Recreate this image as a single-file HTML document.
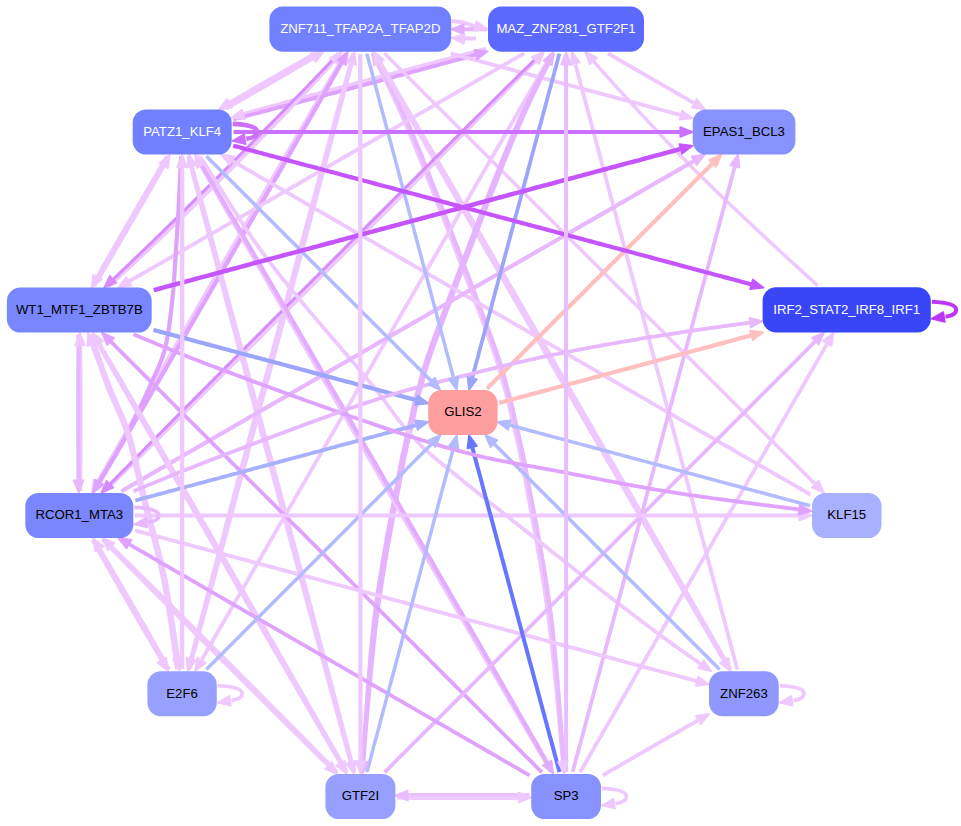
<!DOCTYPE html>
<html><head><meta charset="utf-8"><title>network</title>
<style>html,body{margin:0;padding:0;background:#fff}svg{display:block}text{font-family:"Liberation Sans",Arial,Helvetica,sans-serif;font-size:13.2px;text-anchor:middle}</style>
</head><body>
<svg width="961" height="826" viewBox="0 0 961 826">
<rect width="961" height="826" fill="#fff"/>
<g stroke-linecap="butt" stroke-linejoin="round">
<path d="M226.3,107.8 L229.3,106.1 232.0,104.6 234.6,103.1 237.3,101.6 240.0,100.1 242.7,98.5 245.5,96.9 248.3,95.4 251.1,93.8 253.9,92.1 256.7,90.5 259.5,88.9 262.4,87.3 265.2,85.6 268.1,84.0 271.0,82.3 273.8,80.7 276.7,79.0 279.5,77.4 282.4,75.7 285.2,74.1 288.1,72.4 290.9,70.8 293.7,69.2 296.4,67.5 299.2,65.9 301.9,64.3 304.6,62.8 307.3,61.2 310.0,59.6 312.6,58.1" stroke="#eec8ff" stroke-width="4.7" fill="none"/>
<path d="M316.2,53.4 L313.2,55.1 310.5,56.6 307.9,58.1 305.2,59.6 302.5,61.1 299.8,62.7 297.0,64.3 294.2,65.8 291.4,67.4 288.6,69.1 285.8,70.7 283.0,72.3 280.1,73.9 277.3,75.6 274.4,77.2 271.5,78.9 268.7,80.5 265.8,82.2 263.0,83.8 260.1,85.5 257.3,87.1 254.4,88.8 251.6,90.4 248.8,92.0 246.1,93.7 243.3,95.3 240.6,96.9 237.9,98.4 235.2,100.0 232.5,101.6 229.9,103.1" stroke="#eec8ff" stroke-width="4.7" fill="none"/>
<path d="M486.4,49.3 L483.2,50.1 480.0,50.9 476.8,51.8 473.5,52.6 470.2,53.5 466.9,54.3 463.6,55.2 460.2,56.1 457.3,56.9 454.3,57.6 451.4,58.4 448.4,59.2 445.4,60.0 442.4,60.8 439.4,61.6 436.3,62.4 433.3,63.2 430.2,64.0 427.2,64.8 424.1,65.6 421.0,66.5 417.9,67.3 414.8,68.1 411.6,68.9 408.5,69.8 405.4,70.6 402.2,71.4 399.1,72.3 395.9,73.1 392.7,74.0 389.6,74.8 386.4,75.7 383.2,76.5 380.0,77.4 376.9,78.2 373.7,79.1 370.5,79.9 367.3,80.8 364.2,81.6 361.0,82.5 357.8,83.3 354.6,84.2 351.5,85.0 348.3,85.9 345.2,86.7 342.0,87.6 338.9,88.4 335.8,89.3 332.6,90.1 329.5,90.9 326.4,91.8 323.3,92.6 320.3,93.4 317.2,94.3 314.1,95.1 311.1,95.9 308.1,96.8 305.0,97.6 302.0,98.4 299.1,99.2 296.1,100.0 293.2,100.8 290.2,101.6 287.3,102.4 283.9,103.3 280.6,104.2 277.3,105.2 274.0,106.1 270.7,106.9 267.5,107.8 264.3,108.7 261.2,109.6 258.0,110.4 255.0,111.3 251.9,112.1 248.9,113.0 245.9,113.8 244.0,114.3" stroke="#eec8ff" stroke-width="4.8" fill="none"/>
<path d="M233.4,119.3 L236.7,118.4 240.1,117.6 243.6,116.7 246.5,115.9 249.5,115.1 252.5,114.4 255.6,113.6 258.7,112.8 261.8,111.9 265.0,111.1 268.2,110.3 271.4,109.4 274.7,108.6 278.0,107.7 281.3,106.9 284.6,106.0 288.0,105.1 290.9,104.3 293.9,103.6 296.8,102.8 299.8,102.0 302.8,101.2 305.8,100.4 308.8,99.6 311.9,98.8 314.9,98.0 318.0,97.2 321.0,96.4 324.1,95.6 327.2,94.7 330.3,93.9 333.4,93.1 336.6,92.3 339.7,91.4 342.8,90.6 346.0,89.8 349.1,88.9 352.3,88.1 355.5,87.2 358.6,86.4 361.8,85.5 365.0,84.7 368.2,83.8 371.3,83.0 374.5,82.1 377.7,81.3 380.9,80.4 384.0,79.6 387.2,78.7 390.4,77.9 393.6,77.0 396.7,76.2 399.9,75.3 403.0,74.5 406.2,73.6 409.3,72.8 412.4,71.9 415.6,71.1 418.7,70.3 421.8,69.4 424.9,68.6 427.9,67.8 431.0,66.9 434.1,66.1 437.1,65.3 440.1,64.4 443.2,63.6 446.2,62.8 449.1,62.0 452.1,61.2 455.0,60.4 458.0,59.6 460.9,58.8 464.3,57.9 467.6,57.0 470.9,56.0 474.2,55.1 475.3,54.8" stroke="#dfa3ff" stroke-width="3.9" fill="none"/>
<path d="M108.3,286.1 L110.6,284.0 113.0,281.9 115.5,279.7 118.0,277.4 120.5,275.1 123.1,272.8 125.7,270.4 128.2,268.1 130.4,266.0 132.7,263.9 135.0,261.8 137.3,259.6 139.7,257.4 142.0,255.2 144.4,253.0 146.9,250.7 149.3,248.4 151.8,246.1 154.2,243.7 156.7,241.3 159.2,238.9 161.7,236.6 163.8,234.5 166.0,232.4 168.3,230.3 170.5,228.2 172.7,226.0 174.9,223.9 177.2,221.7 179.4,219.5 181.7,217.3 184.0,215.1 186.3,212.9 188.6,210.6 190.9,208.4 193.2,206.1 195.5,203.9 197.8,201.6 200.1,199.3 202.4,197.1 204.7,194.8 207.0,192.5 209.4,190.2 211.7,187.9 214.0,185.6 216.4,183.3 218.7,180.9 221.0,178.6 223.3,176.3 225.7,174.0 228.0,171.6 230.3,169.3 232.6,167.0 234.9,164.7 237.3,162.3 239.6,160.0 241.9,157.7 244.2,155.4 246.5,153.0 248.7,150.7 251.0,148.4 253.3,146.1 255.6,143.8 257.8,141.5 260.1,139.2 262.3,136.9 264.5,134.6 266.7,132.3 268.9,130.1 271.1,127.8 273.3,125.6 275.5,123.3 277.6,121.1 279.8,118.9 281.9,116.7 284.0,114.5 286.1,112.3 288.3,110.0 290.7,107.4 293.1,104.9 295.5,102.5 297.8,100.0 300.1,97.5 302.4,95.1 304.7,92.7 306.9,90.3 309.1,88.0 311.3,85.6 313.4,83.3 315.5,81.1 317.6,78.8 319.8,76.4 322.2,73.8 324.6,71.2 326.9,68.7 329.1,66.2 331.3,63.7 333.5,61.3" stroke="#eec8ff" stroke-width="4.2" fill="none"/>
<path d="M338.2,53.7 L335.8,56.3 333.7,58.6 331.5,60.9 329.3,63.2 327.0,65.7 324.7,68.1 322.3,70.6 319.9,73.2 317.4,75.8 315.3,78.0 313.2,80.2 311.0,82.4 308.8,84.7 306.6,87.0 304.4,89.3 302.1,91.7 299.8,94.1 297.5,96.5 295.1,98.9 292.7,101.3 290.3,103.8 287.9,106.3 285.5,108.8 283.4,110.9 281.2,113.1 279.1,115.3 277.0,117.5 274.8,119.7 272.6,121.9 270.4,124.1 268.2,126.4 266.0,128.6 263.8,130.9 261.6,133.2 259.3,135.4 257.1,137.7 254.8,140.0 252.5,142.3 250.3,144.6 248.0,146.9 245.7,149.2 243.4,151.5 241.1,153.8 238.8,156.1 236.5,158.5 234.2,160.8 231.8,163.1 229.5,165.4 227.2,167.8 224.9,170.1 222.6,172.4 220.2,174.7 217.9,177.1 215.6,179.4 213.2,181.7 210.9,184.0 208.6,186.3 206.3,188.6 204.0,190.9 201.6,193.2 199.3,195.5 197.0,197.8 194.7,200.1 192.4,202.4 190.1,204.6 187.8,206.9 185.6,209.2 183.3,211.4 181.0,213.6 178.8,215.8 176.5,218.1 174.3,220.3 172.1,222.4 169.8,224.6 167.6,226.8 165.4,228.9 163.2,231.1 161.1,233.2 158.9,235.3 156.4,237.7 153.9,240.2 151.5,242.6 149.0,244.9 146.6,247.3 144.2,249.6 141.8,251.9 139.5,254.2 137.1,256.4 134.8,258.6 132.5,260.8 130.3,263.0 128.1,265.1 125.9,267.2 123.3,269.7 120.7,272.1 118.2,274.5 115.8,276.8 113.4,279.1" stroke="#d68cff" stroke-width="3.0" fill="none"/>
<path d="M345.6,53.7 L343.9,56.5 342.2,59.4 340.5,62.3 338.7,65.4 336.8,68.5 335.0,71.6 333.4,74.2 331.9,76.9 330.3,79.6 328.7,82.3 327.0,85.1 325.3,88.0 323.6,90.9 321.9,93.8 320.2,96.8 318.4,99.8 316.6,102.9 315.0,105.7 313.4,108.3 311.9,110.9 310.3,113.6 308.8,116.3 307.2,119.0 305.6,121.7 304.0,124.4 302.4,127.2 300.7,130.0 299.1,132.8 297.4,135.7 295.7,138.6 294.1,141.4 292.4,144.3 290.7,147.3 288.9,150.2 287.2,153.2 285.5,156.2 283.7,159.2 282.1,162.0 280.6,164.6 279.1,167.2 277.5,169.8 276.0,172.4 274.5,175.1 272.9,177.7 271.4,180.4 269.8,183.1 268.3,185.8 266.7,188.5 265.1,191.2 263.5,193.9 262.0,196.6 260.4,199.3 258.8,202.1 257.2,204.8 255.6,207.6 254.0,210.3 252.4,213.1 250.8,215.9 249.2,218.7 247.5,221.5 245.9,224.3 244.3,227.1 242.7,229.9 241.0,232.7 239.4,235.5 237.8,238.3 236.2,241.1 234.5,243.9 232.9,246.8 231.2,249.6 229.6,252.4 228.0,255.3 226.3,258.1 224.7,260.9 223.0,263.8 221.4,266.6 219.8,269.5 218.1,272.3 216.5,275.2 214.8,278.0 213.2,280.8 211.6,283.7 209.9,286.5 208.3,289.4 206.6,292.2 205.0,295.0 203.4,297.9 201.7,300.7 200.1,303.5 198.5,306.3 196.9,309.1 195.2,312.0 193.6,314.8 192.0,317.6 190.4,320.4 188.8,323.2 187.2,326.0 185.6,328.7 184.0,331.5 182.4,334.3 180.8,337.1 179.2,339.8 177.6,342.6 176.0,345.3 174.5,348.0 172.9,350.8 171.3,353.5 169.8,356.2 168.2,358.9 166.7,361.6 165.1,364.3 163.6,366.9 162.1,369.6 160.6,372.2 159.1,374.9 157.5,377.5 156.0,380.1 154.6,382.7 152.8,385.8 151.1,388.8 149.4,391.7 147.7,394.7 146.0,397.7 144.3,400.6 142.7,403.5 141.0,406.4 139.4,409.3 137.7,412.1 136.1,414.9 134.5,417.7 132.9,420.5 131.4,423.3 129.8,426.0 128.3,428.7 126.7,431.4 125.2,434.1 123.7,436.7 122.2,439.3 120.5,442.4 118.7,445.5 117.0,448.5 115.3,451.5 113.6,454.4 112.0,457.3 110.4,460.1 108.8,462.9 107.2,465.7 105.7,468.4 104.2,471.1 102.6,473.9 100.8,477.1 99.0,480.2 98.2,481.8" stroke="#eec8ff" stroke-width="4.2" fill="none"/>
<path d="M94.0,491.0 L95.7,488.2 97.4,485.3 99.2,482.4 101.0,479.3 102.8,476.2 104.7,473.1 106.2,470.5 107.8,467.8 109.4,465.1 111.0,462.4 112.6,459.6 114.3,456.7 116.0,453.8 117.7,450.9 119.5,447.9 121.2,444.9 123.0,441.8 124.7,439.0 126.2,436.4 127.8,433.8 129.3,431.1 130.9,428.4 132.5,425.7 134.1,423.0 135.7,420.3 137.3,417.5 138.9,414.7 140.6,411.9 142.2,409.0 143.9,406.1 145.6,403.3 147.3,400.4 149.0,397.4 150.7,394.5 152.4,391.5 154.2,388.5 155.9,385.5 157.6,382.7 159.1,380.1 160.6,377.5 162.1,374.9 163.6,372.3 165.2,369.6 166.7,367.0 168.3,364.3 169.8,361.6 171.4,358.9 173.0,356.2 174.5,353.5 176.1,350.8 177.7,348.1 179.3,345.4 180.9,342.6 182.5,339.9 184.1,337.1 185.7,334.4 187.3,331.6 188.9,328.8 190.5,326.0 192.1,323.2 193.7,320.4 195.4,317.6 197.0,314.8 198.6,312.0 200.2,309.2 201.9,306.4 203.5,303.6 205.1,300.8 206.8,297.9 208.4,295.1 210.0,292.3 211.7,289.4 213.3,286.6 215.0,283.8 216.6,280.9 218.3,278.1 219.9,275.2 221.5,272.4 223.2,269.5 224.8,266.7 226.5,263.9 228.1,261.0 229.7,258.2 231.4,255.3 233.0,252.5 234.6,249.7 236.3,246.8 237.9,244.0 239.5,241.2 241.2,238.4 242.8,235.6 244.4,232.7 246.0,229.9 247.6,227.1 249.3,224.3 250.9,221.5 252.5,218.7 254.1,216.0 255.7,213.2 257.3,210.4 258.9,207.6 260.5,204.9 262.0,202.1 263.6,199.4 265.2,196.7 266.7,193.9 268.3,191.2 269.9,188.5 271.4,185.8 273.0,183.1 274.5,180.4 276.0,177.8 277.6,175.1 279.1,172.5 280.6,169.8 282.1,167.2 283.6,164.6 285.1,162.0 286.8,158.9 288.5,155.9 290.3,153.0 292.0,150.0 293.6,147.0 295.3,144.1 297.0,141.2 298.6,138.3 300.3,135.4 301.9,132.6 303.5,129.8 305.1,127.0 306.7,124.2 308.3,121.4 309.8,118.7 311.4,116.0 312.9,113.3 314.4,110.6 315.9,108.0 317.4,105.4 319.2,102.3 320.9,99.2 322.6,96.2 324.3,93.2 326.0,90.3 327.6,87.4 329.3,84.6 330.9,81.8 332.4,79.0 334.0,76.3 335.5,73.6 337.1,70.8 338.9,67.6 340.6,64.5 341.5,62.9" stroke="#dfa3ff" stroke-width="4.2" fill="none"/>
<path d="M188.8,669.7 L189.8,666.3 190.6,663.4 191.4,660.3 192.3,657.2 193.2,654.0 194.1,650.7 195.0,647.4 195.9,643.9 196.9,640.4 197.9,636.9 198.8,633.6 199.6,630.7 200.4,627.7 201.2,624.6 202.1,621.6 202.9,618.4 203.8,615.3 204.6,612.1 205.5,608.8 206.4,605.6 207.3,602.2 208.2,598.9 209.2,595.5 210.1,592.1 211.0,588.8 211.8,585.9 212.6,583.0 213.4,580.0 214.2,577.0 215.0,574.0 215.8,571.0 216.7,567.9 217.5,564.9 218.3,561.8 219.2,558.7 220.0,555.5 220.9,552.4 221.7,549.2 222.6,546.0 223.5,542.8 224.3,539.6 225.2,536.3 226.1,533.1 227.0,529.8 227.9,526.5 228.8,523.2 229.7,519.9 230.6,516.5 231.5,513.1 232.4,509.9 233.2,507.0 234.0,504.1 234.7,501.2 235.5,498.2 236.3,495.3 237.1,492.3 237.9,489.3 238.7,486.4 239.5,483.4 240.4,480.4 241.2,477.4 242.0,474.3 242.8,471.3 243.6,468.3 244.4,465.2 245.3,462.2 246.1,459.1 246.9,456.1 247.7,453.0 248.6,449.9 249.4,446.8 250.2,443.8 251.1,440.7 251.9,437.6 252.7,434.5 253.6,431.3 254.4,428.2 255.2,425.1 256.1,422.0 256.9,418.8 257.8,415.7 258.6,412.6 259.5,409.4 260.3,406.3 261.1,403.1 262.0,400.0 262.8,396.8 263.7,393.7 264.5,390.5 265.4,387.3 266.2,384.2 267.1,381.0 267.9,377.8 268.8,374.7 269.6,371.5 270.5,368.3 271.3,365.2 272.2,362.0 273.0,358.8 273.9,355.7 274.7,352.5 275.6,349.3 276.4,346.1 277.3,343.0 278.1,339.8 279.0,336.6 279.8,333.5 280.7,330.3 281.5,327.2 282.4,324.0 283.2,320.9 284.1,317.7 284.9,314.6 285.7,311.4 286.6,308.3 287.4,305.1 288.3,302.0 289.1,298.9 289.9,295.7 290.8,292.6 291.6,289.5 292.4,286.4 293.3,283.3 294.1,280.2 294.9,277.1 295.7,274.0 296.6,270.9 297.4,267.9 298.2,264.8 299.0,261.8 299.8,258.7 300.6,255.7 301.4,252.6 302.3,249.6 303.1,246.6 303.9,243.6 304.7,240.6 305.5,237.6 306.3,234.6 307.0,231.6 307.8,228.6 308.6,225.7 309.4,222.7 310.2,219.8 311.0,216.9 311.7,214.0 312.6,210.8 313.5,207.4 314.4,204.1 315.3,200.8 316.1,197.4 317.0,194.1 317.9,190.8 318.8,187.6 319.6,184.3 320.5,181.1 321.3,177.9 322.2,174.7 323.0,171.5 323.9,168.3 324.7,165.2 325.5,162.1 326.3,159.0 327.2,155.9 328.0,152.8 328.8,149.8 329.6,146.8 330.4,143.8 331.1,140.8 331.9,137.9 332.7,135.0 333.5,131.8 334.4,128.3 335.3,124.9 336.2,121.6 337.1,118.2 338.0,114.9 338.8,111.7 339.7,108.5 340.5,105.3 341.3,102.2 342.2,99.1 343.0,96.0 343.7,93.0 344.5,90.0 345.4,86.9 346.3,83.3 347.2,79.8 348.1,76.3 349.0,73.0 349.9,69.7 350.7,66.4 351.3,64.3" stroke="#eec8ff" stroke-width="4.2" fill="none"/>
<path d="M353.4,53.9 L352.5,57.1 351.7,60.0 350.8,63.1 350.0,66.2 349.1,69.4 348.2,72.7 347.3,76.1 346.3,79.5 345.4,83.0 344.4,86.6 343.5,89.8 342.7,92.7 341.9,95.7 341.0,98.8 340.2,101.9 339.3,105.0 338.5,108.2 337.6,111.4 336.7,114.6 335.8,117.9 334.9,121.2 334.0,124.6 333.1,128.0 332.1,131.4 331.3,134.6 330.5,137.5 329.7,140.4 328.9,143.4 328.1,146.4 327.3,149.4 326.4,152.4 325.6,155.5 324.8,158.5 323.9,161.6 323.1,164.7 322.2,167.9 321.4,171.0 320.5,174.2 319.7,177.4 318.8,180.6 317.9,183.8 317.0,187.1 316.1,190.4 315.3,193.6 314.4,197.0 313.5,200.3 312.6,203.6 311.7,207.0 310.7,210.3 309.9,213.5 309.1,216.4 308.3,219.3 307.5,222.2 306.7,225.2 305.9,228.1 305.1,231.1 304.3,234.1 303.5,237.0 302.7,240.0 301.9,243.0 301.1,246.0 300.3,249.1 299.5,252.1 298.6,255.1 297.8,258.2 297.0,261.2 296.2,264.3 295.4,267.3 294.5,270.4 293.7,273.5 292.9,276.6 292.0,279.7 291.2,282.8 290.4,285.9 289.5,289.0 288.7,292.1 287.9,295.2 287.0,298.3 286.2,301.4 285.3,304.6 284.5,307.7 283.6,310.8 282.8,314.0 282.0,317.1 281.1,320.3 280.3,323.4 279.4,326.6 278.6,329.8 277.7,332.9 276.9,336.1 276.0,339.2 275.2,342.4 274.3,345.6 273.5,348.7 272.6,351.9 271.8,355.1 270.9,358.3 270.1,361.4 269.2,364.6 268.4,367.8 267.5,370.9 266.7,374.1 265.8,377.3 265.0,380.4 264.1,383.6 263.3,386.8 262.4,389.9 261.6,393.1 260.7,396.3 259.9,399.4 259.0,402.6 258.2,405.7 257.4,408.9 256.5,412.0 255.7,415.2 254.8,418.3 254.0,421.4 253.2,424.5 252.3,427.7 251.5,430.8 250.7,433.9 249.8,437.0 249.0,440.1 248.2,443.2 247.4,446.3 246.5,449.4 245.7,452.5 244.9,455.5 244.1,458.6 243.3,461.7 242.4,464.7 241.6,467.7 240.8,470.8 240.0,473.8 239.2,476.8 238.4,479.8 237.6,482.8 236.8,485.8 236.0,488.8 235.2,491.8 234.4,494.8 233.6,497.7 232.9,500.7 232.1,503.6 231.3,506.5 230.5,509.4 229.7,512.6 228.8,516.0 227.9,519.4 227.0,522.7 226.1,526.0 225.2,529.3 224.4,532.6 223.5,535.9 222.6,539.1 221.8,542.4 220.9,545.6 220.1,548.8 219.2,552.0 218.4,555.1 217.6,558.2 216.7,561.4 215.9,564.5 215.1,567.5 214.3,570.6 213.5,573.6 212.7,576.6 211.9,579.6 211.1,582.6 210.3,585.5 209.6,588.4 208.7,591.7 207.8,595.1 206.9,598.5 206.0,601.9 205.1,605.2 204.3,608.5 203.4,611.7 202.6,615.0 201.7,618.1 200.9,621.2 200.1,624.3 199.3,627.4 198.5,630.4 197.7,633.3 196.9,636.6 195.9,640.2 195.0,643.7 194.1,647.1 193.3,650.5 192.4,653.8 191.6,657.0 191.1,658.6" stroke="#eec8ff" stroke-width="4.2" fill="none"/>
<path d="M372.5,53.5 L373.9,56.3 375.4,59.3 376.8,62.2 378.2,65.0 379.7,67.9 381.1,70.7 382.4,73.4 383.8,76.2 385.1,79.0 386.5,82.0 387.9,84.8 389.2,87.5 390.5,90.3 391.9,93.1 393.2,96.0 394.6,98.9 395.8,101.7 397.1,104.4 398.3,107.2 399.6,110.0 400.9,112.9 402.2,115.8 403.5,118.8 404.8,121.7 406.0,124.5 407.2,127.3 408.4,130.2 409.6,133.0 410.8,135.9 411.9,138.7 413.1,141.5 414.2,144.3 415.4,147.1 416.5,149.9 417.7,152.7 418.8,155.5 419.9,158.3 421.1,161.1 422.2,163.9 423.4,166.9 424.5,169.8 425.7,172.7 426.8,175.5 427.9,178.4 429.1,181.3 430.2,184.2 431.4,187.2 432.5,190.0 433.6,192.9 434.8,195.8 435.9,198.6 437.0,201.5 438.1,204.4 439.3,207.3 440.4,210.3 441.5,213.2 442.7,216.1 443.8,218.9 444.9,221.8 445.9,224.6 447.0,227.4 448.1,230.2 449.2,233.0 450.3,235.8 451.4,238.8 452.6,241.7 453.7,244.7 454.8,247.6 455.9,250.5 457.0,253.4 458.1,256.3 459.2,259.2 460.3,262.0 461.4,264.9 462.5,267.7 463.6,270.5 464.6,273.4 465.7,276.3 466.8,279.1 468.0,282.1 469.1,285.0 470.2,288.0 471.3,290.9 472.4,293.7 473.4,296.5 474.5,299.4 475.6,302.3 476.7,305.2 477.8,308.1 478.9,311.0 480.0,313.8 481.0,316.7 482.1,319.6 483.2,322.5 484.3,325.4 485.4,328.5 486.6,331.5 487.7,334.6 488.8,337.5 489.8,340.3 490.8,343.2 491.9,346.1 493.0,349.1 494.0,352.2 495.0,355.0 496.1,358.1 497.1,361.4 498.2,364.6 499.2,367.8 500.1,371.0 501.1,374.4 501.9,377.5 502.6,380.4 503.4,383.4 504.3,386.6 505.4,390.2 506.3,393.5 507.4,397.5 508.3,400.9 509.0,404.1 509.7,407.1 510.4,410.4 511.2,414.3 512.0,417.7 512.8,421.2 513.6,424.8 514.4,428.3 515.3,431.8 516.2,435.5 517.0,439.0 517.7,442.1 518.5,445.4 519.3,448.9 519.9,452.0 520.6,455.3 521.3,458.5 521.9,461.6 522.5,464.9 523.1,468.1 523.7,471.2 524.3,474.5 524.9,477.5 525.5,480.7 526.1,483.8 526.6,486.8 527.2,489.9 527.8,493.1 528.4,496.4 529.0,499.5 529.6,502.6 530.2,505.7 530.7,508.8 531.3,511.7 531.8,514.8 532.4,517.8 533.0,521.0 533.6,524.1 534.1,527.3 534.7,530.5 535.3,533.5 535.8,536.5 536.3,539.6 536.9,542.6 537.4,545.7 538.0,548.9 538.5,552.0 539.1,555.2 539.6,558.4 540.2,561.5 540.7,564.5 541.2,567.5 541.7,570.5 542.2,573.5 542.6,576.6 543.1,579.6 543.6,582.6 544.1,585.7 544.6,588.8 545.0,591.8 545.5,594.9 545.9,598.0 546.4,601.1 546.8,604.1 547.3,607.2 547.7,610.3 548.1,613.4 548.5,616.4 548.9,619.5 549.3,622.6 549.7,625.8 550.1,628.9 550.5,632.0 550.8,635.1 551.2,638.1 551.5,641.1 551.9,644.2 552.2,647.4 552.6,650.5 552.9,653.5 553.2,656.5 553.5,659.6 553.8,662.7 554.2,665.8 554.5,669.0 554.8,672.2 555.1,675.3 555.4,678.3 555.7,681.3 556.0,684.3 556.3,687.4 556.6,690.4 556.9,693.4 557.1,696.5 557.4,699.5 557.7,702.6 558.0,705.6 558.3,708.6 558.5,711.6 558.8,714.6 559.1,717.6 559.4,720.8 559.7,723.9 559.9,727.0 560.2,730.1 560.5,733.2 560.8,736.2 561.0,739.2 561.3,742.2 561.6,745.3 561.8,748.4 562.1,751.6 562.4,754.8 562.7,757.9 562.9,760.9 563.0,761.4" stroke="#eec8ff" stroke-width="4.3" fill="none"/>
<path d="M564.3,772.2 L564.0,769.1 563.8,766.0 563.6,763.0 563.4,759.9 563.2,756.9 562.9,753.7 562.7,750.5 562.5,747.4 562.3,744.3 562.0,741.2 561.8,738.2 561.6,735.2 561.4,732.2 561.1,729.1 560.9,726.0 560.7,722.9 560.4,719.7 560.2,716.6 560.0,713.6 559.8,710.6 559.5,707.6 559.3,704.6 559.0,701.5 558.8,698.5 558.6,695.5 558.3,692.4 558.1,689.4 557.8,686.4 557.6,683.3 557.3,680.3 557.1,677.3 556.8,674.3 556.5,671.1 556.3,667.9 556.0,664.8 555.7,661.7 555.4,658.6 555.1,655.5 554.8,652.5 554.6,649.5 554.2,646.3 553.9,643.2 553.6,640.1 553.3,637.1 553.0,634.1 552.7,631.0 552.3,627.9 552.0,624.7 551.6,621.6 551.2,618.5 550.8,615.4 550.4,612.3 550.0,609.3 549.6,606.2 549.2,603.1 548.8,600.0 548.3,597.0 547.9,593.9 547.4,590.8 547.0,587.7 546.5,584.7 546.0,581.6 545.5,578.6 545.1,575.6 544.6,572.5 544.1,569.5 543.6,566.5 543.1,563.5 542.6,560.5 542.0,557.3 541.5,554.1 540.9,551.0 540.4,547.8 539.8,544.7 539.3,541.6 538.7,538.5 538.2,535.5 537.6,532.5 537.1,529.5 536.5,526.3 535.9,523.1 535.3,519.9 534.7,516.8 534.1,513.8 533.6,510.7 533.0,507.8 532.4,504.7 531.8,501.5 531.2,498.4 530.6,495.3 530.0,492.0 529.4,488.9 528.8,485.8 528.3,482.8 527.7,479.6 527.1,476.5 526.6,473.4 525.9,470.1 525.4,467.1 524.7,463.7 524.1,460.5 523.5,457.5 522.8,454.1 522.1,450.9 521.4,447.7 520.6,444.2 519.9,441.0 519.2,438.0 518.3,434.2 517.4,430.6 516.6,427.1 515.7,423.6 514.9,420.0 514.1,416.6 513.4,412.9 512.6,409.3 511.9,406.1 511.2,403.0 510.4,399.8 509.4,396.1 508.4,392.5 507.4,389.0 506.4,385.5 505.6,382.4 504.8,379.4 504.0,376.5 503.2,373.3 502.2,369.8 501.3,366.8 500.2,363.4 499.2,360.3 498.1,357.1 497.1,354.1 496.1,351.2 495.0,348.1 493.9,345.1 492.9,342.2 491.8,339.3 490.8,336.5 489.7,333.6 488.6,330.5 487.4,327.4 486.3,324.4 485.2,321.5 484.2,318.7 483.1,315.8 482.0,312.9 480.9,310.0 479.8,307.1 478.8,304.2 477.7,301.3 476.6,298.5 475.5,295.6 474.5,292.8 473.4,289.9 472.3,287.0 471.2,284.1 470.1,281.1 469.0,278.2 467.9,275.3 466.8,272.4 465.7,269.6 464.6,266.7 463.6,263.9 462.5,261.1 461.4,258.2 460.3,255.3 459.2,252.5 458.1,249.5 457.0,246.6 455.9,243.7 454.7,240.8 453.6,237.8 452.5,234.9 451.4,232.1 450.3,229.2 449.2,226.4 448.1,223.6 447.1,220.8 446.0,218.0 444.9,215.2 443.7,212.2 442.6,209.3 441.5,206.4 440.3,203.5 439.2,200.6 438.1,197.7 437.0,194.8 435.8,191.9 434.7,189.1 433.6,186.2 432.4,183.2 431.2,180.3 430.1,177.4 429.0,174.6 427.8,171.7 426.7,168.8 425.5,165.9 424.3,163.0 423.2,160.2 422.1,157.4 421.0,154.6 419.8,151.8 418.7,149.0 417.5,146.2 416.3,143.4 415.2,140.5 414.0,137.7 412.8,134.9 411.6,132.1 410.3,129.2 409.1,126.4 407.9,123.6 406.6,120.8 405.3,117.8 403.9,114.9 402.6,112.0 401.3,109.1 400.0,106.3 398.7,103.5 397.3,100.8 396.0,98.0 394.6,95.1 393.2,92.2 391.8,89.4 390.4,86.6 389.1,83.9 387.6,81.0 386.1,78.1 384.7,75.3 383.2,72.5 381.8,69.8 380.3,66.9 378.8,64.1 378.3,63.1" stroke="#e8b8ff" stroke-width="4.3" fill="none"/>
<path d="M373.9,53.4 L375.7,56.6 377.2,59.2 378.8,62.0 380.3,64.8 382.0,67.6 383.6,70.6 385.3,73.5 387.0,76.6 388.8,79.7 390.6,82.8 392.4,86.0 394.0,88.9 395.6,91.5 397.1,94.2 398.6,96.9 400.2,99.7 401.8,102.5 403.4,105.3 405.0,108.1 406.7,111.0 408.3,113.9 410.0,116.9 411.7,119.9 413.4,122.9 415.2,125.9 416.9,129.0 418.7,132.1 420.2,134.7 421.7,137.4 423.2,140.0 424.8,142.7 426.3,145.3 427.8,148.0 429.4,150.8 431.0,153.5 432.5,156.2 434.1,159.0 435.7,161.8 437.3,164.6 438.9,167.4 440.6,170.2 442.2,173.1 443.8,175.9 445.5,178.8 447.1,181.7 448.8,184.6 450.5,187.6 452.2,190.5 453.9,193.4 455.6,196.4 457.3,199.4 459.0,202.4 460.7,205.4 462.5,208.4 464.2,211.4 465.7,214.1 467.2,216.7 468.8,219.4 470.3,222.0 471.8,224.6 473.3,227.3 474.8,230.0 476.4,232.6 477.9,235.3 479.5,238.0 481.0,240.7 482.6,243.4 484.1,246.1 485.7,248.8 487.2,251.5 488.8,254.2 490.4,257.0 491.9,259.7 493.5,262.4 495.1,265.2 496.7,267.9 498.3,270.7 499.9,273.5 501.5,276.2 503.1,279.0 504.7,281.8 506.3,284.6 507.9,287.4 509.5,290.2 511.1,293.0 512.7,295.8 514.3,298.6 515.9,301.4 517.6,304.2 519.2,307.0 520.8,309.8 522.4,312.6 524.1,315.5 525.7,318.3 527.3,321.1 529.0,324.0 530.6,326.8 532.2,329.6 533.9,332.5 535.5,335.3 537.2,338.1 538.8,341.0 540.4,343.8 542.1,346.7 543.7,349.5 545.4,352.4 547.0,355.2 548.6,358.1 550.3,360.9 551.9,363.8 553.6,366.6 555.2,369.5 556.9,372.3 558.5,375.1 560.2,378.0 561.8,380.8 563.4,383.7 565.1,386.5 566.7,389.4 568.4,392.2 570.0,395.0 571.6,397.9 573.3,400.7 574.9,403.5 576.5,406.4 578.2,409.2 579.8,412.0 581.4,414.8 583.1,417.7 584.7,420.5 586.3,423.3 587.9,426.1 589.6,428.9 591.2,431.7 592.8,434.5 594.4,437.3 596.0,440.0 597.6,442.8 599.2,445.6 600.8,448.4 602.4,451.1 604.0,453.9 605.6,456.7 607.2,459.4 608.8,462.1 610.4,464.9 612.0,467.6 613.6,470.3 615.1,473.1 616.7,475.8 618.3,478.5 619.8,481.2 621.4,483.9 622.9,486.5 624.5,489.2 626.0,491.9 627.6,494.6 629.1,497.2 630.7,499.8 632.2,502.5 633.7,505.1 635.2,507.7 636.7,510.3 638.3,513.1 640.1,516.1 641.8,519.1 643.6,522.1 645.3,525.1 647.0,528.1 648.7,531.0 650.5,534.0 652.2,536.9 653.8,539.8 655.5,542.7 657.2,545.6 658.9,548.5 660.5,551.3 662.2,554.1 663.8,557.0 665.4,559.8 667.1,562.6 668.7,565.3 670.3,568.1 671.9,570.8 673.5,573.5 675.0,576.2 676.6,578.9 678.1,581.6 679.7,584.2 681.2,586.8 682.7,589.4 684.3,592.2 686.1,595.3 687.9,598.3 689.7,601.3 691.4,604.3 693.1,607.3 694.8,610.2 696.5,613.1 698.2,616.0 699.8,618.8 701.5,621.6 703.1,624.4 704.7,627.1 706.3,629.8 707.8,632.4 709.3,635.1 711.1,638.0 712.9,641.2 714.7,644.3 716.5,647.4 718.3,650.4 720.0,653.3 721.7,656.2 723.4,659.0 724.2,660.4" stroke="#eec8ff" stroke-width="4.3" fill="none"/>
<path d="M730.3,669.5 L728.5,666.3 727.0,663.7 725.4,660.9 723.9,658.1 722.2,655.3 720.6,652.3 718.9,649.4 717.2,646.3 715.4,643.2 713.6,640.1 711.8,636.9 710.2,634.0 708.6,631.4 707.1,628.7 705.6,626.0 704.0,623.2 702.4,620.4 700.8,617.6 699.2,614.8 697.5,611.9 695.9,609.0 694.2,606.0 692.5,603.0 690.8,600.0 689.0,597.0 687.3,593.9 685.5,590.8 684.0,588.2 682.5,585.5 681.0,582.9 679.4,580.2 677.9,577.6 676.4,574.9 674.8,572.1 673.2,569.4 671.7,566.7 670.1,563.9 668.5,561.1 666.9,558.3 665.3,555.5 663.6,552.7 662.0,549.8 660.4,547.0 658.7,544.1 657.1,541.2 655.4,538.3 653.7,535.3 652.0,532.4 650.3,529.5 648.6,526.5 646.9,523.5 645.2,520.5 643.5,517.5 641.7,514.5 640.0,511.5 638.5,508.8 637.0,506.2 635.4,503.5 633.9,500.9 632.4,498.3 630.9,495.6 629.4,492.9 627.8,490.3 626.3,487.6 624.7,484.9 623.2,482.2 621.6,479.5 620.1,476.8 618.5,474.1 617.0,471.4 615.4,468.7 613.8,465.9 612.3,463.2 610.7,460.5 609.1,457.7 607.5,455.0 605.9,452.2 604.3,449.4 602.7,446.7 601.1,443.9 599.5,441.1 597.9,438.3 596.3,435.5 594.7,432.7 593.1,429.9 591.5,427.1 589.9,424.3 588.3,421.5 586.6,418.7 585.0,415.9 583.4,413.1 581.8,410.3 580.1,407.4 578.5,404.6 576.9,401.8 575.2,398.9 573.6,396.1 572.0,393.3 570.3,390.4 568.7,387.6 567.0,384.8 565.4,381.9 563.8,379.1 562.1,376.2 560.5,373.4 558.8,370.5 557.2,367.7 555.6,364.8 553.9,362.0 552.3,359.1 550.6,356.3 549.0,353.4 547.3,350.6 545.7,347.8 544.0,344.9 542.4,342.1 540.8,339.2 539.1,336.4 537.5,333.5 535.8,330.7 534.2,327.9 532.6,325.0 530.9,322.2 529.3,319.4 527.7,316.5 526.0,313.7 524.4,310.9 522.8,308.1 521.1,305.2 519.5,302.4 517.9,299.6 516.3,296.8 514.6,294.0 513.0,291.2 511.4,288.4 509.8,285.6 508.2,282.9 506.6,280.1 505.0,277.3 503.4,274.5 501.8,271.8 500.2,269.0 498.6,266.2 497.0,263.5 495.4,260.8 493.8,258.0 492.2,255.3 490.6,252.6 489.1,249.8 487.5,247.1 485.9,244.4 484.4,241.7 482.8,239.0 481.3,236.4 479.7,233.7 478.2,231.0 476.6,228.3 475.1,225.7 473.5,223.1 472.0,220.4 470.5,217.8 469.0,215.2 467.5,212.6 465.9,209.8 464.1,206.8 462.4,203.8 460.6,200.8 458.9,197.8 457.2,194.8 455.5,191.9 453.7,188.9 452.0,186.0 450.4,183.1 448.7,180.2 447.0,177.3 445.3,174.4 443.7,171.6 442.0,168.8 440.4,165.9 438.8,163.1 437.1,160.3 435.5,157.6 433.9,154.8 432.3,152.1 430.7,149.4 429.2,146.7 427.6,144.0 426.1,141.3 424.5,138.7 423.0,136.1 421.5,133.5 419.9,130.7 418.1,127.6 416.3,124.6 414.5,121.6 412.8,118.6 411.1,115.6 409.4,112.7 407.7,109.8 406.0,106.9 404.4,104.1 402.7,101.3 401.1,98.5 399.5,95.8 397.9,93.1 396.4,90.5 394.9,87.8 393.1,84.9 391.3,81.7 389.5,78.6 387.7,75.5 385.9,72.5 384.2,69.6 382.5,66.7 380.8,63.9 380.0,62.5" stroke="#eec8ff" stroke-width="4.3" fill="none"/>
<path d="M384.4,53.3 L386.7,55.6 389.0,57.9 391.4,60.3 393.9,62.8 396.4,65.3 398.9,67.8 401.5,70.4 404.0,72.9 406.2,75.1 408.4,77.3 410.6,79.5 412.8,81.7 415.1,84.0 417.4,86.3 419.8,88.7 422.1,91.0 424.5,93.4 427.0,95.9 429.4,98.3 431.9,100.8 434.4,103.3 436.9,105.8 439.0,107.9 441.1,110.0 443.3,112.2 445.5,114.4 447.7,116.6 449.9,118.8 452.1,121.0 454.4,123.3 456.6,125.5 458.9,127.8 461.2,130.1 463.5,132.4 465.8,134.7 468.2,137.0 470.5,139.4 472.9,141.8 475.2,144.1 477.6,146.5 480.0,148.9 482.5,151.3 484.9,153.8 487.3,156.2 489.8,158.6 492.2,161.1 494.7,163.5 496.8,165.7 498.9,167.8 501.1,169.9 503.2,172.1 505.4,174.2 507.5,176.4 509.7,178.6 511.9,180.8 514.1,183.0 516.3,185.2 518.5,187.4 520.7,189.6 522.9,191.8 525.1,194.0 527.3,196.2 529.6,198.4 531.8,200.7 534.1,202.9 536.3,205.2 538.6,207.4 540.8,209.7 543.1,211.9 545.3,214.2 547.6,216.5 549.9,218.7 552.2,221.0 554.4,223.3 556.7,225.6 559.0,227.9 561.3,230.2 563.6,232.5 565.9,234.8 568.2,237.1 570.5,239.4 572.8,241.7 575.1,244.0 577.4,246.3 579.7,248.6 582.1,250.9 584.4,253.2 586.7,255.5 589.0,257.9 591.3,260.2 593.6,262.5 596.0,264.8 598.3,267.1 600.6,269.4 602.9,271.8 605.2,274.1 607.6,276.4 609.9,278.7 612.2,281.1 614.5,283.4 616.8,285.7 619.2,288.0 621.5,290.3 623.8,292.6 626.1,295.0 628.4,297.3 630.7,299.6 633.0,301.9 635.3,304.2 637.6,306.5 640.0,308.8 642.2,311.1 644.5,313.4 646.8,315.7 649.1,318.0 651.4,320.3 653.7,322.5 656.0,324.8 658.3,327.1 660.5,329.4 662.8,331.6 665.1,333.9 667.3,336.2 669.6,338.4 671.8,340.7 674.1,342.9 676.3,345.1 678.5,347.4 680.8,349.6 683.0,351.8 685.2,354.0 687.4,356.2 689.6,358.4 691.8,360.6 694.0,362.8 696.2,365.0 698.4,367.2 700.5,369.4 702.7,371.5 704.9,373.7 707.0,375.8 709.2,378.0 711.3,380.1 713.5,382.4 716.0,384.8 718.5,387.3 720.9,389.7 723.3,392.2 725.8,394.6 728.2,397.0 730.6,399.4 732.9,401.8 735.3,404.1 737.7,406.5 740.0,408.8 742.3,411.2 744.6,413.5 746.9,415.8 749.2,418.1 751.5,420.3 753.8,422.6 756.0,424.8 758.2,427.0 760.4,429.2 762.6,431.4 764.8,433.6 766.9,435.7 769.1,437.9 771.3,440.1 773.9,442.7 776.3,445.2 778.8,447.6 781.2,450.1 783.7,452.5 786.0,454.9 788.4,457.2 790.7,459.5 793.0,461.8 795.3,464.1 797.5,466.3 799.7,468.5 801.9,470.7 804.1,472.9 806.8,475.6 809.3,478.1 811.9,480.7 814.3,483.1 815.2,484.0" stroke="#eec8ff" stroke-width="3.5" fill="none"/>
<path d="M450.8,53.4 L454.1,54.3 457.4,55.2 460.7,56.1 464.1,57.0 467.2,57.8 470.1,58.6 473.1,59.4 476.0,60.2 479.0,61.0 482.0,61.8 485.0,62.6 488.0,63.4 491.1,64.2 494.1,65.1 497.2,65.9 500.3,66.7 503.4,67.5 506.5,68.4 509.6,69.2 512.7,70.0 515.8,70.9 518.9,71.7 522.1,72.5 525.2,73.4 528.4,74.2 531.6,75.1 534.7,75.9 537.9,76.8 541.1,77.6 544.2,78.5 547.4,79.3 550.6,80.2 553.8,81.0 556.9,81.9 560.1,82.7 563.3,83.6 566.5,84.4 569.6,85.3 572.8,86.1 576.0,87.0 579.1,87.8 582.3,88.7 585.4,89.5 588.5,90.3 591.7,91.2 594.8,92.0 597.9,92.8 601.0,93.7 604.1,94.5 607.2,95.3 610.2,96.1 613.3,97.0 616.3,97.8 619.3,98.6 622.3,99.4 625.3,100.2 628.3,101.0 631.3,101.8 634.2,102.6 637.1,103.4 640.3,104.2 643.6,105.1 647.0,106.0 650.3,106.9 653.6,107.8 656.8,108.6 660.0,109.5 663.2,110.3 666.3,111.2 669.4,112.0 672.5,112.8 675.5,113.6 678.5,114.5 680.5,115.0" stroke="#eec8ff" stroke-width="3.8" fill="none"/>
<path d="M524.2,53.3 L521.5,54.9 518.8,56.4 516.1,58.0 513.3,59.6 510.5,61.2 507.7,62.9 504.8,64.5 501.9,66.2 498.9,67.9 495.9,69.7 492.8,71.4 489.8,73.2 487.2,74.7 484.6,76.2 481.9,77.7 479.2,79.3 476.5,80.8 473.8,82.4 471.0,84.0 468.3,85.6 465.5,87.2 462.6,88.9 459.8,90.5 456.9,92.2 454.0,93.8 451.1,95.5 448.2,97.2 445.2,98.9 442.3,100.6 439.3,102.3 436.3,104.1 433.3,105.8 430.7,107.3 428.1,108.8 425.5,110.3 422.9,111.8 420.2,113.3 417.6,114.9 414.9,116.4 412.2,118.0 409.5,119.5 406.8,121.1 404.1,122.6 401.4,124.2 398.7,125.8 395.9,127.4 393.2,128.9 390.4,130.5 387.7,132.1 384.9,133.7 382.1,135.3 379.4,136.9 376.6,138.5 373.8,140.1 371.0,141.8 368.2,143.4 365.4,145.0 362.6,146.6 359.7,148.2 356.9,149.9 354.1,151.5 351.3,153.1 348.4,154.8 345.6,156.4 342.8,158.0 339.9,159.7 337.1,161.3 334.3,162.9 331.4,164.6 328.6,166.2 325.7,167.9 322.9,169.5 320.0,171.2 317.2,172.8 314.4,174.4 311.5,176.1 308.7,177.7 305.8,179.4 303.0,181.0 300.2,182.6 297.3,184.3 294.5,185.9 291.7,187.5 288.8,189.2 286.0,190.8 283.2,192.4 280.4,194.0 277.6,195.7 274.8,197.3 272.0,198.9 269.2,200.5 266.4,202.1 263.6,203.7 260.9,205.3 258.1,206.9 255.3,208.5 252.6,210.1 249.8,211.7 247.1,213.3 244.4,214.8 241.6,216.4 238.9,218.0 236.2,219.5 233.5,221.1 230.9,222.6 228.2,224.2 225.5,225.7 222.9,227.2 220.2,228.8 217.6,230.3 215.0,231.8 212.4,233.3 209.5,234.9 206.5,236.7 203.5,238.4 200.6,240.1 197.6,241.8 194.7,243.5 191.8,245.2 188.9,246.9 186.0,248.5 183.1,250.2 180.3,251.8 177.5,253.4 174.7,255.0 172.0,256.6 169.2,258.2 166.5,259.8 163.8,261.3 161.2,262.9 158.5,264.4 155.9,265.9 153.0,267.6 149.9,269.3 146.9,271.1 143.9,272.8 141.0,274.5 138.1,276.2 135.2,277.8 132.4,279.4 129.7,281.0 129.2,281.3" stroke="#eec8ff" stroke-width="3.8" fill="none"/>
<path d="M104.2,491.3 L106.5,489.1 108.9,486.7 111.3,484.4 113.8,481.9 116.3,479.4 118.9,476.9 121.5,474.3 124.0,471.9 126.1,469.8 128.3,467.6 130.6,465.4 132.9,463.2 135.2,460.9 137.5,458.6 139.9,456.3 142.3,453.9 144.7,451.5 147.1,449.1 149.6,446.7 152.1,444.2 154.6,441.7 157.0,439.3 159.2,437.2 161.3,435.0 163.5,432.9 165.7,430.7 167.9,428.5 170.1,426.3 172.4,424.1 174.6,421.9 176.9,419.6 179.2,417.3 181.5,415.1 183.8,412.8 186.2,410.4 188.5,408.1 190.9,405.8 193.2,403.4 195.6,401.0 198.0,398.7 200.4,396.3 202.9,393.9 205.3,391.4 207.7,389.0 210.2,386.6 212.7,384.1 215.0,381.7 217.2,379.6 219.3,377.5 221.5,375.3 223.6,373.2 225.8,371.0 228.0,368.9 230.2,366.7 232.4,364.5 234.6,362.3 236.8,360.2 239.0,358.0 241.2,355.8 243.4,353.5 245.6,351.3 247.9,349.1 250.1,346.9 252.3,344.6 254.6,342.4 256.8,340.2 259.1,337.9 261.4,335.7 263.6,333.4 265.9,331.1 268.2,328.9 270.4,326.6 272.7,324.3 275.0,322.1 277.3,319.8 279.6,317.5 281.9,315.2 284.2,312.9 286.5,310.6 288.8,308.3 291.1,306.0 293.4,303.7 295.7,301.4 298.0,299.1 300.3,296.8 302.7,294.5 305.0,292.2 307.3,289.8 309.6,287.5 311.9,285.2 314.3,282.9 316.6,280.6 318.9,278.2 321.2,275.9 323.5,273.6 325.9,271.3 328.2,269.0 330.5,266.6 332.8,264.3 335.1,262.0 337.5,259.7 339.8,257.4 342.1,255.0 344.4,252.7 346.7,250.4 349.0,248.1 351.4,245.8 353.7,243.5 356.0,241.2 358.3,238.9 360.6,236.6 362.9,234.3 365.2,232.0 367.5,229.7 369.7,227.4 372.0,225.1 374.3,222.8 376.6,220.5 378.9,218.3 381.1,216.0 383.4,213.7 385.7,211.4 387.9,209.2 390.2,206.9 392.4,204.7 394.7,202.4 396.9,200.2 399.1,198.0 401.3,195.7 403.6,193.5 405.8,191.3 408.0,189.1 410.2,186.9 412.4,184.7 414.6,182.5 416.7,180.3 418.9,178.1 421.1,175.9 423.2,173.8 425.4,171.6 427.5,169.4 429.7,167.3 431.8,165.2 434.1,162.9 436.5,160.4 439.0,157.9 441.4,155.5 443.9,153.0 446.3,150.6 448.7,148.2 451.1,145.8 453.4,143.4 455.8,141.0 458.1,138.7 460.5,136.3 462.8,134.0 465.1,131.7 467.4,129.4 469.7,127.1 471.9,124.8 474.2,122.5 476.4,120.3 478.6,118.1 480.8,115.8 483.0,113.7 485.1,111.5 487.3,109.3 489.4,107.2 491.7,104.8 494.2,102.3 496.7,99.8 499.1,97.3 501.6,94.9 504.0,92.5 506.3,90.1 508.7,87.7 511.0,85.4 513.2,83.1 515.5,80.8 517.7,78.5 519.9,76.3 522.0,74.1 524.3,71.8 526.9,69.2 529.5,66.6 532.0,64.0 534.4,61.6 535.2,60.7" stroke="#eec8ff" stroke-width="4.2" fill="none"/>
<path d="M541.1,53.4 L538.8,55.6 536.5,58.0 534.0,60.3 531.6,62.8 529.0,65.3 526.4,67.8 523.8,70.4 521.4,72.8 519.2,74.9 517.0,77.1 514.8,79.3 512.5,81.5 510.2,83.8 507.8,86.1 505.5,88.4 503.1,90.8 500.7,93.2 498.2,95.6 495.8,98.0 493.3,100.5 490.7,103.0 488.3,105.4 486.2,107.5 484.0,109.7 481.9,111.8 479.7,114.0 477.4,116.2 475.2,118.4 473.0,120.6 470.7,122.8 468.4,125.1 466.2,127.4 463.9,129.6 461.5,131.9 459.2,134.3 456.9,136.6 454.5,138.9 452.1,141.3 449.7,143.7 447.3,146.0 444.9,148.4 442.5,150.8 440.1,153.3 437.6,155.7 435.1,158.1 432.7,160.6 430.3,163.0 428.2,165.1 426.0,167.2 423.9,169.4 421.7,171.5 419.5,173.7 417.4,175.8 415.2,178.0 413.0,180.2 410.8,182.4 408.6,184.5 406.4,186.7 404.2,188.9 402.0,191.2 399.7,193.4 397.5,195.6 395.3,197.8 393.0,200.1 390.8,202.3 388.5,204.5 386.3,206.8 384.0,209.0 381.7,211.3 379.5,213.6 377.2,215.8 374.9,218.1 372.6,220.4 370.3,222.6 368.1,224.9 365.8,227.2 363.5,229.5 361.2,231.8 358.9,234.1 356.6,236.4 354.3,238.7 351.9,241.0 349.6,243.3 347.3,245.6 345.0,247.9 342.7,250.2 340.4,252.5 338.1,254.9 335.7,257.2 333.4,259.5 331.1,261.8 328.8,264.1 326.5,266.5 324.1,268.8 321.8,271.1 319.5,273.4 317.2,275.7 314.8,278.1 312.5,280.4 310.2,282.7 307.9,285.0 305.6,287.3 303.2,289.7 300.9,292.0 298.6,294.3 296.3,296.6 294.0,298.9 291.7,301.2 289.4,303.5 287.1,305.8 284.8,308.1 282.5,310.4 280.2,312.7 277.9,315.0 275.6,317.3 273.3,319.6 271.0,321.9 268.8,324.2 266.5,326.4 264.2,328.7 262.0,331.0 259.7,333.3 257.4,335.5 255.2,337.8 252.9,340.0 250.7,342.3 248.5,344.5 246.2,346.7 244.0,349.0 241.8,351.2 239.6,353.4 237.4,355.6 235.2,357.8 233.0,360.0 230.8,362.2 228.6,364.4 226.4,366.6 224.3,368.8 222.1,370.9 220.0,373.1 217.8,375.3 215.7,377.4 213.6,379.5 211.3,381.8 208.8,384.3 206.4,386.8 203.9,389.2 201.5,391.7 199.1,394.1 196.7,396.5 194.3,398.9 191.9,401.3 189.6,403.7 187.2,406.0 184.9,408.4 182.6,410.7 180.3,413.0 178.0,415.3 175.7,417.6 173.4,419.9 171.2,422.2 169.0,424.4 166.8,426.6 164.6,428.9 162.4,431.0 160.2,433.2 158.1,435.4 156.0,437.5 153.6,439.9 151.1,442.4 148.7,444.9 146.2,447.4 143.8,449.8 141.4,452.2 139.0,454.6 136.7,457.0 134.4,459.3 132.1,461.6 129.9,463.9 127.6,466.2 125.5,468.4 123.3,470.6 121.0,472.9 118.4,475.5 115.9,478.1 113.4,480.7 110.9,483.1 110.1,484.0" stroke="#d68cff" stroke-width="3.0" fill="none"/>
<path d="M551.8,53.8 L550.0,56.8 548.5,59.5 546.9,62.2 545.3,65.0 543.7,67.9 542.0,70.8 540.2,73.8 538.5,76.8 536.7,79.9 534.9,83.1 533.0,86.3 531.4,89.0 529.9,91.7 528.4,94.3 526.8,97.1 525.2,99.8 523.6,102.6 522.0,105.4 520.3,108.3 518.7,111.1 517.0,114.0 515.3,117.0 513.6,120.0 511.8,123.0 510.1,126.0 508.3,129.1 506.5,132.2 505.0,134.7 503.5,137.4 502.0,140.0 500.5,142.7 498.9,145.3 497.3,148.0 495.8,150.7 494.2,153.5 492.6,156.2 491.0,159.0 489.4,161.8 487.8,164.6 486.2,167.4 484.5,170.2 482.9,173.0 481.2,175.9 479.6,178.8 477.9,181.7 476.2,184.6 474.5,187.5 472.8,190.4 471.1,193.4 469.4,196.4 467.7,199.3 466.0,202.3 464.2,205.3 462.5,208.4 460.7,211.4 459.2,214.0 457.7,216.6 456.2,219.2 454.7,221.9 453.2,224.5 451.6,227.2 450.1,229.8 448.6,232.5 447.0,235.2 445.5,237.8 443.9,240.5 442.4,243.2 440.8,245.9 439.2,248.6 437.7,251.4 436.1,254.1 434.5,256.8 432.9,259.5 431.3,262.3 429.8,265.0 428.2,267.8 426.6,270.5 425.0,273.3 423.4,276.1 421.8,278.8 420.2,281.6 418.6,284.4 416.9,287.2 415.3,290.0 413.7,292.8 412.1,295.6 410.5,298.4 408.9,301.2 407.2,304.0 405.6,306.8 404.0,309.6 402.3,312.5 400.7,315.3 399.1,318.1 397.4,320.9 395.8,323.8 394.2,326.6 392.5,329.5 390.9,332.3 389.3,335.1 387.6,338.0 386.0,340.8 384.3,343.7 382.7,346.5 381.0,349.3 379.4,352.2 377.8,355.0 376.1,357.9 374.5,360.7 372.8,363.6 371.2,366.4 369.5,369.3 367.9,372.1 366.2,375.0 364.6,377.8 362.9,380.7 361.3,383.5 359.7,386.4 358.0,389.2 356.4,392.0 354.7,394.9 353.1,397.7 351.5,400.5 349.8,403.4 348.2,406.2 346.6,409.0 344.9,411.8 343.3,414.7 341.7,417.5 340.1,420.3 338.4,423.1 336.8,425.9 335.2,428.7 333.6,431.5 332.0,434.3 330.3,437.1 328.7,439.9 327.1,442.7 325.5,445.4 323.9,448.2 322.3,451.0 320.7,453.7 319.1,456.5 317.5,459.2 316.0,462.0 314.4,464.7 312.8,467.5 311.2,470.2 309.7,472.9 308.1,475.6 306.5,478.3 305.0,481.0 303.4,483.7 301.9,486.4 300.3,489.1 298.8,491.7 297.2,494.4 295.7,497.1 294.2,499.7 292.6,502.4 291.1,505.0 289.6,507.6 288.1,510.2 286.5,513.0 284.7,516.1 283.0,519.1 281.3,522.1 279.5,525.0 277.8,528.0 276.1,531.0 274.4,533.9 272.7,536.9 271.0,539.8 269.4,542.7 267.7,545.6 266.0,548.4 264.4,551.3 262.7,554.1 261.1,556.9 259.5,559.7 257.9,562.5 256.3,565.3 254.7,568.1 253.1,570.8 251.5,573.5 250.0,576.2 248.4,578.9 246.9,581.6 245.4,584.2 243.8,586.8 242.3,589.4 240.7,592.3 238.9,595.4 237.1,598.4 235.4,601.4 233.7,604.4 232.0,607.4 230.3,610.3 228.6,613.2 226.9,616.1 225.3,618.9 223.7,621.7 222.1,624.5 220.5,627.2 219.0,629.9 217.4,632.6 215.9,635.2 214.1,638.2 212.3,641.4 210.5,644.5 208.7,647.6 207.0,650.6 205.3,653.6 203.6,656.5 202.0,659.3 201.4,660.2" stroke="#eec8ff" stroke-width="3.8" fill="none"/>
<path d="M553.6,53.5 L552.1,56.3 550.6,59.3 549.1,62.2 547.7,65.0 546.2,67.9 544.8,70.7 543.5,73.4 542.1,76.2 540.7,79.0 539.2,82.0 537.9,84.8 536.5,87.5 535.2,90.3 533.8,93.1 532.5,96.0 531.1,98.9 529.8,101.7 528.6,104.4 527.3,107.2 526.0,110.0 524.7,112.9 523.4,115.8 522.1,118.8 520.8,121.7 519.5,124.5 518.3,127.3 517.1,130.2 515.9,133.0 514.7,135.9 513.6,138.7 512.4,141.5 511.2,144.3 510.1,147.1 508.9,149.9 507.8,152.7 506.6,155.5 505.5,158.3 504.4,161.1 503.3,163.9 502.1,166.9 500.9,169.8 499.8,172.7 498.7,175.5 497.5,178.4 496.4,181.3 495.2,184.2 494.1,187.2 492.9,190.0 491.8,192.9 490.7,195.8 489.6,198.6 488.4,201.5 487.3,204.4 486.2,207.3 485.0,210.3 483.9,213.2 482.8,216.1 481.7,218.9 480.6,221.8 479.5,224.6 478.4,227.4 477.3,230.2 476.3,233.0 475.2,235.8 474.0,238.8 472.9,241.7 471.8,244.7 470.6,247.6 469.5,250.5 468.4,253.4 467.3,256.3 466.2,259.2 465.1,262.0 464.1,264.9 463.0,267.7 461.9,270.5 460.8,273.4 459.7,276.3 458.6,279.1 457.5,282.1 456.4,285.0 455.3,288.0 454.2,290.9 453.1,293.7 452.1,296.5 451.0,299.4 449.9,302.3 448.8,305.2 447.7,308.1 446.6,311.0 445.5,313.8 444.5,316.7 443.4,319.6 442.3,322.5 441.2,325.4 440.1,328.5 438.9,331.5 437.8,334.6 436.7,337.5 435.7,340.3 434.7,343.2 433.6,346.1 432.5,349.1 431.5,352.2 430.5,355.0 429.4,358.1 428.4,361.4 427.3,364.6 426.3,367.8 425.4,371.0 424.4,374.4 423.6,377.5 422.9,380.4 422.1,383.4 421.2,386.6 420.1,390.2 419.2,393.5 418.1,397.5 417.2,400.9 416.5,404.1 415.8,407.1 415.1,410.4 414.3,414.3 413.5,417.7 412.7,421.2 411.9,424.8 411.1,428.3 410.2,431.8 409.3,435.5 408.5,439.0 407.8,442.1 407.0,445.4 406.2,448.9 405.6,452.0 404.9,455.3 404.2,458.5 403.6,461.6 403.0,464.9 402.4,468.1 401.8,471.2 401.2,474.5 400.6,477.5 400.0,480.7 399.4,483.8 398.9,486.8 398.3,489.9 397.7,493.1 397.1,496.4 396.5,499.5 395.9,502.6 395.3,505.7 394.8,508.8 394.2,511.7 393.6,514.8 393.1,517.8 392.5,521.0 391.9,524.1 391.3,527.3 390.7,530.5 390.2,533.5 389.6,536.5 389.1,539.6 388.5,542.6 388.0,545.7 387.4,548.9 386.9,552.0 386.3,555.2 385.8,558.4 385.3,561.5 384.8,564.5 384.3,567.5 383.8,570.5 383.3,573.5 382.8,576.6 382.3,579.6 381.8,582.6 381.3,585.7 380.9,588.8 380.4,591.8 380.0,594.9 379.5,598.0 379.1,601.1 378.6,604.1 378.2,607.2 377.8,610.3 377.4,613.4 377.0,616.4 376.6,619.5 376.2,622.6 375.8,625.8 375.4,628.9 375.1,632.0 374.7,635.1 374.4,638.1 374.1,641.1 373.7,644.2 373.4,647.4 373.1,650.5 372.8,653.5 372.5,656.5 372.2,659.6 371.8,662.7 371.5,665.8 371.2,669.0 370.9,672.2 370.6,675.3 370.4,678.3 370.1,681.3 369.8,684.3 369.5,687.4 369.3,690.4 369.0,693.4 368.7,696.5 368.5,699.5 368.2,702.6 367.9,705.6 367.7,708.6 367.4,711.6 367.2,714.6 366.9,717.6 366.6,720.8 366.4,723.9 366.1,727.0 365.9,730.1 365.6,733.2 365.4,736.2 365.1,739.2 364.9,742.2 364.6,745.3 364.4,748.4 364.1,751.6 363.9,754.8 363.6,757.9 363.4,760.9 363.3,761.4" stroke="#e6b4ff" stroke-width="4.0" fill="none"/>
<path d="M362.1,772.2 L362.3,769.1 362.5,766.0 362.7,763.0 362.9,759.9 363.1,756.9 363.3,753.7 363.5,750.5 363.7,747.4 363.9,744.3 364.1,741.2 364.3,738.2 364.5,735.2 364.7,732.2 364.9,729.1 365.1,726.0 365.4,722.9 365.6,719.7 365.8,716.6 366.0,713.6 366.2,710.6 366.4,707.6 366.6,704.6 366.9,701.5 367.1,698.5 367.3,695.5 367.5,692.4 367.8,689.4 368.0,686.4 368.2,683.3 368.5,680.3 368.7,677.3 368.9,674.3 369.2,671.1 369.5,667.9 369.7,664.8 370.0,661.7 370.2,658.6 370.5,655.5 370.8,652.5 371.1,649.5 371.4,646.3 371.7,643.2 372.0,640.1 372.3,637.1 372.6,634.1 372.9,631.0 373.2,627.9 373.6,624.7 373.9,621.6 374.3,618.5 374.7,615.4 375.0,612.3 375.4,609.3 375.8,606.2 376.3,603.1 376.7,600.0 377.1,597.0 377.6,593.9 378.0,590.8 378.5,587.7 378.9,584.7 379.4,581.6 379.9,578.6 380.4,575.6 380.9,572.5 381.4,569.5 381.8,566.5 382.3,563.5 382.9,560.5 383.4,557.3 384.0,554.1 384.5,551.0 385.1,547.8 385.6,544.7 386.2,541.6 386.7,538.5 387.3,535.5 387.8,532.5 388.4,529.5 389.0,526.3 389.6,523.1 390.2,519.9 390.8,516.8 391.3,513.8 391.9,510.7 392.5,507.8 393.1,504.7 393.7,501.5 394.3,498.4 394.9,495.3 395.5,492.0 396.1,488.9 396.7,485.8 397.2,482.8 397.8,479.6 398.4,476.5 398.9,473.4 399.6,470.1 400.1,467.1 400.8,463.7 401.4,460.5 402.0,457.5 402.7,454.1 403.4,450.9 404.1,447.7 404.9,444.2 405.6,441.0 406.3,438.0 407.2,434.2 408.1,430.6 408.9,427.1 409.8,423.6 410.6,420.0 411.4,416.6 412.1,412.9 412.9,409.3 413.6,406.1 414.3,403.0 415.1,399.8 416.1,396.1 417.1,392.5 418.1,389.0 419.1,385.5 419.9,382.4 420.7,379.4 421.5,376.5 422.3,373.3 423.3,369.8 424.2,366.8 425.3,363.4 426.3,360.3 427.4,357.1 428.4,354.1 429.4,351.2 430.5,348.1 431.6,345.1 432.6,342.2 433.7,339.3 434.7,336.5 435.8,333.6 436.9,330.5 438.1,327.4 439.2,324.4 440.3,321.5 441.3,318.7 442.4,315.8 443.5,312.9 444.6,310.0 445.7,307.1 446.7,304.2 447.8,301.3 448.9,298.5 450.0,295.6 451.0,292.8 452.1,289.9 453.2,287.0 454.3,284.1 455.4,281.1 456.5,278.2 457.6,275.3 458.7,272.4 459.8,269.6 460.8,266.7 461.9,263.9 463.0,261.1 464.1,258.2 465.2,255.3 466.3,252.5 467.4,249.5 468.5,246.6 469.6,243.7 470.7,240.8 471.9,237.8 473.0,234.9 474.1,232.1 475.1,229.2 476.2,226.4 477.3,223.6 478.4,220.8 479.5,218.0 480.6,215.2 481.7,212.2 482.8,209.3 484.0,206.4 485.1,203.5 486.2,200.6 487.4,197.7 488.5,194.8 489.6,191.9 490.7,189.1 491.9,186.2 493.0,183.2 494.2,180.3 495.3,177.4 496.5,174.6 497.6,171.7 498.8,168.8 499.9,165.9 501.1,163.0 502.2,160.2 503.4,157.4 504.5,154.6 505.7,151.8 506.8,149.0 508.0,146.2 509.2,143.4 510.3,140.5 511.5,137.7 512.7,134.9 513.9,132.1 515.2,129.2 516.4,126.4 517.7,123.6 518.9,120.8 520.1,118.1 521.4,115.3 522.7,112.4 524.1,109.6 525.4,106.8 526.8,104.0 528.1,101.2 529.4,98.4 530.9,95.5 532.3,92.7 533.7,89.8 535.1,87.1 536.5,84.3 538.0,81.5 539.5,78.6 540.9,75.7 542.4,73.0 543.8,70.3 545.3,67.4 546.9,64.5 547.6,63.1" stroke="#e6b4ff" stroke-width="4.0" fill="none"/>
<path d="M737.5,669.6 L736.5,666.2 735.8,663.3 734.9,660.2 734.1,657.1 733.2,653.9 732.4,650.6 731.5,647.2 730.5,643.8 729.6,640.3 728.7,636.8 727.8,633.5 727.0,630.5 726.2,627.5 725.4,624.5 724.5,621.4 723.7,618.3 722.9,615.1 722.0,611.9 721.1,608.7 720.3,605.4 719.4,602.1 718.5,598.7 717.6,595.3 716.6,591.9 715.8,588.6 715.0,585.7 714.2,582.8 713.4,579.8 712.6,576.8 711.8,573.8 711.0,570.8 710.2,567.7 709.4,564.7 708.5,561.6 707.7,558.5 706.9,555.3 706.0,552.2 705.2,549.0 704.3,545.8 703.4,542.6 702.6,539.4 701.7,536.1 700.8,532.8 700.0,529.6 699.1,526.3 698.2,522.9 697.3,519.6 696.4,516.3 695.5,512.9 694.6,509.7 693.9,506.8 693.1,503.8 692.3,500.9 691.5,498.0 690.7,495.0 689.9,492.0 689.1,489.1 688.3,486.1 687.5,483.1 686.7,480.1 685.9,477.1 685.1,474.1 684.3,471.0 683.5,468.0 682.7,465.0 681.8,461.9 681.0,458.9 680.2,455.8 679.4,452.7 678.6,449.7 677.7,446.6 676.9,443.5 676.1,440.4 675.3,437.3 674.4,434.2 673.6,431.1 672.8,427.9 671.9,424.8 671.1,421.7 670.2,418.6 669.4,415.4 668.6,412.3 667.7,409.2 666.9,406.0 666.0,402.9 665.2,399.7 664.3,396.5 663.5,393.4 662.7,390.2 661.8,387.1 661.0,383.9 660.1,380.7 659.3,377.6 658.4,374.4 657.6,371.2 656.7,368.1 655.9,364.9 655.0,361.7 654.2,358.5 653.3,355.4 652.5,352.2 651.6,349.0 650.8,345.9 649.9,342.7 649.1,339.5 648.2,336.4 647.4,333.2 646.5,330.0 645.7,326.9 644.9,323.7 644.0,320.6 643.2,317.4 642.3,314.3 641.5,311.1 640.6,308.0 639.8,304.9 639.0,301.7 638.1,298.6 637.3,295.5 636.5,292.4 635.6,289.2 634.8,286.1 634.0,283.0 633.1,279.9 632.3,276.8 631.5,273.8 630.6,270.7 629.8,267.6 629.0,264.5 628.2,261.5 627.4,258.4 626.6,255.4 625.7,252.4 624.9,249.3 624.1,246.3 623.3,243.3 622.5,240.3 621.7,237.3 620.9,234.3 620.1,231.3 619.3,228.4 618.5,225.4 617.7,222.5 617.0,219.6 616.2,216.6 615.4,213.7 614.6,210.6 613.7,207.2 612.8,203.8 611.9,200.5 611.0,197.2 610.1,193.9 609.2,190.6 608.3,187.3 607.5,184.1 606.6,180.8 605.7,177.6 604.9,174.4 604.0,171.3 603.2,168.1 602.3,165.0 601.5,161.8 600.7,158.7 599.9,155.7 599.0,152.6 598.2,149.6 597.4,146.6 596.6,143.6 595.8,140.6 595.0,137.7 594.3,134.8 593.4,131.6 592.5,128.2 591.6,124.8 590.7,121.4 589.8,118.1 588.9,114.8 588.0,111.5 587.2,108.3 586.3,105.1 585.5,102.0 584.7,98.9 583.9,95.9 583.0,92.9 582.3,89.9 581.4,86.8 580.4,83.2 579.5,79.7 578.6,76.2 577.7,72.9 576.8,69.6 575.9,66.3 575.4,64.2" stroke="#eec8ff" stroke-width="3.8" fill="none"/>
<path d="M817.6,285.6 L815.3,283.5 813.0,281.4 810.7,279.3 808.4,277.2 806.1,275.1 803.7,272.9 801.4,270.8 799.1,268.6 796.8,266.6 794.6,264.5 792.2,262.4 789.9,260.2 787.7,258.2 785.4,256.1 783.1,254.0 780.8,251.9 778.5,249.7 776.1,247.5 773.9,245.4 771.6,243.4 769.4,241.3 767.1,239.2 764.9,237.1 762.6,235.0 760.3,232.8 758.0,230.7 755.7,228.6 753.4,226.4 751.1,224.3 748.8,222.1 746.5,220.0 744.2,217.8 742.0,215.7 739.7,213.6 737.5,211.5 735.2,209.3 733.0,207.2 730.8,205.2 728.6,203.1 726.4,200.9 724.1,198.7 721.8,196.6 719.6,194.4 717.3,192.3 715.0,190.0 712.7,187.8 710.4,185.6 708.2,183.4 705.9,181.1 703.6,178.9 701.3,176.7 699.1,174.5 696.9,172.3 694.7,170.1 692.5,167.9 690.4,165.7 688.2,163.5 686.1,161.3 684.0,159.1 681.8,157.0 679.6,154.7 677.4,152.3 675.1,150.0 672.8,147.6 670.6,145.3 668.4,143.0 666.2,140.7 664.0,138.4 661.9,136.1 659.7,133.8 657.6,131.6 655.5,129.3 653.4,127.1 651.3,124.9 649.3,122.7 647.1,120.4 644.9,117.9 642.7,115.6 640.5,113.2 638.3,110.9 636.2,108.5 634.1,106.2 632.0,104.0 630.0,101.7 627.8,99.4 625.5,96.9 623.3,94.5 621.1,92.1 618.9,89.7 616.8,87.4 614.6,85.0 612.5,82.6 610.4,80.3 608.3,77.9 606.2,75.6 604.1,73.3 602.1,71.0 600.0,68.7 598.1,66.4 595.9,63.9 593.7,61.4" stroke="#eec8ff" stroke-width="3.5" fill="none"/>
<path d="M608.0,53.5 L611.0,55.2 613.9,56.8 616.5,58.3 619.1,59.9 621.8,61.4 624.5,63.0 627.3,64.6 630.0,66.2 632.8,67.8 635.6,69.4 638.4,71.0 641.2,72.6 644.1,74.3 646.9,75.9 649.8,77.6 652.6,79.2 655.5,80.9 658.4,82.5 661.2,84.2 664.1,85.8 666.9,87.5 669.8,89.1 672.6,90.7 675.4,92.4 678.2,94.0 681.0,95.6 683.7,97.2 686.4,98.7 689.1,100.3 691.8,101.8 694.0,103.1" stroke="#eec8ff" stroke-width="3.8" fill="none"/>
<path d="M167.3,156.4 L165.6,159.3 164.0,161.9 162.4,164.6 160.8,167.4 159.1,170.2 157.4,173.1 155.7,176.0 154.0,179.0 152.4,181.6 150.9,184.2 149.3,186.9 147.8,189.6 146.2,192.3 144.6,195.1 142.9,197.8 141.3,200.6 139.7,203.4 138.1,206.2 136.4,209.1 134.8,211.9 133.1,214.8 131.5,217.6 129.8,220.5 128.1,223.4 126.5,226.2 124.8,229.1 123.2,231.9 121.6,234.8 119.9,237.6 118.3,240.4 116.7,243.2 115.1,246.0 113.5,248.8 112.0,251.5 110.4,254.2 108.9,256.9 107.4,259.6 105.9,262.2 104.2,265.1 102.5,268.1 100.9,271.0 99.3,273.9 97.7,276.7" stroke="#eec8ff" stroke-width="4.2" fill="none"/>
<path d="M94.2,285.7 L95.9,282.8 97.5,280.2 99.1,277.5 100.7,274.7 102.4,271.9 104.1,269.0 105.8,266.1 107.5,263.1 109.1,260.5 110.6,257.9 112.2,255.2 113.7,252.5 115.3,249.8 116.9,247.0 118.6,244.3 120.2,241.5 121.8,238.7 123.4,235.9 125.1,233.0 126.7,230.2 128.4,227.3 130.0,224.5 131.7,221.6 133.4,218.7 135.0,215.9 136.7,213.0 138.3,210.2 139.9,207.3 141.6,204.5 143.2,201.7 144.8,198.9 146.4,196.1 148.0,193.3 149.5,190.6 151.1,187.9 152.6,185.2 154.1,182.5 155.6,179.9 157.3,177.0 159.0,174.0 160.6,171.1 162.2,168.2 163.5,165.9" stroke="#eec8ff" stroke-width="4.2" fill="none"/>
<path d="M354.2,772.3 L353.3,769.0 352.6,766.0 351.8,762.9 350.9,759.8 350.1,756.6 349.2,753.3 348.4,749.9 347.5,746.5 346.6,743.0 345.6,739.4 344.8,736.1 344.0,733.2 343.2,730.2 342.4,727.1 341.6,724.0 340.8,720.9 339.9,717.8 339.1,714.5 338.2,711.3 337.4,708.0 336.5,704.7 335.6,701.3 334.7,697.9 333.8,694.5 332.9,691.2 332.2,688.3 331.4,685.4 330.6,682.4 329.8,679.4 329.0,676.4 328.2,673.4 327.4,670.3 326.6,667.3 325.8,664.2 324.9,661.0 324.1,657.9 323.3,654.8 322.4,651.6 321.6,648.4 320.7,645.2 319.9,641.9 319.0,638.7 318.1,635.4 317.3,632.1 316.4,628.8 315.5,625.5 314.6,622.2 313.7,618.8 312.8,615.4 312.0,612.2 311.2,609.3 310.4,606.4 309.6,603.5 308.9,600.5 308.1,597.6 307.3,594.6 306.5,591.6 305.7,588.6 304.9,585.6 304.1,582.6 303.3,579.6 302.5,576.6 301.7,573.6 300.9,570.5 300.1,567.5 299.2,564.5 298.4,561.4 297.6,558.3 296.8,555.3 296.0,552.2 295.1,549.1 294.3,546.0 293.5,542.9 292.7,539.8 291.8,536.7 291.0,533.6 290.2,530.5 289.3,527.3 288.5,524.2 287.7,521.1 286.8,518.0 286.0,514.8 285.1,511.7 284.3,508.5 283.5,505.4 282.6,502.2 281.8,499.1 280.9,495.9 280.1,492.7 279.2,489.6 278.4,486.4 277.5,483.2 276.7,480.1 275.8,476.9 275.0,473.7 274.1,470.6 273.3,467.4 272.4,464.2 271.6,461.1 270.7,457.9 269.9,454.7 269.0,451.5 268.2,448.4 267.3,445.2 266.5,442.0 265.6,438.9 264.8,435.7 263.9,432.6 263.1,429.4 262.2,426.2 261.4,423.1 260.5,419.9 259.7,416.8 258.9,413.6 258.0,410.5 257.2,407.4 256.3,404.2 255.5,401.1 254.6,398.0 253.8,394.9 253.0,391.8 252.1,388.7 251.3,385.6 250.5,382.5 249.6,379.4 248.8,376.3 248.0,373.2 247.1,370.1 246.3,367.1 245.5,364.0 244.7,361.0 243.9,357.9 243.0,354.9 242.2,351.9 241.4,348.8 240.6,345.8 239.8,342.8 239.0,339.8 238.2,336.9 237.4,333.9 236.6,330.9 235.8,328.0 235.0,325.0 234.2,322.1 233.4,319.2 232.6,316.3 231.8,313.1 230.8,309.8 229.9,306.4 229.0,303.1 228.1,299.8 227.2,296.4 226.4,293.2 225.5,289.9 224.6,286.6 223.7,283.4 222.8,280.2 222.0,277.0 221.1,273.8 220.3,270.7 219.4,267.5 218.6,264.4 217.7,261.3 216.9,258.3 216.1,255.2 215.2,252.2 214.4,249.2 213.6,246.2 212.8,243.2 212.0,240.3 211.2,237.4 210.4,234.2 209.4,230.8 208.5,227.4 207.6,224.0 206.7,220.7 205.8,217.4 204.9,214.2 204.0,211.0 203.2,207.8 202.3,204.7 201.5,201.6 200.6,198.5 199.8,195.5 199.0,192.6 198.1,189.4 197.1,185.8 196.2,182.3 195.2,178.9 194.3,175.5 193.4,172.2 192.5,169.0 191.9,166.9" stroke="#eec8ff" stroke-width="4.2" fill="none"/>
<path d="M188.4,156.2 L189.3,159.5 190.0,162.5 190.8,165.6 191.7,168.7 192.5,171.9 193.4,175.2 194.2,178.6 195.1,182.0 196.0,185.5 197.0,189.1 197.8,192.4 198.6,195.3 199.4,198.3 200.2,201.4 201.0,204.5 201.8,207.6 202.7,210.7 203.5,214.0 204.4,217.2 205.2,220.5 206.1,223.8 207.0,227.2 207.9,230.6 208.8,234.0 209.7,237.3 210.4,240.2 211.2,243.1 212.0,246.1 212.8,249.1 213.6,252.1 214.4,255.1 215.2,258.2 216.0,261.2 216.8,264.3 217.7,267.5 218.5,270.6 219.3,273.7 220.2,276.9 221.0,280.1 221.9,283.3 222.7,286.6 223.6,289.8 224.5,293.1 225.3,296.4 226.2,299.7 227.1,303.0 228.0,306.3 228.9,309.7 229.8,313.1 230.6,316.3 231.4,319.2 232.2,322.1 233.0,325.0 233.7,328.0 234.5,330.9 235.3,333.9 236.1,336.9 236.9,339.9 237.7,342.9 238.5,345.9 239.3,348.9 240.1,351.9 240.9,354.9 241.7,358.0 242.5,361.0 243.4,364.0 244.2,367.1 245.0,370.2 245.8,373.2 246.6,376.3 247.5,379.4 248.3,382.5 249.1,385.6 249.9,388.7 250.8,391.8 251.6,394.9 252.4,398.0 253.3,401.2 254.1,404.3 254.9,407.4 255.8,410.5 256.6,413.7 257.5,416.8 258.3,420.0 259.1,423.1 260.0,426.3 260.8,429.4 261.7,432.6 262.5,435.8 263.4,438.9 264.2,442.1 265.1,445.3 265.9,448.4 266.8,451.6 267.6,454.8 268.5,457.9 269.3,461.1 270.2,464.3 271.0,467.4 271.9,470.6 272.7,473.8 273.6,477.0 274.4,480.1 275.3,483.3 276.1,486.5 277.0,489.6 277.8,492.8 278.7,495.9 279.5,499.1 280.4,502.3 281.2,505.4 282.1,508.6 282.9,511.7 283.7,514.9 284.6,518.0 285.4,521.1 286.3,524.3 287.1,527.4 288.0,530.5 288.8,533.6 289.6,536.7 290.5,539.8 291.3,542.9 292.1,546.0 293.0,549.1 293.8,552.2 294.6,555.3 295.5,558.4 296.3,561.4 297.1,564.5 297.9,567.5 298.7,570.6 299.6,573.6 300.4,576.6 301.2,579.7 302.0,582.7 302.8,585.7 303.6,588.7 304.4,591.6 305.2,594.6 306.0,597.6 306.8,600.5 307.6,603.5 308.4,606.4 309.2,609.3 310.0,612.2 310.8,615.4 311.8,618.7 312.7,622.1 313.6,625.4 314.5,628.7 315.4,632.1 316.2,635.3 317.1,638.6 318.0,641.9 318.9,645.1 319.8,648.3 320.6,651.5 321.5,654.7 322.3,657.8 323.2,661.0 324.0,664.1 324.9,667.2 325.7,670.2 326.5,673.3 327.4,676.3 328.2,679.3 329.0,682.3 329.8,685.3 330.6,688.2 331.4,691.1 332.2,694.3 333.2,697.7 334.1,701.1 335.0,704.5 335.9,707.8 336.8,711.1 337.7,714.3 338.6,717.5 339.4,720.7 340.3,723.8 341.1,726.9 342.0,730.0 342.8,733.0 343.6,735.9 344.5,739.1 345.5,742.7 346.4,746.2 347.4,749.6 348.3,753.0 349.2,756.3 350.1,759.5 350.7,761.6" stroke="#eec8ff" stroke-width="4.2" fill="none"/>
<path d="M551.6,772.1 L549.8,769.1 548.3,766.4 546.7,763.7 545.0,760.9 543.4,758.0 541.6,755.1 539.9,752.2 538.1,749.1 536.3,746.1 534.5,742.9 532.6,739.7 531.0,737.0 529.5,734.4 527.9,731.7 526.3,729.0 524.7,726.2 523.1,723.5 521.5,720.7 519.8,717.8 518.1,714.9 516.4,712.0 514.7,709.1 513.0,706.1 511.2,703.1 509.5,700.1 507.7,697.1 505.9,694.0 504.4,691.4 502.8,688.8 501.3,686.1 499.8,683.5 498.2,680.8 496.6,678.1 495.1,675.4 493.5,672.7 491.9,670.0 490.3,667.2 488.7,664.4 487.0,661.6 485.4,658.8 483.8,656.0 482.1,653.2 480.5,650.3 478.8,647.4 477.1,644.5 475.4,641.6 473.7,638.7 472.0,635.8 470.3,632.8 468.6,629.9 466.9,626.9 465.1,623.9 463.4,620.9 461.6,617.9 459.9,614.9 458.4,612.3 456.8,609.7 455.3,607.0 453.8,604.4 452.3,601.8 450.7,599.1 449.2,596.5 447.6,593.8 446.1,591.1 444.5,588.5 443.0,585.8 441.4,583.1 439.9,580.4 438.3,577.7 436.7,575.0 435.1,572.2 433.6,569.5 432.0,566.8 430.4,564.0 428.8,561.3 427.2,558.5 425.6,555.8 424.0,553.0 422.4,550.3 420.8,547.5 419.2,544.7 417.6,541.9 416.0,539.1 414.3,536.3 412.7,533.5 411.1,530.7 409.5,527.9 407.9,525.1 406.2,522.3 404.6,519.5 403.0,516.7 401.3,513.9 399.7,511.1 398.1,508.2 396.4,505.4 394.8,502.6 393.2,499.7 391.5,496.9 389.9,494.1 388.2,491.2 386.6,488.4 384.9,485.5 383.3,482.7 381.7,479.8 380.0,477.0 378.4,474.2 376.7,471.3 375.1,468.5 373.4,465.6 371.8,462.8 370.1,459.9 368.5,457.1 366.9,454.2 365.2,451.4 363.6,448.5 361.9,445.7 360.3,442.8 358.6,440.0 357.0,437.2 355.4,434.3 353.7,431.5 352.1,428.6 350.5,425.8 348.8,423.0 347.2,420.1 345.6,417.3 343.9,414.5 342.3,411.7 340.7,408.9 339.1,406.0 337.4,403.2 335.8,400.4 334.2,397.6 332.6,394.8 331.0,392.0 329.4,389.2 327.7,386.4 326.1,383.7 324.5,380.9 322.9,378.1 321.4,375.3 319.8,372.6 318.2,369.8 316.6,367.1 315.0,364.3 313.4,361.6 311.9,358.8 310.3,356.1 308.7,353.4 307.1,350.7 305.6,348.0 304.0,345.3 302.5,342.6 300.9,339.9 299.4,337.2 297.9,334.5 296.3,331.9 294.8,329.2 293.3,326.6 291.8,323.9 290.2,321.3 288.7,318.7 287.2,316.1 285.6,313.2 283.9,310.2 282.1,307.2 280.4,304.2 278.7,301.2 277.0,298.2 275.3,295.3 273.6,292.3 271.9,289.4 270.2,286.5 268.6,283.6 266.9,280.7 265.2,277.8 263.6,274.9 262.0,272.1 260.4,269.3 258.7,266.4 257.1,263.7 255.5,260.9 254.0,258.1 252.4,255.4 250.8,252.6 249.3,249.9 247.7,247.3 246.2,244.6 244.7,241.9 243.2,239.3 241.7,236.7 240.0,233.8 238.3,230.7 236.5,227.7 234.8,224.7 233.1,221.7 231.4,218.7 229.7,215.8 228.1,212.9 226.4,210.0 224.8,207.1 223.2,204.3 221.6,201.6 220.0,198.8 218.5,196.1 217.0,193.4 215.5,190.8 213.7,187.8 211.9,184.6 210.1,181.4 208.4,178.4 206.7,175.3 205.0,172.4 203.3,169.5 201.7,166.6 201.2,165.7" stroke="#eec8ff" stroke-width="4.2" fill="none"/>
<path d="M196.7,156.4 L198.5,159.4 200.0,162.1 201.6,164.8 203.3,167.6 204.9,170.5 206.7,173.4 208.4,176.3 210.2,179.4 212.0,182.4 213.8,185.6 215.7,188.8 217.3,191.5 218.8,194.1 220.4,196.8 222.0,199.5 223.6,202.3 225.2,205.0 226.8,207.8 228.5,210.7 230.2,213.6 231.9,216.5 233.6,219.4 235.3,222.4 237.1,225.4 238.8,228.4 240.6,231.4 242.4,234.5 243.9,237.1 245.5,239.7 247.0,242.4 248.5,245.0 250.1,247.7 251.7,250.4 253.2,253.1 254.8,255.8 256.4,258.5 258.0,261.3 259.6,264.1 261.3,266.9 262.9,269.7 264.5,272.5 266.2,275.3 267.8,278.2 269.5,281.1 271.2,284.0 272.9,286.9 274.6,289.8 276.3,292.7 278.0,295.7 279.7,298.6 281.4,301.6 283.2,304.6 284.9,307.6 286.7,310.6 288.4,313.6 289.9,316.2 291.5,318.8 293.0,321.5 294.5,324.1 296.0,326.7 297.6,329.4 299.1,332.0 300.7,334.7 302.2,337.4 303.8,340.0 305.3,342.7 306.9,345.4 308.4,348.1 310.0,350.8 311.6,353.5 313.2,356.3 314.7,359.0 316.3,361.7 317.9,364.5 319.5,367.2 321.1,370.0 322.7,372.7 324.3,375.5 325.9,378.2 327.5,381.0 329.1,383.8 330.7,386.6 332.3,389.4 334.0,392.2 335.6,395.0 337.2,397.8 338.8,400.6 340.4,403.4 342.1,406.2 343.7,409.0 345.3,411.8 347.0,414.6 348.6,417.4 350.2,420.3 351.9,423.1 353.5,425.9 355.1,428.8 356.8,431.6 358.4,434.4 360.1,437.3 361.7,440.1 363.4,443.0 365.0,445.8 366.6,448.7 368.3,451.5 369.9,454.3 371.6,457.2 373.2,460.0 374.9,462.9 376.5,465.7 378.2,468.6 379.8,471.4 381.4,474.3 383.1,477.1 384.7,480.0 386.4,482.8 388.0,485.7 389.7,488.5 391.3,491.3 392.9,494.2 394.6,497.0 396.2,499.9 397.8,502.7 399.5,505.5 401.1,508.4 402.7,511.2 404.4,514.0 406.0,516.8 407.6,519.6 409.2,522.5 410.9,525.3 412.5,528.1 414.1,530.9 415.7,533.7 417.3,536.5 418.9,539.3 420.6,542.1 422.2,544.8 423.8,547.6 425.4,550.4 426.9,553.2 428.5,555.9 430.1,558.7 431.7,561.4 433.3,564.2 434.9,566.9 436.4,569.7 438.0,572.4 439.6,575.1 441.2,577.8 442.7,580.5 444.3,583.2 445.8,585.9 447.4,588.6 448.9,591.3 450.4,594.0 452.0,596.6 453.5,599.3 455.0,601.9 456.5,604.6 458.1,607.2 459.6,609.8 461.1,612.4 462.7,615.3 464.4,618.3 466.2,621.3 467.9,624.3 469.6,627.3 471.3,630.3 473.0,633.2 474.7,636.2 476.4,639.1 478.1,642.0 479.7,644.9 481.4,647.8 483.1,650.7 484.7,653.6 486.3,656.4 487.9,659.2 489.6,662.1 491.2,664.8 492.8,667.6 494.3,670.4 495.9,673.1 497.5,675.9 499.0,678.6 500.6,681.2 502.1,683.9 503.6,686.6 505.1,689.2 506.6,691.8 508.3,694.7 510.0,697.8 511.8,700.8 513.5,703.8 515.2,706.8 516.9,709.8 518.6,712.7 520.2,715.6 521.9,718.5 523.5,721.4 525.1,724.2 526.7,726.9 528.3,729.7 529.8,732.4 531.3,735.1 532.8,737.7 534.6,740.7 536.4,743.9 538.2,747.1 539.9,750.1 541.6,753.2 543.3,756.1 545.0,759.0 546.6,761.9 547.1,762.8" stroke="#e3acff" stroke-width="4.2" fill="none"/>
<path d="M810.4,494.6 L807.5,492.9 804.6,491.2 801.6,489.5 798.6,487.7 795.5,485.9 792.3,484.1 789.1,482.2 786.5,480.7 783.8,479.2 781.1,477.6 778.4,476.1 775.6,474.5 772.8,472.9 770.0,471.2 767.2,469.6 764.3,467.9 761.4,466.3 758.4,464.6 755.4,462.8 752.4,461.1 749.4,459.3 746.3,457.6 743.2,455.8 740.3,454.1 737.7,452.6 735.0,451.0 732.3,449.5 729.7,448.0 727.0,446.4 724.3,444.8 721.5,443.3 718.8,441.7 716.0,440.1 713.2,438.5 710.4,436.8 707.6,435.2 704.8,433.6 701.9,431.9 699.0,430.3 696.1,428.6 693.3,426.9 690.3,425.3 687.4,423.6 684.5,421.9 681.5,420.2 678.5,418.5 675.6,416.7 672.6,415.0 669.6,413.3 666.5,411.5 663.6,409.9 661.0,408.3 658.4,406.8 655.8,405.3 653.2,403.8 650.5,402.3 647.9,400.7 645.2,399.2 642.5,397.7 639.9,396.1 637.2,394.6 634.5,393.0 631.8,391.5 629.1,389.9 626.4,388.3 623.6,386.8 620.9,385.2 618.2,383.6 615.4,382.0 612.7,380.5 610.0,378.9 607.2,377.3 604.4,375.7 601.7,374.1 598.9,372.5 596.1,370.9 593.3,369.3 590.6,367.7 587.8,366.1 585.0,364.5 582.2,362.8 579.4,361.2 576.6,359.6 573.8,358.0 570.9,356.4 568.1,354.7 565.3,353.1 562.5,351.5 559.7,349.8 556.8,348.2 554.0,346.6 551.2,344.9 548.3,343.3 545.5,341.7 542.7,340.0 539.8,338.4 537.0,336.8 534.1,335.1 531.3,333.5 528.4,331.8 525.6,330.2 522.8,328.5 519.9,326.9 517.1,325.3 514.2,323.6 511.4,322.0 508.5,320.3 505.7,318.7 502.8,317.0 500.0,315.4 497.1,313.8 494.3,312.1 491.4,310.5 488.6,308.8 485.8,307.2 482.9,305.6 480.1,303.9 477.3,302.3 474.4,300.6 471.6,299.0 468.8,297.4 465.9,295.8 463.1,294.1 460.3,292.5 457.5,290.9 454.7,289.2 451.9,287.6 449.1,286.0 446.3,284.4 443.5,282.8 440.7,281.2 437.9,279.6 435.1,277.9 432.3,276.3 429.5,274.7 426.8,273.1 424.0,271.5 421.2,270.0 418.5,268.4 415.7,266.8 413.0,265.2 410.3,263.6 407.5,262.0 404.8,260.5 402.1,258.9 399.4,257.3 396.7,255.8 394.0,254.2 391.3,252.7 388.6,251.1 385.9,249.6 383.3,248.0 380.6,246.5 378.0,245.0 375.3,243.4 372.7,241.9 370.0,240.4 367.4,238.9 364.8,237.4 361.9,235.7 358.8,233.9 355.8,232.2 352.8,230.5 349.9,228.8 346.9,227.0 343.9,225.3 341.0,223.6 338.1,222.0 335.2,220.3 332.3,218.6 329.4,216.9 326.5,215.3 323.7,213.6 320.8,212.0 318.0,210.4 315.2,208.8 312.4,207.2 309.7,205.6 306.9,204.0 304.2,202.4 301.5,200.8 298.8,199.3 296.1,197.7 293.4,196.2 290.8,194.7 288.2,193.2 285.2,191.4 282.1,189.6 279.0,187.9 276.0,186.1 273.0,184.4 270.0,182.7 267.0,181.0 264.1,179.3 261.3,177.6 258.4,176.0 255.6,174.4 252.8,172.7 250.1,171.2 247.3,169.6 244.7,168.0 242.0,166.5 239.3,164.9 236.1,163.1 232.9,161.3 232.4,161.0" stroke="#eec8ff" stroke-width="3.8" fill="none"/>
<path d="M200.0,156.5 L201.8,159.3 203.6,161.9 205.4,164.6 207.0,167.2 208.8,169.9 210.5,172.7 212.2,175.3 213.9,178.0 215.6,180.7 217.3,183.6 218.9,186.2 220.6,188.8 222.2,191.5 223.9,194.3 225.7,197.0 227.4,199.9 229.1,202.5 230.7,205.1 232.4,207.7 234.1,210.4 235.8,213.1 237.5,215.8 239.3,218.5 241.1,221.3 242.8,223.9 244.4,226.5 246.1,229.0 247.8,231.5 249.6,234.1 251.3,236.6 253.0,239.2 254.8,241.8 256.6,244.3 258.4,246.9 260.2,249.4 262.1,252.0 263.9,254.5 265.8,257.1 267.7,259.6 269.6,262.1 271.6,264.7 273.5,267.2 275.4,269.6 277.4,272.1 279.4,274.7 281.3,277.1 283.3,279.5 285.2,281.9 287.2,284.4 289.2,286.8 291.1,289.1 293.0,291.4 295.0,293.8 296.9,296.2 298.9,298.6 300.9,301.0 302.9,303.4 304.9,305.8 307.0,308.2 309.0,310.6 311.0,313.0 313.1,315.4 315.1,317.9 317.2,320.3 319.2,322.7 321.3,325.1 323.3,327.5 325.3,329.9 327.4,332.2 329.4,334.6 331.4,336.9 333.4,339.3 335.4,341.6 337.3,343.8 339.3,346.1 341.3,348.5 343.4,350.9 345.4,353.3 347.4,355.6 349.4,358.0 351.5,360.5 353.5,362.8 355.5,365.2 357.6,367.6 359.6,370.1 361.6,372.4 363.6,374.7 365.6,377.1 367.6,379.6 369.7,382.1 371.8,384.7 373.8,387.2 375.8,389.7 377.9,392.3 379.8,394.8 381.8,397.4 383.8,399.9 385.9,402.7 387.8,405.4 389.8,408.0 391.9,410.9 393.8,413.6 395.6,416.1 397.5,418.6 399.3,421.0 401.2,423.4 403.2,425.9 405.4,428.4 407.8,431.1 409.8,433.4 412.0,435.7 414.1,438.0 416.5,440.7 418.7,443.0 420.8,445.2 423.0,447.5 425.7,449.9 428.1,452.1 430.4,454.1 433.0,456.3 435.4,458.3 437.7,460.3 440.3,462.4 442.8,464.5 445.4,466.5 447.9,468.6 450.3,470.6 452.8,472.6 455.3,474.6 457.8,476.6 460.1,478.5 462.5,480.5 464.9,482.4 467.4,484.4 469.8,486.3 472.3,488.3 474.7,490.3 477.1,492.2 479.4,494.0 481.8,495.9 484.1,497.8 486.5,499.7 488.8,501.6 491.2,503.4 493.5,505.3 495.9,507.2 498.3,509.1 500.8,511.1 503.2,513.0 505.7,515.0 508.1,516.9 510.5,518.8 512.9,520.7 515.2,522.6 517.6,524.4 520.0,526.3 522.4,528.2 524.8,530.2 527.2,532.1 529.7,534.0 532.2,536.0 534.6,537.9 537.1,539.8 539.4,541.7 541.8,543.6 544.2,545.5 546.6,547.3 549.0,549.2 551.3,551.1 553.7,553.0 556.1,554.9 558.5,556.7 560.9,558.6 563.3,560.5 565.7,562.4 568.0,564.2 570.4,566.1 572.9,568.0 575.3,569.9 577.8,571.9 580.2,573.8 582.7,575.7 585.1,577.6 587.5,579.5 589.9,581.3 592.3,583.2 594.7,585.0 597.0,586.9 599.5,588.8 601.9,590.7 604.3,592.5 606.8,594.4 609.2,596.4 611.7,598.3 614.2,600.2 616.7,602.1 619.2,604.0 621.7,606.0 624.2,607.9 626.7,609.8 629.2,611.7 631.7,613.7 634.2,615.6 636.7,617.5 639.2,619.4 641.7,621.3 644.2,623.2 646.8,625.1 649.3,627.0 651.8,628.8 654.2,630.7 656.7,632.5 659.2,634.3 661.8,636.3 664.4,638.1 666.9,640.0 669.4,641.8 671.9,643.6 674.4,645.4 677.0,647.3 679.6,649.2 682.2,651.0 684.8,652.8 687.2,654.6 689.8,656.3 692.4,658.2 695.0,660.0 697.6,661.8 700.1,663.6 700.9,664.1" stroke="#eec8ff" stroke-width="3.8" fill="none"/>
<path d="M181.1,156.4 L180.9,159.6 180.8,162.9 180.6,166.2 180.5,169.5 180.3,172.8 180.2,176.1 180.0,179.4 179.9,182.7 179.7,185.8 179.6,188.9 179.4,192.5 179.2,195.8 179.1,199.0 178.9,202.4 178.7,206.0 178.5,209.4 178.3,212.7 178.1,215.9 178.0,219.0 177.8,222.1 177.6,225.1 177.4,228.8 177.1,232.7 176.9,236.6 176.6,240.6 176.4,243.9 176.2,246.9 176.0,250.0 175.8,253.1 175.6,256.3 175.4,259.4 175.2,262.5 175.0,265.7 174.8,268.8 174.6,272.0 174.4,275.1 174.2,278.2 174.0,281.4 173.7,284.5 173.5,287.6 173.2,290.7 172.9,293.8 172.6,296.9 172.3,300.0 172.0,303.1 171.6,306.2 171.3,309.3 170.9,312.5 170.5,315.6 170.1,318.8 169.7,321.9 169.3,325.1 168.9,328.1 168.4,331.2 167.9,334.2 167.4,337.2 166.7,341.1 165.9,344.8 165.0,348.4 164.1,351.8 163.1,355.0 162.1,358.0 161.1,360.9 159.7,364.3 158.2,367.8 157.0,370.5 155.7,373.4 154.3,376.4 152.8,379.5 151.3,382.9 149.9,386.1 148.6,389.0 147.2,392.0 145.8,395.1 144.4,398.3 142.9,401.5 141.3,404.8 139.7,408.2 138.1,411.6 136.5,415.0 134.9,418.3 133.3,421.6 131.7,424.9 130.1,428.1 128.6,431.2 127.0,434.2 125.6,437.0 124.1,439.8 122.6,442.5 121.1,445.3 119.1,448.7 117.2,452.1 115.3,455.4 113.3,458.7 111.4,461.9 109.5,465.1 107.5,468.4 105.6,471.6 103.7,474.9 101.7,478.1 100.2,480.8 99.6,481.7" stroke="#dfa3ff" stroke-width="4.2" fill="none"/>
<path d="M121.5,491.2 L124.4,489.5 127.5,487.7 130.6,485.9 133.8,484.1 137.0,482.2 139.6,480.7 142.3,479.2 145.0,477.6 147.7,476.1 150.4,474.5 153.2,472.9 156.0,471.2 158.9,469.6 161.8,467.9 164.7,466.3 167.7,464.6 170.6,462.8 173.6,461.1 176.7,459.3 179.8,457.6 182.8,455.8 185.4,454.3 188.0,452.8 190.6,451.3 193.3,449.8 196.0,448.2 198.7,446.7 201.4,445.1 204.1,443.5 206.9,441.9 209.6,440.3 212.4,438.7 215.2,437.1 218.0,435.5 220.9,433.9 223.7,432.2 226.6,430.6 229.5,428.9 232.4,427.2 235.3,425.5 238.2,423.9 241.1,422.2 244.1,420.5 247.1,418.7 250.0,417.0 253.0,415.3 256.0,413.6 259.1,411.8 262.0,410.1 264.6,408.6 267.3,407.1 269.9,405.6 272.5,404.1 275.2,402.5 277.8,401.0 280.5,399.5 283.1,397.9 285.8,396.4 288.5,394.8 291.2,393.3 293.9,391.7 296.6,390.2 299.3,388.6 302.0,387.0 304.7,385.5 307.5,383.9 310.2,382.3 313.0,380.7 315.7,379.1 318.5,377.5 321.2,376.0 324.0,374.4 326.8,372.8 329.5,371.2 332.3,369.6 335.1,367.9 337.9,366.3 340.7,364.7 343.5,363.1 346.3,361.5 349.1,359.9 351.9,358.3 354.7,356.6 357.5,355.0 360.3,353.4 363.2,351.7 366.0,350.1 368.8,348.5 371.7,346.9 374.5,345.2 377.3,343.6 380.2,341.9 383.0,340.3 385.8,338.7 388.7,337.0 391.5,335.4 394.4,333.7 397.2,332.1 400.1,330.5 402.9,328.8 405.8,327.2 408.6,325.5 411.5,323.9 414.3,322.2 417.2,320.6 420.0,319.0 422.9,317.3 425.7,315.7 428.5,314.0 431.4,312.4 434.2,310.7 437.1,309.1 439.9,307.5 442.8,305.8 445.6,304.2 448.4,302.6 451.3,300.9 454.1,299.3 456.9,297.7 459.8,296.0 462.6,294.4 465.4,292.8 468.2,291.1 471.0,289.5 473.8,287.9 476.6,286.3 479.5,284.7 482.3,283.0 485.0,281.4 487.8,279.8 490.6,278.2 493.4,276.6 496.2,275.0 499.0,273.4 501.7,271.8 504.5,270.2 507.2,268.6 510.0,267.0 512.7,265.5 515.5,263.9 518.2,262.3 520.9,260.7 523.6,259.2 526.4,257.6 529.1,256.0 531.8,254.5 534.5,252.9 537.1,251.4 539.8,249.8 542.5,248.3 545.1,246.8 547.8,245.2 550.4,243.7 553.1,242.2 555.7,240.7 558.3,239.2 560.9,237.6 563.8,236.0 566.9,234.2 569.9,232.5 572.9,230.8 575.8,229.0 578.8,227.3 581.8,225.6 584.7,223.9 587.6,222.2 590.6,220.6 593.5,218.9 596.3,217.2 599.2,215.6 602.1,213.9 604.9,212.3 607.7,210.7 610.5,209.0 613.3,207.4 616.1,205.8 618.8,204.2 621.6,202.7 624.3,201.1 627.0,199.5 629.7,198.0 632.3,196.5 635.0,194.9 637.6,193.4 640.2,191.9 643.1,190.2 646.2,188.5 649.2,186.7 652.3,185.0 655.2,183.2 658.2,181.5 661.1,179.8 664.0,178.2 666.9,176.5 669.7,174.9 672.5,173.3 675.3,171.7 678.0,170.1 680.7,168.6 683.3,167.0 686.0,165.5 689.1,163.7 692.3,161.9 693.8,161.0" stroke="#e8b8ff" stroke-width="4.2" fill="none"/>
<path d="M572.7,771.8 L573.6,768.6 574.4,765.6 575.2,762.5 576.0,759.4 576.9,756.1 577.8,752.8 578.7,749.5 579.6,746.0 580.6,742.5 581.5,738.9 582.4,735.8 583.2,732.8 584.0,729.8 584.8,726.8 585.6,723.7 586.4,720.6 587.3,717.4 588.1,714.2 589.0,710.9 589.9,707.6 590.8,704.3 591.7,700.9 592.6,697.5 593.5,694.1 594.4,690.9 595.2,688.0 595.9,685.1 596.7,682.1 597.5,679.1 598.3,676.1 599.2,673.1 600.0,670.0 600.8,667.0 601.6,663.9 602.5,660.7 603.3,657.6 604.1,654.4 605.0,651.3 605.8,648.1 606.7,644.9 607.6,641.6 608.4,638.4 609.3,635.1 610.2,631.8 611.1,628.5 612.0,625.2 612.9,621.9 613.8,618.5 614.7,615.1 615.5,612.0 616.3,609.1 617.1,606.1 617.9,603.2 618.6,600.3 619.4,597.3 620.2,594.4 621.0,591.4 621.8,588.4 622.6,585.4 623.4,582.4 624.2,579.4 625.0,576.4 625.9,573.3 626.7,570.3 627.5,567.3 628.3,564.2 629.1,561.2 629.9,558.1 630.8,555.0 631.6,551.9 632.4,548.9 633.2,545.8 634.1,542.7 634.9,539.6 635.7,536.5 636.6,533.3 637.4,530.2 638.2,527.1 639.1,524.0 639.9,520.8 640.8,517.7 641.6,514.6 642.4,511.4 643.3,508.3 644.1,505.1 645.0,502.0 645.8,498.8 646.7,495.7 647.5,492.5 648.4,489.3 649.2,486.2 650.1,483.0 650.9,479.8 651.7,476.7 652.6,473.5 653.4,470.3 654.3,467.2 655.1,464.0 656.0,460.8 656.8,457.6 657.7,454.5 658.5,451.3 659.4,448.1 660.2,445.0 661.1,441.8 661.9,438.6 662.8,435.5 663.6,432.3 664.5,429.2 665.3,426.0 666.2,422.8 667.0,419.7 667.8,416.5 668.7,413.4 669.5,410.3 670.4,407.1 671.2,404.0 672.0,400.9 672.9,397.8 673.7,394.6 674.6,391.5 675.4,388.4 676.2,385.3 677.0,382.2 677.9,379.1 678.7,376.0 679.5,373.0 680.3,369.9 681.2,366.8 682.0,363.8 682.8,360.7 683.6,357.7 684.4,354.7 685.2,351.6 686.0,348.6 686.8,345.6 687.7,342.6 688.5,339.6 689.3,336.6 690.0,333.7 690.8,330.7 691.6,327.7 692.4,324.8 693.2,321.9 694.0,318.9 694.8,316.0 695.6,312.8 696.5,309.4 697.4,306.1 698.3,302.8 699.2,299.4 700.1,296.1 701.0,292.9 701.9,289.6 702.7,286.3 703.6,283.1 704.4,279.9 705.3,276.7 706.2,273.5 707.0,270.4 707.8,267.2 708.7,264.1 709.5,261.0 710.3,258.0 711.1,254.9 711.9,251.9 712.8,248.9 713.5,245.9 714.3,242.9 715.1,240.0 715.9,237.1 716.8,233.8 717.7,230.4 718.6,227.0 719.5,223.6 720.4,220.3 721.3,217.0 722.1,213.8 723.0,210.6 723.9,207.4 724.7,204.3 725.5,201.2 726.3,198.2 727.1,195.2 727.9,192.2 728.8,188.9 729.8,185.4 730.7,181.9 731.6,178.5 732.5,175.1 733.4,171.8 734.2,168.6 734.7,167.0" stroke="#e8b8ff" stroke-width="3.8" fill="none"/>
<path d="M541.9,772.4 L539.7,770.1 537.3,767.8 534.9,765.4 532.5,762.9 530.0,760.4 527.4,757.9 524.8,755.3 522.3,752.8 520.2,750.6 518.0,748.4 515.8,746.2 513.5,744.0 511.2,741.7 508.9,739.4 506.6,737.0 504.2,734.7 501.8,732.3 499.4,729.8 496.9,727.4 494.4,724.9 491.9,722.4 489.5,719.9 487.3,717.8 485.2,715.7 483.0,713.5 480.8,711.3 478.6,709.1 476.4,706.9 474.2,704.7 472.0,702.4 469.7,700.2 467.4,697.9 465.1,695.6 462.8,693.3 460.5,691.0 458.1,688.6 455.8,686.3 453.4,683.9 451.1,681.6 448.7,679.2 446.3,676.8 443.8,674.3 441.4,671.9 439.0,669.5 436.5,667.0 434.1,664.6 431.6,662.1 429.5,660.0 427.4,657.9 425.2,655.7 423.1,653.6 420.9,651.4 418.7,649.3 416.6,647.1 414.4,644.9 412.2,642.7 410.0,640.5 407.8,638.3 405.6,636.1 403.4,633.9 401.1,631.7 398.9,629.5 396.7,627.2 394.4,625.0 392.2,622.7 389.9,620.5 387.7,618.2 385.4,616.0 383.2,613.7 380.9,611.5 378.6,609.2 376.4,606.9 374.1,604.6 371.8,602.4 369.5,600.1 367.2,597.8 364.9,595.5 362.6,593.2 360.3,590.9 358.0,588.6 355.7,586.3 353.4,584.0 351.1,581.7 348.8,579.4 346.5,577.1 344.2,574.7 341.9,572.4 339.5,570.1 337.2,567.8 334.9,565.5 332.6,563.2 330.2,560.8 327.9,558.5 325.6,556.2 323.3,553.9 321.0,551.6 318.6,549.2 316.3,546.9 314.0,544.6 311.7,542.3 309.3,540.0 307.0,537.6 304.7,535.3 302.4,533.0 300.1,530.7 297.8,528.4 295.4,526.1 293.1,523.8 290.8,521.5 288.5,519.2 286.2,516.8 283.9,514.6 281.6,512.3 279.3,510.0 277.0,507.7 274.7,505.4 272.5,503.1 270.2,500.8 267.9,498.5 265.6,496.3 263.4,494.0 261.1,491.7 258.8,489.5 256.6,487.2 254.3,485.0 252.1,482.7 249.8,480.5 247.6,478.3 245.4,476.0 243.1,473.8 240.9,471.6 238.7,469.4 236.5,467.2 234.3,465.0 232.1,462.8 229.9,460.6 227.8,458.4 225.6,456.3 223.4,454.1 221.3,451.9 219.1,449.8 217.0,447.6 214.8,445.5 212.6,443.3 210.1,440.8 207.7,438.3 205.2,435.9 202.8,433.5 200.3,431.0 197.9,428.6 195.5,426.2 193.2,423.9 190.8,421.5 188.4,419.1 186.1,416.8 183.8,414.5 181.4,412.2 179.1,409.9 176.8,407.6 174.6,405.3 172.3,403.0 170.1,400.8 167.9,398.6 165.7,396.4 163.5,394.2 161.3,392.0 159.1,389.9 157.0,387.7 154.7,385.5 152.2,382.9 149.7,380.5 147.2,378.0 144.8,375.6 142.4,373.1 140.0,370.8 137.7,368.4 135.3,366.1 133.0,363.8 130.8,361.5 128.5,359.3 126.3,357.1 124.1,354.9 121.9,352.7 119.3,350.0 116.7,347.5 114.2,344.9 111.7,342.5 110.9,341.6" stroke="#dfa3ff" stroke-width="3.8" fill="none"/>
<path d="M346.7,772.1 L345.1,769.2 343.4,766.3 341.7,763.3 340.0,760.3 338.2,757.1 336.4,753.9 334.9,751.3 333.4,748.6 331.8,745.9 330.2,743.1 328.6,740.3 327.0,737.4 325.3,734.5 323.6,731.6 321.9,728.6 320.2,725.6 318.5,722.5 316.8,719.6 315.3,716.9 313.8,714.3 312.2,711.6 310.7,708.9 309.1,706.2 307.6,703.5 306.0,700.7 304.4,697.9 302.8,695.1 301.2,692.3 299.5,689.4 297.9,686.6 296.2,683.7 294.5,680.8 292.9,677.8 291.2,674.9 289.5,671.9 287.7,668.9 286.0,665.9 284.4,663.0 282.9,660.4 281.4,657.8 279.8,655.2 278.3,652.5 276.8,649.9 275.3,647.2 273.7,644.5 272.2,641.8 270.6,639.2 269.1,636.5 267.5,633.7 266.0,631.0 264.4,628.3 262.8,625.6 261.2,622.8 259.6,620.1 258.0,617.3 256.5,614.5 254.9,611.8 253.3,609.0 251.6,606.2 250.0,603.4 248.4,600.6 246.8,597.8 245.2,595.0 243.6,592.2 241.9,589.4 240.3,586.5 238.7,583.7 237.1,580.9 235.4,578.1 233.8,575.2 232.2,572.4 230.5,569.6 228.9,566.7 227.2,563.9 225.6,561.0 224.0,558.2 222.3,555.4 220.7,552.5 219.0,549.7 217.4,546.8 215.7,544.0 214.1,541.1 212.5,538.3 210.8,535.5 209.2,532.6 207.5,529.8 205.9,527.0 204.3,524.1 202.6,521.3 201.0,518.5 199.4,515.7 197.7,512.9 196.1,510.1 194.5,507.3 192.9,504.5 191.2,501.7 189.6,498.9 188.0,496.1 186.4,493.3 184.8,490.6 183.2,487.8 181.6,485.0 180.0,482.3 178.4,479.6 176.8,476.8 175.3,474.1 173.7,471.4 172.1,468.7 170.6,466.0 169.0,463.3 167.4,460.6 165.9,458.0 164.4,455.3 162.8,452.7 161.3,450.0 159.8,447.4 158.3,444.8 156.7,442.2 155.0,439.3 153.3,436.3 151.6,433.3 149.8,430.3 148.1,427.4 146.4,424.5 144.7,421.6 143.1,418.7 141.4,415.8 139.7,413.0 138.1,410.2 136.5,407.4 134.9,404.6 133.3,401.8 131.7,399.1 130.1,396.4 128.5,393.7 127.0,391.1 125.4,388.5 123.9,385.9 122.2,382.9 120.4,379.8 118.6,376.8 116.9,373.9 115.2,370.9 113.5,368.1 111.9,365.2 110.2,362.4 108.6,359.7 107.0,357.0 105.5,354.3 103.9,351.6 102.0,348.5 100.2,345.4 99.3,343.8" stroke="#eec8ff" stroke-width="4.2" fill="none"/>
<path d="M93.0,334.5 L94.6,337.4 96.3,340.3 98.0,343.3 99.7,346.3 101.5,349.5 103.3,352.7 104.8,355.3 106.3,358.0 107.9,360.7 109.5,363.5 111.1,366.3 112.7,369.2 114.4,372.1 116.1,375.0 117.8,378.0 119.5,381.0 121.2,384.1 122.9,387.0 124.4,389.7 125.9,392.3 127.5,395.0 129.0,397.7 130.6,400.4 132.1,403.1 133.7,405.9 135.3,408.7 136.9,411.5 138.5,414.3 140.2,417.2 141.8,420.0 143.5,422.9 145.2,425.8 146.8,428.8 148.5,431.7 150.2,434.7 152.0,437.7 153.7,440.7 155.3,443.6 156.8,446.2 158.3,448.8 159.9,451.4 161.4,454.1 162.9,456.7 164.4,459.4 166.0,462.1 167.5,464.8 169.1,467.4 170.6,470.1 172.2,472.9 173.7,475.6 175.3,478.3 176.9,481.0 178.5,483.8 180.1,486.5 181.7,489.3 183.2,492.1 184.8,494.8 186.4,497.6 188.1,500.4 189.7,503.2 191.3,506.0 192.9,508.8 194.5,511.6 196.1,514.4 197.8,517.2 199.4,520.1 201.0,522.9 202.6,525.7 204.3,528.5 205.9,531.4 207.5,534.2 209.2,537.0 210.8,539.9 212.5,542.7 214.1,545.6 215.7,548.4 217.4,551.2 219.0,554.1 220.7,556.9 222.3,559.8 224.0,562.6 225.6,565.5 227.2,568.3 228.9,571.1 230.5,574.0 232.2,576.8 233.8,579.6 235.4,582.5 237.1,585.3 238.7,588.1 240.3,590.9 242.0,593.7 243.6,596.5 245.2,599.3 246.8,602.1 248.5,604.9 250.1,607.7 251.7,610.5 253.3,613.3 254.9,616.0 256.5,618.8 258.1,621.6 259.7,624.3 261.3,627.0 262.9,629.8 264.4,632.5 266.0,635.2 267.6,637.9 269.1,640.6 270.7,643.3 272.3,646.0 273.8,648.6 275.3,651.3 276.9,653.9 278.4,656.6 279.9,659.2 281.4,661.8 283.0,664.4 284.7,667.3 286.4,670.3 288.1,673.3 289.9,676.3 291.6,679.2 293.3,682.1 295.0,685.0 296.6,687.9 298.3,690.8 300.0,693.6 301.6,696.4 303.2,699.2 304.8,702.0 306.4,704.8 308.0,707.5 309.6,710.2 311.2,712.9 312.7,715.5 314.3,718.1 315.8,720.7 317.5,723.7 319.3,726.8 321.1,729.8 322.8,732.7 324.5,735.7 326.2,738.5 327.8,741.4 329.5,744.2 331.1,746.9 332.7,749.6 334.2,752.3 335.8,755.0 337.7,758.1 339.5,761.2 340.4,762.8" stroke="#eec8ff" stroke-width="4.2" fill="none"/>
<path d="M90.7,334.6 L92.0,338.0 93.1,340.9 94.3,344.1 95.5,347.4 96.7,350.7 97.7,353.5 98.8,356.5 99.8,359.4 100.9,362.4 102.0,365.4 103.0,368.4 104.1,371.4 105.2,374.3 106.2,377.2 107.3,380.2 108.6,383.7 109.9,387.0 111.1,390.2 112.3,393.2 113.6,396.1 114.8,398.9 116.0,401.7 117.6,405.2 119.2,408.8 120.8,412.3 122.4,416.0 123.6,418.9 124.8,421.8 125.9,424.8 127.1,427.8 128.2,431.1 129.3,434.4 130.4,437.9 131.3,441.2 132.2,444.1 133.0,447.1 133.7,450.1 134.5,453.2 135.3,456.3 136.1,459.5 136.8,462.7 137.6,465.9 138.3,469.2 139.1,472.6 139.9,476.0 140.6,479.4 141.4,482.8 142.2,486.1 142.9,489.1 143.6,492.0 144.3,495.0 145.0,498.0 145.8,501.0 146.5,504.1 147.3,507.1 148.1,510.3 149.0,513.4 149.8,516.6 150.6,519.8 151.5,523.0 152.4,526.3 153.3,529.6 154.1,532.9 155.0,536.2 155.9,539.6 156.8,542.8 157.5,545.7 158.3,548.6 159.0,551.5 159.7,554.5 160.5,557.5 161.2,560.4 161.9,563.4 162.6,566.4 163.3,569.4 163.9,572.4 164.6,575.5 165.2,578.5 165.8,581.5 166.4,584.7 167.0,587.9 167.6,591.2 168.1,594.2 168.7,597.2 169.2,600.3 169.7,603.4 170.2,606.5 170.7,609.6 171.2,612.8 171.7,615.9 172.2,619.1 172.7,622.2 173.1,625.4 173.6,628.5 174.0,631.6 174.5,634.7 174.9,637.7 175.3,640.7 175.8,644.0 176.3,647.2 176.7,650.4 177.2,653.4 177.6,656.5 177.8,658.2" stroke="#eec8ff" stroke-width="4.2" fill="none"/>
<path d="M177.2,669.5 L176.7,666.4 176.2,663.0 175.7,659.8 175.2,656.5 174.8,653.4 174.4,650.4 173.9,647.2 173.5,644.0 173.0,640.7 172.6,637.7 172.1,634.7 171.7,631.6 171.3,628.5 170.8,625.4 170.3,622.2 169.9,619.1 169.4,615.9 168.9,612.8 168.4,609.6 167.9,606.5 167.4,603.4 166.9,600.3 166.4,597.2 165.9,594.2 165.4,591.2 164.8,587.9 164.2,584.7 163.6,581.5 163.0,578.5 162.4,575.5 161.7,572.4 161.1,569.4 160.4,566.4 159.7,563.4 159.0,560.4 158.3,557.5 157.5,554.5 156.8,551.5 156.1,548.6 155.3,545.7 154.6,542.8 153.7,539.6 152.8,536.2 151.9,532.9 151.1,529.6 150.2,526.3 149.3,523.0 148.4,519.8 147.6,516.6 146.8,513.4 145.9,510.3 145.1,507.1 144.3,504.1 143.6,501.0 142.8,498.0 142.1,495.0 141.4,492.0 140.7,489.1 140.0,486.1 139.2,482.8 138.4,479.4 137.7,476.0 136.9,472.6 136.1,469.2 135.4,465.9 134.6,462.7 133.9,459.5 133.1,456.3 132.3,453.2 131.5,450.1 130.8,447.1 130.0,444.1 129.1,441.2 128.2,437.9 127.1,434.4 126.0,431.1 124.9,427.8 123.7,424.8 122.6,421.8 121.4,418.9 120.2,416.0 118.6,412.3 117.0,408.8 115.4,405.2 113.8,401.7 112.6,398.9 111.4,396.1 110.1,393.2 108.9,390.2 107.7,387.0 106.4,383.7 105.1,380.2 104.0,377.2 102.9,374.3 101.8,371.4 100.8,368.4 99.7,365.4 98.6,362.4 97.5,359.4 96.4,356.5 95.4,353.5 94.4,350.7 93.2,347.4 92.2,344.6" stroke="#eec8ff" stroke-width="4.2" fill="none"/>
<path d="M80.0,491.0 L80.0,487.6 80.1,484.1 80.1,481.0 80.1,477.9 80.2,474.7 80.2,471.5 80.2,468.1 80.3,464.7 80.3,461.3 80.3,458.3 80.3,455.2 80.3,452.1 80.3,449.0 80.4,445.9 80.4,442.7 80.4,439.5 80.4,436.3 80.4,433.0 80.4,429.8 80.4,426.5 80.4,423.2 80.4,419.9 80.4,416.7 80.4,413.3 80.4,410.0 80.4,406.8 80.4,403.5 80.4,400.2 80.4,396.9 80.4,393.6 80.4,390.4 80.4,387.2 80.4,384.0 80.3,380.8 80.3,377.6 80.3,374.5 80.3,371.4 80.3,368.3 80.3,365.3 80.2,362.0 80.2,358.6 80.2,355.2 80.1,351.9 80.1,348.7 80.1,345.6" stroke="#eec8ff" stroke-width="4.2" fill="none"/>
<path d="M78.7,334.6 L78.6,338.0 78.6,341.5 78.6,344.6 78.5,347.7 78.5,350.9 78.5,354.1 78.4,357.5 78.4,360.9 78.4,364.3 78.4,367.3 78.3,370.4 78.3,373.5 78.3,376.6 78.3,379.7 78.3,382.9 78.3,386.1 78.3,389.3 78.2,392.6 78.2,395.8 78.2,399.1 78.2,402.4 78.2,405.7 78.2,408.9 78.2,412.3 78.2,415.6 78.2,418.8 78.2,422.1 78.2,425.4 78.2,428.7 78.3,432.0 78.3,435.2 78.3,438.4 78.3,441.6 78.3,444.8 78.3,448.0 78.3,451.1 78.4,454.2 78.4,457.3 78.4,460.3 78.4,463.6 78.4,467.0 78.5,470.4 78.5,473.7 78.5,476.9 78.6,480.0" stroke="#e8b8ff" stroke-width="4.2" fill="none"/>
<path d="M384.5,772.4 L386.8,770.1 389.1,767.7 391.5,765.3 394.0,762.9 396.5,760.4 399.0,757.8 401.6,755.2 404.1,752.8 406.3,750.6 408.5,748.4 410.7,746.2 412.9,743.9 415.2,741.7 417.5,739.3 419.9,737.0 422.2,734.6 424.6,732.2 427.1,729.8 429.5,727.4 432.0,724.9 434.5,722.4 437.0,719.9 439.1,717.8 441.2,715.6 443.4,713.5 445.6,711.3 447.8,709.1 450.0,706.9 452.2,704.6 454.5,702.4 456.7,700.1 459.0,697.9 461.3,695.6 463.6,693.3 465.9,690.9 468.2,688.6 470.6,686.2 473.0,683.9 475.3,681.5 477.7,679.1 480.1,676.7 482.5,674.3 485.0,671.9 487.4,669.4 489.8,667.0 492.3,664.5 494.7,662.1 496.9,660.0 499.0,657.8 501.1,655.7 503.3,653.5 505.4,651.4 507.6,649.2 509.8,647.0 512.0,644.8 514.2,642.6 516.4,640.5 518.6,638.3 520.8,636.0 523.0,633.8 525.2,631.6 527.4,629.4 529.6,627.1 531.9,624.9 534.1,622.7 536.4,620.4 538.6,618.2 540.9,615.9 543.1,613.7 545.4,611.4 547.7,609.1 549.9,606.8 552.2,604.6 554.5,602.3 556.8,600.0 559.1,597.7 561.4,595.4 563.7,593.1 566.0,590.8 568.3,588.5 570.6,586.2 572.9,583.9 575.2,581.6 577.5,579.3 579.8,577.0 582.1,574.7 584.4,572.3 586.7,570.0 589.1,567.7 591.4,565.4 593.7,563.1 596.0,560.7 598.3,558.4 600.6,556.1 603.0,553.8 605.3,551.5 607.6,549.1 609.9,546.8 612.3,544.5 614.6,542.2 616.9,539.9 619.2,537.5 621.5,535.2 623.8,532.9 626.2,530.6 628.5,528.3 630.8,526.0 633.1,523.7 635.4,521.3 637.7,519.0 640.0,516.7 642.3,514.4 644.6,512.1 646.9,509.8 649.2,507.6 651.5,505.3 653.7,503.0 656.0,500.7 658.3,498.4 660.6,496.2 662.8,493.9 665.1,491.6 667.4,489.4 669.6,487.1 671.9,484.9 674.1,482.6 676.3,480.4 678.6,478.1 680.8,475.9 683.0,473.7 685.2,471.5 687.4,469.3 689.6,467.0 691.8,464.8 694.0,462.7 696.2,460.5 698.4,458.3 700.6,456.1 702.7,454.0 704.9,451.8 707.0,449.6 709.2,447.5 711.3,445.4 713.6,443.1 716.0,440.7 718.5,438.2 720.9,435.8 723.4,433.3 725.8,430.9 728.2,428.5 730.6,426.1 733.0,423.7 735.3,421.3 737.7,419.0 740.0,416.6 742.4,414.3 744.7,412.0 747.0,409.7 749.3,407.4 751.5,405.1 753.8,402.9 756.0,400.6 758.2,398.4 760.4,396.2 762.6,394.0 764.8,391.9 766.9,389.7 769.1,387.6 771.3,385.3 773.9,382.8 776.4,380.3 778.8,377.8 781.3,375.4 783.7,373.0 786.1,370.6 788.4,368.2 790.7,365.9 793.0,363.6 795.3,361.3 797.5,359.1 799.7,356.9 801.9,354.7 804.1,352.5 806.8,349.9 809.3,347.3 811.9,344.7 814.3,342.3 815.2,341.5" stroke="#e8b8ff" stroke-width="3.8" fill="none"/>
<path d="M580.1,772.2 L581.7,769.4 583.4,766.5 585.1,763.5 586.9,760.5 588.7,757.4 590.5,754.2 592.0,751.5 593.6,748.9 595.1,746.1 596.7,743.4 598.3,740.6 600.0,737.7 601.7,734.8 603.4,731.9 605.1,728.9 606.8,725.9 608.6,722.8 610.3,719.9 611.8,717.3 613.3,714.7 614.8,712.0 616.4,709.3 617.9,706.6 619.5,703.9 621.1,701.1 622.7,698.3 624.3,695.5 626.0,692.7 627.6,689.8 629.3,687.0 630.9,684.1 632.6,681.2 634.3,678.2 636.0,675.3 637.7,672.3 639.4,669.3 641.2,666.3 642.8,663.4 644.3,660.8 645.8,658.2 647.4,655.6 648.9,652.9 650.4,650.3 651.9,647.6 653.5,645.0 655.0,642.3 656.6,639.6 658.1,636.9 659.7,634.2 661.3,631.5 662.8,628.7 664.4,626.0 666.0,623.3 667.6,620.5 669.2,617.7 670.8,615.0 672.4,612.2 674.0,609.4 675.6,606.6 677.2,603.9 678.8,601.1 680.4,598.3 682.0,595.4 683.7,592.6 685.3,589.8 686.9,587.0 688.5,584.2 690.2,581.4 691.8,578.5 693.4,575.7 695.1,572.9 696.7,570.0 698.3,567.2 700.0,564.3 701.6,561.5 703.3,558.7 704.9,555.8 706.5,553.0 708.2,550.1 709.8,547.3 711.5,544.4 713.1,541.6 714.7,538.8 716.4,535.9 718.0,533.1 719.6,530.2 721.3,527.4 722.9,524.6 724.5,521.8 726.2,518.9 727.8,516.1 729.4,513.3 731.0,510.5 732.7,507.7 734.3,504.9 735.9,502.1 737.5,499.3 739.1,496.5 740.7,493.7 742.3,491.0 743.9,488.2 745.5,485.4 747.1,482.7 748.6,479.9 750.2,477.2 751.8,474.5 753.4,471.8 754.9,469.1 756.5,466.4 758.0,463.7 759.6,461.0 761.1,458.3 762.6,455.7 764.2,453.0 765.7,450.4 767.2,447.7 768.7,445.1 770.2,442.5 771.9,439.6 773.6,436.6 775.4,433.6 777.1,430.6 778.8,427.7 780.5,424.8 782.1,421.8 783.8,419.0 785.5,416.1 787.1,413.2 788.7,410.4 790.3,407.6 792.0,404.8 793.5,402.1 795.1,399.4 796.7,396.6 798.2,394.0 799.8,391.3 801.3,388.7 802.8,386.1 804.5,383.1 806.3,380.0 808.0,377.0 809.7,374.0 811.4,371.1 813.1,368.2 814.7,365.4 816.3,362.6 817.9,359.8 819.5,357.1 821.0,354.4 822.6,351.7 824.4,348.5 826.2,345.4 827.1,343.9" stroke="#eec8ff" stroke-width="3.8" fill="none"/>
<path d="M134.9,515.5 L138.5,515.5 142.2,515.5 145.9,515.5 148.9,515.5 152.0,515.5 155.1,515.5 158.2,515.5 161.4,515.5 164.6,515.5 167.9,515.5 171.2,515.5 174.5,515.5 177.9,515.5 181.3,515.5 184.7,515.5 188.2,515.5 191.7,515.5 195.3,515.5 198.7,515.5 201.7,515.5 204.8,515.5 207.8,515.5 210.9,515.5 214.0,515.5 217.1,515.5 220.2,515.5 223.4,515.5 226.6,515.5 229.7,515.5 233.0,515.5 236.2,515.5 239.5,515.5 242.7,515.5 246.0,515.5 249.3,515.5 252.6,515.5 256.0,515.5 259.4,515.5 262.7,515.5 266.1,515.5 269.5,515.5 273.0,515.5 276.4,515.5 279.9,515.5 283.3,515.5 286.8,515.5 290.2,515.5 293.2,515.5 296.3,515.5 299.3,515.5 302.3,515.5 305.4,515.5 308.5,515.5 311.5,515.5 314.6,515.5 317.7,515.5 320.8,515.5 323.9,515.5 327.0,515.5 330.1,515.5 333.3,515.5 336.4,515.5 339.6,515.5 342.7,515.5 345.9,515.5 349.0,515.5 352.2,515.5 355.4,515.5 358.6,515.5 361.8,515.5 365.0,515.5 368.2,515.5 371.4,515.5 374.6,515.5 377.8,515.5 381.0,515.5 384.3,515.5 387.5,515.5 390.7,515.5 394.0,515.5 397.2,515.5 400.5,515.5 403.7,515.5 407.0,515.5 410.3,515.5 413.5,515.5 416.8,515.5 420.1,515.5 423.3,515.5 426.6,515.5 429.9,515.5 433.2,515.5 436.5,515.5 439.7,515.5 443.0,515.5 446.3,515.5 449.6,515.5 452.9,515.5 456.2,515.5 459.5,515.5 462.8,515.5 466.0,515.5 469.3,515.5 472.6,515.5 475.9,515.5 479.2,515.5 482.5,515.5 485.8,515.5 489.0,515.5 492.3,515.5 495.6,515.5 498.9,515.5 502.2,515.5 505.4,515.5 508.7,515.5 512.0,515.5 515.2,515.5 518.5,515.5 521.8,515.5 525.0,515.5 528.3,515.5 531.5,515.5 534.8,515.5 538.0,515.5 541.2,515.5 544.5,515.5 547.7,515.5 550.9,515.5 554.1,515.5 557.3,515.5 560.6,515.5 563.8,515.5 566.9,515.5 570.1,515.5 573.3,515.5 576.5,515.5 579.7,515.5 582.8,515.5 586.0,515.5 589.1,515.5 592.3,515.5 595.4,515.5 598.5,515.5 601.6,515.5 604.7,515.5 607.8,515.5 610.9,515.5 614.0,515.5 617.1,515.5 620.1,515.5 623.2,515.5 626.2,515.5 629.3,515.5 632.3,515.5 635.3,515.5 638.6,515.5 642.1,515.5 645.6,515.5 649.1,515.5 652.5,515.5 655.9,515.5 659.4,515.5 662.8,515.5 666.1,515.5 669.5,515.5 672.8,515.5 676.2,515.5 679.5,515.5 682.8,515.5 686.1,515.5 689.3,515.5 692.5,515.5 695.8,515.5 699.0,515.5 702.1,515.5 705.3,515.5 708.4,515.5 711.6,515.5 714.6,515.5 717.7,515.5 720.8,515.5 723.8,515.5 726.8,515.5 730.2,515.5 733.7,515.5 737.3,515.5 740.7,515.5 744.2,515.5 747.6,515.5 751.0,515.5 754.3,515.5 757.6,515.5 760.9,515.5 764.1,515.5 767.3,515.5 770.4,515.5 773.5,515.5 776.6,515.5 779.6,515.5 783.3,515.5 786.9,515.5 790.5,515.5 794.1,515.5 797.5,515.5 799.2,515.5" stroke="#eec8ff" stroke-width="3.8" fill="none"/>
<path d="M135.1,530.5 L138.6,531.4 141.5,532.2 144.5,533.0 147.6,533.8 150.6,534.6 153.7,535.4 156.9,536.3 160.1,537.1 163.3,538.0 166.6,538.9 169.9,539.8 173.2,540.7 176.6,541.6 180.0,542.5 183.5,543.4 186.4,544.2 189.3,545.0 192.3,545.8 195.2,546.6 198.2,547.4 201.3,548.2 204.3,549.0 207.4,549.8 210.4,550.7 213.6,551.5 216.7,552.3 219.8,553.2 223.0,554.0 226.2,554.9 229.4,555.7 232.6,556.6 235.9,557.5 239.1,558.3 242.4,559.2 245.7,560.1 249.0,561.0 252.3,561.9 255.7,562.8 259.0,563.7 262.4,564.6 265.3,565.4 268.3,566.2 271.2,566.9 274.1,567.7 277.1,568.5 280.0,569.3 283.0,570.1 286.0,570.9 289.0,571.7 292.0,572.5 295.0,573.3 298.0,574.1 301.0,574.9 304.0,575.8 307.1,576.6 310.1,577.4 313.2,578.2 316.2,579.0 319.3,579.8 322.4,580.7 325.5,581.5 328.6,582.3 331.6,583.2 334.7,584.0 337.9,584.8 341.0,585.7 344.1,586.5 347.2,587.3 350.3,588.2 353.5,589.0 356.6,589.8 359.7,590.7 362.9,591.5 366.0,592.4 369.2,593.2 372.3,594.1 375.5,594.9 378.6,595.8 381.8,596.6 385.0,597.4 388.1,598.3 391.3,599.1 394.5,600.0 397.6,600.8 400.8,601.7 404.0,602.5 407.1,603.4 410.3,604.2 413.5,605.1 416.6,605.9 419.8,606.8 423.0,607.6 426.2,608.5 429.3,609.3 432.5,610.2 435.7,611.0 438.8,611.9 442.0,612.7 445.1,613.6 448.3,614.4 451.5,615.3 454.6,616.1 457.8,617.0 460.9,617.8 464.0,618.7 467.2,619.5 470.3,620.3 473.4,621.2 476.6,622.0 479.7,622.9 482.8,623.7 485.9,624.5 489.0,625.4 492.1,626.2 495.2,627.0 498.3,627.8 501.4,628.7 504.5,629.5 507.5,630.3 510.6,631.1 513.6,632.0 516.7,632.8 519.7,633.6 522.7,634.4 525.8,635.2 528.8,636.0 531.8,636.8 534.8,637.6 537.8,638.4 540.7,639.2 543.7,640.0 546.7,640.8 549.6,641.6 552.6,642.4 555.5,643.2 558.4,644.0 561.4,644.8 564.8,645.7 568.1,646.6 571.5,647.5 574.8,648.4 578.1,649.2 581.4,650.1 584.7,651.0 587.9,651.9 591.2,652.7 594.4,653.6 597.6,654.5 600.8,655.3 603.9,656.2 607.1,657.0 610.2,657.9 613.3,658.7 616.4,659.5 619.5,660.3 622.5,661.1 625.5,662.0 628.5,662.8 631.5,663.6 634.4,664.3 637.4,665.1 640.4,665.9 643.8,666.9 647.2,667.8 650.6,668.7 653.9,669.6 657.2,670.5 660.5,671.3 663.7,672.2 666.9,673.1 670.0,673.9 673.1,674.7 676.2,675.5 679.2,676.4 682.2,677.2 685.1,677.9 688.7,678.9 692.3,679.9 695.7,680.8 696.9,681.1" stroke="#eec8ff" stroke-width="3.8" fill="none"/>
<path d="M529.6,775.4 L526.4,773.6 523.3,771.8 520.7,770.3 518.0,768.7 515.3,767.2 512.5,765.6 509.7,763.9 506.8,762.3 503.9,760.6 501.0,758.9 498.0,757.2 495.0,755.4 491.9,753.7 489.0,752.0 486.4,750.5 483.8,749.0 481.1,747.4 478.4,745.9 475.7,744.3 473.0,742.7 470.2,741.1 467.4,739.5 464.6,737.9 461.8,736.3 458.9,734.6 456.0,733.0 453.1,731.3 450.2,729.6 447.3,727.9 444.3,726.2 441.4,724.5 438.4,722.8 435.4,721.0 432.6,719.4 430.0,717.9 427.3,716.4 424.7,714.9 422.1,713.3 419.4,711.8 416.7,710.3 414.1,708.7 411.4,707.2 408.7,705.6 406.0,704.1 403.3,702.5 400.6,700.9 397.8,699.4 395.1,697.8 392.3,696.2 389.6,694.6 386.8,693.0 384.1,691.4 381.3,689.8 378.5,688.2 375.7,686.6 372.9,685.0 370.1,683.4 367.3,681.7 364.5,680.1 361.7,678.5 358.9,676.9 356.1,675.2 353.2,673.6 350.4,672.0 347.6,670.3 344.7,668.7 341.9,667.1 339.1,665.4 336.2,663.8 333.4,662.2 330.5,660.5 327.7,658.9 324.9,657.2 322.0,655.6 319.2,653.9 316.3,652.3 313.5,650.7 310.6,649.0 307.8,647.4 305.0,645.7 302.1,644.1 299.3,642.5 296.5,640.8 293.6,639.2 290.8,637.6 288.0,635.9 285.2,634.3 282.3,632.7 279.5,631.1 276.7,629.4 273.9,627.8 271.1,626.2 268.3,624.6 265.5,623.0 262.8,621.4 260.0,619.8 257.2,618.2 254.5,616.6 251.7,615.0 249.0,613.4 246.3,611.9 243.5,610.3 240.8,608.7 238.1,607.1 235.4,605.6 232.7,604.0 230.0,602.5 227.4,601.0 224.7,599.4 222.1,597.9 219.4,596.4 216.8,594.9 214.2,593.3 211.6,591.8 208.6,590.1 205.6,588.4 202.6,586.6 199.6,584.9 196.7,583.2 193.8,581.5 190.8,579.9 188.0,578.2 185.1,576.5 182.3,574.9 179.4,573.3 176.6,571.7 173.9,570.1 171.1,568.5 168.4,566.9 165.7,565.3 163.0,563.8 160.3,562.3 157.7,560.7 155.1,559.2 152.0,557.5 149.0,555.7 146.0,554.0 143.0,552.2 140.1,550.6 137.2,548.9 134.4,547.3 131.6,545.6 129.3,544.3" stroke="#dfa3ff" stroke-width="3.8" fill="none"/>
<path d="M337.0,772.4 L334.6,770.0 332.4,767.7 330.2,765.5 327.9,763.2 325.6,760.8 323.2,758.4 320.8,755.9 318.3,753.4 315.8,750.9 313.7,748.7 311.5,746.5 309.3,744.3 307.1,742.1 304.8,739.8 302.6,737.5 300.2,735.1 297.9,732.8 295.6,730.4 293.2,728.0 290.8,725.6 288.3,723.1 285.9,720.7 283.5,718.3 281.4,716.1 279.2,713.9 277.1,711.8 274.9,709.6 272.7,707.4 270.5,705.2 268.3,703.0 266.1,700.8 263.9,698.5 261.6,696.3 259.4,694.0 257.1,691.8 254.9,689.5 252.6,687.2 250.3,684.9 248.0,682.6 245.7,680.3 243.4,678.0 241.1,675.7 238.8,673.4 236.5,671.1 234.2,668.8 231.9,666.5 229.6,664.1 227.2,661.8 224.9,659.5 222.6,657.2 220.3,654.8 217.9,652.5 215.6,650.2 213.3,647.9 211.0,645.5 208.6,643.2 206.3,640.9 204.0,638.6 201.7,636.3 199.4,634.0 197.1,631.7 194.8,629.4 192.5,627.1 190.2,624.8 187.9,622.5 185.6,620.3 183.4,618.0 181.1,615.8 178.8,613.5 176.6,611.3 174.4,609.1 172.1,606.8 169.9,604.6 167.7,602.4 165.5,600.3 163.4,598.1 161.2,596.0 159.0,593.8 156.8,591.6 154.4,589.2 151.9,586.7 149.5,584.3 147.1,581.9 144.7,579.5 142.3,577.2 139.9,574.9 137.6,572.6 135.3,570.3 133.1,568.1 130.8,565.8 128.6,563.7 126.4,561.5 124.2,559.3 121.6,556.8 119.1,554.3 116.7,551.9 114.3,549.5 111.9,547.2 111.5,546.8" stroke="#eec8ff" stroke-width="4.2" fill="none"/>
<path d="M102.8,539.6 L105.1,542.0 107.3,544.3 109.5,546.5 111.8,548.8 114.2,551.2 116.6,553.6 119.0,556.1 121.5,558.6 123.9,561.1 126.1,563.3 128.2,565.5 130.4,567.7 132.7,569.9 134.9,572.2 137.2,574.5 139.5,576.9 141.8,579.2 144.2,581.6 146.6,584.0 149.0,586.4 151.4,588.9 153.9,591.3 156.3,593.7 158.4,595.9 160.5,598.1 162.7,600.2 164.9,602.4 167.0,604.6 169.2,606.8 171.4,609.0 173.7,611.2 175.9,613.5 178.1,615.7 180.4,618.0 182.6,620.2 184.9,622.5 187.2,624.8 189.4,627.1 191.7,629.4 194.0,631.7 196.3,634.0 198.6,636.3 200.9,638.6 203.2,640.9 205.5,643.2 207.9,645.5 210.2,647.9 212.5,650.2 214.8,652.5 217.2,654.8 219.5,657.2 221.8,659.5 224.1,661.8 226.5,664.1 228.8,666.5 231.1,668.8 233.4,671.1 235.7,673.4 238.1,675.7 240.4,678.0 242.7,680.3 245.0,682.6 247.3,684.9 249.6,687.2 251.8,689.5 254.1,691.7 256.4,694.0 258.7,696.2 260.9,698.5 263.1,700.7 265.4,702.9 267.6,705.2 269.8,707.4 272.0,709.6 274.2,711.7 276.4,713.9 278.6,716.0 280.7,718.2 282.9,720.4 285.4,722.8 287.8,725.3 290.3,727.7 292.7,730.1 295.1,732.5 297.5,734.8 299.8,737.1 302.1,739.4 304.4,741.7 306.7,743.9 308.9,746.2 311.2,748.3 313.3,750.5 315.6,752.7 318.1,755.2 320.6,757.7 323.1,760.1 325.5,762.5 327.8,764.8 328.2,765.2" stroke="#eec8ff" stroke-width="4.2" fill="none"/>
<path d="M169.0,669.7 L167.3,666.6 165.8,663.9 164.2,661.2 162.7,658.4 161.1,655.6 159.5,652.7 157.8,649.7 156.1,646.7 154.6,644.0 153.0,641.4 151.5,638.7 150.0,636.0 148.4,633.2 146.9,630.5 145.3,627.7 143.7,624.9 142.1,622.1 140.4,619.3 138.8,616.4 137.2,613.6 135.5,610.7 133.9,607.9 132.2,605.0 130.6,602.1 128.9,599.3 127.3,596.4 125.6,593.6 124.0,590.7 122.3,587.9 120.7,585.1 119.1,582.3 117.5,579.5 115.9,576.8 114.3,574.0 112.7,571.3 111.1,568.6 109.6,566.0 108.0,563.4 106.4,560.6 104.7,557.6 103.0,554.7 101.3,551.9 99.6,549.1" stroke="#eec8ff" stroke-width="4.2" fill="none"/>
<path d="M92.7,540.0 L94.4,543.1 95.9,545.8 97.5,548.5 99.0,551.3 100.6,554.1 102.3,557.0 103.9,560.0 105.7,563.0 107.1,565.6 108.7,568.3 110.2,571.0 111.7,573.7 113.3,576.4 114.9,579.2 116.4,582.0 118.1,584.8 119.7,587.6 121.3,590.4 122.9,593.2 124.6,596.1 126.2,598.9 127.8,601.8 129.5,604.7 131.1,607.5 132.8,610.4 134.5,613.3 136.1,616.1 137.7,618.9 139.4,621.8 141.0,624.6 142.6,627.4 144.2,630.1 145.9,632.9 147.4,635.6 149.0,638.3 150.6,641.0 152.1,643.7 153.7,646.3 155.3,649.1 157.1,652.1 158.8,655.0 160.4,657.8 161.8,660.1" stroke="#eec8ff" stroke-width="4.2" fill="none"/>
<path d="M602.8,775.3 L605.7,773.6 608.6,771.9 611.5,770.2 614.3,768.6 617.0,767.1 619.6,765.6 622.3,764.0 625.0,762.4 627.7,760.9 630.5,759.3 633.3,757.7 636.1,756.0 638.9,754.4 641.7,752.8 644.5,751.1 647.4,749.5 650.2,747.9 653.1,746.2 656.0,744.5 658.8,742.9 661.7,741.2 664.5,739.6 667.3,738.0 670.2,736.3 673.0,734.7 675.8,733.1 678.6,731.5 681.4,729.9 684.1,728.3 686.8,726.7 689.5,725.2 692.2,723.6 694.8,722.1 697.5,720.5 698.0,720.3" stroke="#eec8ff" stroke-width="3.8" fill="none"/>
<path d="M529.5,795.6 L526.3,795.6 523.1,795.5 519.8,795.5 516.4,795.5 513.0,795.4 509.8,795.4 506.8,795.4 503.7,795.4 500.6,795.4 497.4,795.3 494.3,795.3 491.1,795.3 487.8,795.3 484.6,795.3 481.4,795.3 478.1,795.3 474.8,795.3 471.5,795.3 468.2,795.3 464.9,795.3 461.6,795.3 458.3,795.3 455.0,795.3 451.7,795.3 448.4,795.3 445.1,795.3 441.9,795.3 438.7,795.3 435.4,795.3 432.2,795.3 429.1,795.3 425.9,795.4 422.8,795.4 419.7,795.4 416.7,795.4 413.5,795.4 410.1,795.5 407.8,795.5" stroke="#e8bcff" stroke-width="4.7" fill="none"/>
<path d="M397.0,797.4 L400.2,797.4 403.4,797.5 406.7,797.5 410.1,797.5 413.5,797.6 416.7,797.6 419.7,797.6 422.8,797.6 425.9,797.6 429.1,797.7 432.2,797.7 435.4,797.7 438.7,797.7 441.9,797.7 445.1,797.7 448.4,797.7 451.7,797.7 455.0,797.7 458.3,797.7 461.6,797.7 464.9,797.7 468.2,797.7 471.5,797.7 474.8,797.7 478.1,797.7 481.4,797.7 484.6,797.7 487.8,797.7 491.1,797.7 494.3,797.7 497.4,797.7 500.6,797.6 503.7,797.6 506.8,797.6 509.8,797.6 513.0,797.6 516.4,797.5 518.7,797.5" stroke="#eec8ff" stroke-width="4.7" fill="none"/>
<path d="M366.8,53.6 L367.7,56.9 368.7,60.4 369.6,63.9 370.4,66.9 371.2,69.9 372.0,73.1 372.9,76.2 373.8,79.5 374.6,82.8 375.6,86.2 376.5,89.7 377.3,92.7 378.1,95.6 378.9,98.6 379.7,101.7 380.5,104.8 381.4,107.9 382.2,111.0 383.1,114.2 383.9,117.4 384.8,120.7 385.7,124.0 386.5,127.3 387.4,130.6 388.3,134.0 389.1,137.0 389.9,139.9 390.7,142.9 391.5,145.8 392.3,148.8 393.1,151.8 393.9,154.8 394.7,157.8 395.5,160.9 396.4,163.9 397.2,167.0 398.0,170.1 398.8,173.2 399.7,176.3 400.5,179.4 401.3,182.5 402.2,185.6 403.0,188.8 403.8,191.9 404.7,195.0 405.5,198.2 406.4,201.4 407.2,204.5 408.1,207.7 408.9,210.9 409.8,214.0 410.6,217.2 411.5,220.4 412.3,223.5 413.2,226.7 414.0,229.9 414.9,233.1 415.7,236.2 416.5,239.4 417.4,242.6 418.2,245.7 419.1,248.9 419.9,252.0 420.8,255.1 421.6,258.3 422.4,261.4 423.3,264.5 424.1,267.6 424.9,270.7 425.8,273.8 426.6,276.9 427.4,279.9 428.2,283.0 429.0,286.0 429.8,289.0 430.6,292.0 431.4,295.0 432.2,298.0 433.0,300.9 433.8,303.8 434.6,306.8 435.5,310.1 436.4,313.4 437.2,316.7 438.1,320.0 439.0,323.3 439.9,326.5 440.7,329.7 441.6,332.9 442.4,336.0 443.2,339.1 444.0,342.1 444.9,345.2 445.6,348.1 446.4,351.1 447.3,354.5 448.3,357.9 449.1,361.2 450.0,364.5 450.9,367.7 451.7,370.8 452.5,373.9 453.3,376.9 453.6,377.9" stroke="#b3bbff" stroke-width="3.5" fill="none"/>
<path d="M559.4,53.6 L558.5,56.9 557.6,60.4 556.7,63.9 555.9,66.9 555.0,69.9 554.2,73.1 553.4,76.2 552.5,79.5 551.6,82.8 550.7,86.2 549.7,89.7 548.9,92.7 548.1,95.6 547.3,98.6 546.5,101.7 545.7,104.8 544.8,107.9 544.0,111.0 543.1,114.2 542.3,117.4 541.4,120.7 540.5,124.0 539.6,127.3 538.7,130.6 537.8,134.0 537.0,137.0 536.2,139.9 535.4,142.9 534.6,145.8 533.8,148.8 533.0,151.8 532.2,154.8 531.4,157.8 530.6,160.9 529.8,163.9 528.9,167.0 528.1,170.1 527.3,173.2 526.5,176.3 525.6,179.4 524.8,182.5 523.9,185.6 523.1,188.8 522.3,191.9 521.4,195.0 520.6,198.2 519.7,201.4 518.9,204.5 518.0,207.7 517.2,210.9 516.3,214.0 515.4,217.2 514.6,220.4 513.7,223.5 512.9,226.7 512.0,229.9 511.2,233.1 510.3,236.2 509.5,239.4 508.6,242.6 507.8,245.7 506.9,248.9 506.1,252.0 505.2,255.1 504.4,258.3 503.6,261.4 502.7,264.5 501.9,267.6 501.1,270.7 500.2,273.8 499.4,276.9 498.6,279.9 497.8,283.0 496.9,286.0 496.1,289.0 495.3,292.0 494.5,295.0 493.7,298.0 492.9,300.9 492.1,303.8 491.4,306.8 490.5,310.1 489.6,313.4 488.7,316.7 487.8,320.0 486.9,323.3 486.1,326.5 485.2,329.7 484.3,332.9 483.5,336.0 482.7,339.1 481.8,342.1 481.0,345.2 480.2,348.1 479.4,351.1 478.5,354.5 477.6,357.9 476.7,361.2 475.8,364.5 475.0,367.7 474.1,370.8 473.3,373.9 472.5,376.9 472.2,377.9" stroke="#9ba6fa" stroke-width="3.8" fill="none"/>
<path d="M206.4,156.2 L208.7,158.5 210.9,160.7 213.2,162.9 215.5,165.3 217.8,167.6 220.2,170.0 222.7,172.5 225.2,175.0 227.6,177.4 229.8,179.5 231.9,181.7 234.2,183.9 236.4,186.2 238.7,188.4 241.0,190.7 243.3,193.1 245.6,195.4 248.0,197.8 250.4,200.2 252.8,202.6 255.2,205.0 257.7,207.5 260.0,209.8 262.2,212.0 264.3,214.1 266.5,216.3 268.7,218.4 270.9,220.6 273.1,222.8 275.3,225.0 277.5,227.3 279.7,229.5 282.0,231.7 284.2,234.0 286.5,236.2 288.7,238.5 291.0,240.8 293.3,243.0 295.6,245.3 297.9,247.6 300.2,249.9 302.5,252.2 304.8,254.5 307.1,256.8 309.4,259.2 311.7,261.5 314.0,263.8 316.4,266.1 318.7,268.4 321.0,270.8 323.3,273.1 325.6,275.4 328.0,277.7 330.3,280.0 332.6,282.4 334.9,284.7 337.2,287.0 339.6,289.3 341.9,291.6 344.2,293.9 346.5,296.2 348.8,298.5 351.1,300.8 353.3,303.1 355.6,305.3 357.9,307.6 360.1,309.9 362.4,312.1 364.6,314.4 366.9,316.6 369.1,318.8 371.3,321.0 373.5,323.2 375.7,325.4 377.9,327.6 380.0,329.8 382.2,331.9 384.3,334.1 386.6,336.3 389.1,338.8 391.5,341.2 393.9,343.6 396.3,346.0 398.7,348.4 401.0,350.8 403.4,353.1 405.7,355.4 408.0,357.7 410.2,359.9 412.4,362.1 414.6,364.3 416.8,366.5 419.1,368.8 421.6,371.3 424.1,373.8 426.5,376.2 428.9,378.6 431.2,380.9" stroke="#b3bbff" stroke-width="3.5" fill="none"/>
<path d="M153.4,329.9 L156.5,330.7 159.6,331.6 162.8,332.4 166.0,333.3 169.2,334.1 172.5,335.0 175.8,335.9 179.1,336.8 182.5,337.7 185.7,338.5 188.6,339.3 191.5,340.1 194.5,340.9 197.5,341.7 200.5,342.5 203.5,343.3 206.5,344.1 209.5,344.9 212.6,345.7 215.6,346.5 218.7,347.3 221.8,348.2 224.9,349.0 228.0,349.8 231.1,350.7 234.2,351.5 237.4,352.3 240.5,353.2 243.7,354.0 246.8,354.9 250.0,355.7 253.1,356.5 256.3,357.4 259.5,358.2 262.6,359.1 265.8,359.9 269.0,360.8 272.2,361.6 275.3,362.5 278.5,363.3 281.7,364.2 284.9,365.0 288.0,365.9 291.2,366.7 294.3,367.6 297.5,368.4 300.6,369.2 303.8,370.1 306.9,370.9 310.1,371.8 313.2,372.6 316.3,373.4 319.4,374.3 322.5,375.1 325.5,375.9 328.6,376.7 331.7,377.5 334.7,378.3 337.7,379.2 340.7,380.0 343.7,380.8 346.7,381.6 349.7,382.3 352.6,383.1 355.5,383.9 358.6,384.7 362.0,385.6 365.3,386.5 368.6,387.4 371.9,388.3 375.2,389.2 378.4,390.0 381.5,390.9 384.7,391.7 387.8,392.5 390.9,393.4 393.9,394.2 396.9,395.0 399.9,395.8 403.0,396.6 406.4,397.5 409.8,398.4 413.1,399.3 415.8,400.0" stroke="#9ba6fa" stroke-width="4.2" fill="none"/>
<path d="M135.2,500.5 L138.7,499.6 141.9,498.7 144.8,497.9 147.8,497.1 150.8,496.3 153.9,495.5 157.0,494.7 160.2,493.8 163.3,493.0 166.5,492.1 169.8,491.2 173.1,490.4 176.4,489.5 179.7,488.6 183.1,487.7 186.2,486.8 189.1,486.0 192.1,485.3 195.0,484.5 198.0,483.7 201.0,482.9 204.0,482.1 207.0,481.2 210.1,480.4 213.1,479.6 216.2,478.8 219.2,478.0 222.3,477.1 225.4,476.3 228.5,475.5 231.7,474.6 234.8,473.8 237.9,473.0 241.1,472.1 244.2,471.3 247.4,470.4 250.5,469.6 253.7,468.7 256.8,467.9 260.0,467.0 263.2,466.2 266.4,465.3 269.5,464.5 272.7,463.6 275.9,462.8 279.1,461.9 282.2,461.1 285.4,460.2 288.6,459.4 291.7,458.5 294.9,457.7 298.0,456.8 301.2,456.0 304.3,455.1 307.5,454.3 310.6,453.5 313.7,452.6 316.8,451.8 319.9,451.0 323.0,450.1 326.1,449.3 329.1,448.5 332.2,447.7 335.2,446.9 338.2,446.0 341.3,445.2 344.2,444.4 347.2,443.6 350.2,442.8 353.1,442.1 356.0,441.3 359.2,440.4 362.6,439.5 365.9,438.6 369.2,437.7 372.5,436.9 375.7,436.0 378.9,435.1 382.1,434.3 385.2,433.4 388.3,432.6 391.4,431.8 394.4,431.0 397.4,430.2 400.4,429.4 403.6,428.5 407.0,427.6 410.4,426.7 413.7,425.8 415.8,425.2" stroke="#a6b0fb" stroke-width="3.8" fill="none"/>
<path d="M206.3,669.5 L208.6,667.2 210.8,665.0 213.1,662.7 215.4,660.4 217.7,658.0 220.1,655.6 222.6,653.2 225.1,650.6 227.5,648.2 229.7,646.1 231.9,643.9 234.1,641.7 236.3,639.4 238.6,637.2 240.9,634.9 243.2,632.5 245.5,630.2 247.9,627.8 250.3,625.4 252.7,623.0 255.2,620.6 257.6,618.1 260.0,615.7 262.1,613.6 264.3,611.5 266.4,609.3 268.6,607.1 270.8,604.9 273.0,602.7 275.2,600.5 277.4,598.3 279.7,596.0 281.9,593.8 284.1,591.5 286.4,589.3 288.7,587.0 290.9,584.7 293.2,582.5 295.5,580.2 297.8,577.9 300.1,575.6 302.4,573.3 304.7,571.0 307.0,568.6 309.3,566.3 311.7,564.0 314.0,561.7 316.3,559.4 318.6,557.0 321.0,554.7 323.3,552.4 325.6,550.0 327.9,547.7 330.2,545.4 332.6,543.1 334.9,540.8 337.2,538.4 339.5,536.1 341.8,533.8 344.1,531.5 346.4,529.2 348.7,526.9 351.0,524.6 353.3,522.3 355.6,520.0 357.8,517.8 360.1,515.5 362.4,513.3 364.6,511.0 366.8,508.8 369.1,506.5 371.3,504.3 373.5,502.1 375.7,499.9 377.9,497.7 380.0,495.6 382.2,493.4 384.3,491.3 386.6,489.0 389.0,486.6 391.5,484.1 393.9,481.7 396.3,479.3 398.7,476.9 401.0,474.5 403.4,472.2 405.7,469.9 407.9,467.6 410.2,465.4 412.4,463.1 414.6,461.0 416.8,458.8 419.0,456.5 421.6,454.0 424.0,451.5 426.5,449.1 428.8,446.7 431.2,444.4 431.5,444.0" stroke="#b3bbff" stroke-width="3.5" fill="none"/>
<path d="M366.9,772.1 L367.8,768.7 368.7,765.2 369.7,761.7 370.5,758.8 371.3,755.7 372.1,752.6 373.0,749.4 373.8,746.1 374.7,742.8 375.6,739.4 376.6,736.0 377.4,732.9 378.2,730.0 379.0,727.0 379.8,723.9 380.6,720.8 381.4,717.7 382.3,714.6 383.1,711.4 384.0,708.1 384.9,704.9 385.7,701.6 386.6,698.3 387.5,694.9 388.4,691.6 389.2,688.6 390.0,685.6 390.8,682.7 391.6,679.7 392.4,676.7 393.2,673.7 394.0,670.7 394.8,667.7 395.6,664.7 396.4,661.6 397.2,658.5 398.1,655.4 398.9,652.4 399.7,649.2 400.5,646.1 401.4,643.0 402.2,639.9 403.1,636.7 403.9,633.6 404.7,630.4 405.6,627.3 406.4,624.1 407.3,621.0 408.1,617.8 409.0,614.6 409.8,611.4 410.7,608.3 411.5,605.1 412.4,601.9 413.2,598.7 414.1,595.5 414.9,592.4 415.7,589.2 416.6,586.0 417.4,582.9 418.3,579.7 419.1,576.6 420.0,573.4 420.8,570.3 421.6,567.1 422.5,564.0 423.3,560.9 424.1,557.8 425.0,554.7 425.8,551.6 426.6,548.5 427.4,545.5 428.2,542.4 429.1,539.4 429.9,536.4 430.7,533.4 431.5,530.4 432.3,527.4 433.0,524.4 433.8,521.5 434.6,518.6 435.5,515.3 436.4,511.9 437.3,508.6 438.1,505.3 439.0,502.0 439.9,498.8 440.7,495.6 441.6,492.4 442.4,489.3 443.2,486.2 444.1,483.1 444.9,480.1 445.7,477.1 446.5,474.2 447.4,470.8 448.3,467.4 449.2,464.1 450.0,460.8 450.9,457.6 451.7,454.4 452.6,451.3 453.4,448.3 453.6,447.4" stroke="#b3bbff" stroke-width="3.5" fill="none"/>
<path d="M559.5,772.1 L558.6,768.7 557.7,765.2 556.8,761.7 556.0,758.8 555.1,755.7 554.3,752.6 553.4,749.4 552.6,746.1 551.7,742.8 550.8,739.4 549.8,736.0 549.0,732.9 548.2,730.0 547.4,727.0 546.6,723.9 545.8,720.8 544.9,717.7 544.1,714.6 543.2,711.4 542.3,708.1 541.5,704.9 540.6,701.6 539.7,698.3 538.8,694.9 537.9,691.6 537.1,688.6 536.3,685.6 535.5,682.7 534.7,679.7 533.9,676.7 533.1,673.7 532.3,670.7 531.5,667.7 530.7,664.7 529.8,661.6 529.0,658.5 528.2,655.4 527.4,652.4 526.5,649.2 525.7,646.1 524.8,643.0 524.0,639.9 523.2,636.7 522.3,633.6 521.5,630.4 520.6,627.3 519.8,624.1 518.9,621.0 518.1,617.8 517.2,614.6 516.4,611.4 515.5,608.3 514.6,605.1 513.8,601.9 512.9,598.7 512.1,595.5 511.2,592.4 510.4,589.2 509.5,586.0 508.7,582.9 507.8,579.7 507.0,576.6 506.1,573.4 505.3,570.3 504.4,567.1 503.6,564.0 502.8,560.9 501.9,557.8 501.1,554.7 500.3,551.6 499.4,548.5 498.6,545.5 497.8,542.4 497.0,539.4 496.2,536.4 495.4,533.4 494.6,530.4 493.8,527.4 493.0,524.4 492.2,521.5 491.4,518.6 490.5,515.3 489.6,511.9 488.7,508.6 487.8,505.3 486.9,502.0 486.1,498.8 485.2,495.6 484.4,492.4 483.5,489.3 482.7,486.2 481.9,483.1 481.1,480.1 480.3,477.1 479.5,474.2 478.6,470.8 477.6,467.4 476.7,464.1 475.9,460.8 475.0,457.6 474.1,454.4 473.3,451.3 472.5,448.3 472.2,447.4" stroke="#6676ff" stroke-width="4.0" fill="none"/>
<path d="M719.7,669.5 L717.4,667.2 715.2,665.0 712.9,662.7 710.6,660.4 708.2,658.0 705.8,655.6 703.4,653.2 700.9,650.6 698.4,648.2 696.3,646.1 694.1,643.9 691.9,641.7 689.6,639.4 687.4,637.2 685.1,634.9 682.8,632.5 680.4,630.2 678.0,627.8 675.6,625.4 673.2,623.0 670.8,620.6 668.3,618.1 666.0,615.7 663.8,613.6 661.7,611.5 659.5,609.3 657.3,607.1 655.1,604.9 652.9,602.7 650.7,600.5 648.5,598.3 646.3,596.0 644.0,593.8 641.8,591.5 639.5,589.3 637.3,587.0 635.0,584.7 632.7,582.5 630.4,580.2 628.1,577.9 625.8,575.6 623.5,573.3 621.2,571.0 618.9,568.6 616.6,566.3 614.2,564.0 611.9,561.7 609.6,559.4 607.3,557.0 605.0,554.7 602.6,552.4 600.3,550.0 598.0,547.7 595.6,545.4 593.3,543.1 591.0,540.8 588.7,538.4 586.4,536.1 584.1,533.8 581.8,531.5 579.5,529.2 577.2,526.9 574.9,524.6 572.6,522.3 570.3,520.0 568.0,517.8 565.8,515.5 563.5,513.3 561.3,511.0 559.0,508.8 556.8,506.5 554.6,504.3 552.4,502.1 550.2,499.9 548.0,497.7 545.8,495.6 543.7,493.4 541.5,491.3 539.3,489.0 536.8,486.6 534.4,484.1 532.0,481.7 529.6,479.3 527.2,476.9 524.8,474.5 522.5,472.2 520.2,469.9 517.9,467.6 515.7,465.4 513.4,463.1 511.2,461.0 509.1,458.8 506.8,456.5 504.3,454.0 501.8,451.5 499.4,449.1 497.0,446.7 494.7,444.4 494.3,444.0" stroke="#b3bbff" stroke-width="3.5" fill="none"/>
<path d="M810.0,505.7 L806.9,504.8 803.8,504.0 800.7,503.2 797.4,502.3 794.1,501.4 790.8,500.5 787.3,499.6 784.1,498.7 781.2,497.9 778.2,497.1 775.2,496.3 772.1,495.5 769.0,494.7 765.8,493.8 762.7,493.0 759.4,492.1 756.2,491.2 752.9,490.4 749.6,489.5 746.3,488.6 742.9,487.7 739.8,486.8 736.9,486.0 733.9,485.3 731.0,484.5 728.0,483.7 725.0,482.9 722.0,482.1 718.9,481.2 715.9,480.4 712.9,479.6 709.8,478.8 706.7,478.0 703.6,477.1 700.5,476.3 697.4,475.5 694.3,474.6 691.2,473.8 688.0,473.0 684.9,472.1 681.7,471.3 678.6,470.4 675.4,469.6 672.3,468.7 669.1,467.9 665.9,467.0 662.7,466.2 659.6,465.3 656.4,464.5 653.2,463.6 650.0,462.8 646.9,461.9 643.7,461.1 640.5,460.2 637.3,459.4 634.2,458.5 631.0,457.7 627.9,456.8 624.7,456.0 621.6,455.1 618.4,454.3 615.3,453.5 612.2,452.6 609.1,451.8 606.0,451.0 602.9,450.1 599.8,449.3 596.7,448.5 593.7,447.7 590.7,446.9 587.6,446.0 584.6,445.2 581.6,444.4 578.6,443.6 575.7,442.8 572.7,442.1 569.8,441.3 566.7,440.4 563.3,439.5 560.0,438.6 556.7,437.7 553.4,436.9 550.2,436.0 546.9,435.1 543.8,434.3 540.6,433.4 537.5,432.6 534.4,431.8 531.4,431.0 528.4,430.2 525.5,429.4 522.3,428.5 518.8,427.6 515.5,426.7 512.2,425.8 510.0,425.2" stroke="#b3bbff" stroke-width="3.5" fill="none"/>
<path d="M487.1,388.4 L489.4,386.1 491.6,383.9 493.9,381.7 496.2,379.3 498.6,377.0 501.0,374.6 503.5,372.1 506.0,369.6 508.4,367.2 510.5,365.1 512.7,362.9 514.9,360.7 517.2,358.4 519.5,356.2 521.8,353.9 524.1,351.5 526.4,349.2 528.8,346.8 531.2,344.4 533.6,342.0 536.0,339.6 538.5,337.1 540.9,334.8 543.0,332.6 545.2,330.5 547.3,328.3 549.5,326.2 551.7,324.0 553.9,321.8 556.1,319.6 558.3,317.3 560.6,315.1 562.8,312.9 565.1,310.6 567.3,308.4 569.6,306.1 571.9,303.8 574.2,301.6 576.5,299.3 578.7,297.0 581.1,294.7 583.4,292.4 585.7,290.1 588.0,287.8 590.3,285.4 592.6,283.1 594.9,280.8 597.3,278.5 599.6,276.2 601.9,273.8 604.3,271.5 606.6,269.2 608.9,266.9 611.2,264.6 613.6,262.2 615.9,259.9 618.2,257.6 620.5,255.3 622.8,253.0 625.1,250.7 627.4,248.4 629.7,246.1 632.0,243.8 634.3,241.5 636.6,239.3 638.9,237.0 641.1,234.7 643.4,232.5 645.6,230.2 647.9,228.0 650.1,225.8 652.3,223.6 654.5,221.4 656.7,219.2 658.9,217.0 661.1,214.8 663.2,212.7 665.4,210.5 667.6,208.3 670.1,205.8 672.5,203.4 675.0,201.0 677.4,198.6 679.7,196.2 682.1,193.8 684.4,191.5 686.7,189.2 689.0,186.9 691.3,184.7 693.5,182.5 695.7,180.3 697.9,178.1 700.1,175.8 702.7,173.3 705.1,170.8 707.6,168.4 709.9,166.0 712.3,163.7" stroke="#ffbfbf" stroke-width="4.2" fill="none"/>
<path d="M499.1,402.9 L502.1,402.1 505.2,401.3 508.4,400.4 511.6,399.6 514.9,398.7 518.3,397.8 521.7,396.9 525.0,396.0 527.9,395.2 530.9,394.4 533.9,393.6 537.0,392.8 540.1,391.9 543.2,391.1 546.4,390.3 549.6,389.4 552.9,388.5 556.1,387.7 559.4,386.8 562.8,385.9 566.1,385.0 569.3,384.1 572.3,383.3 575.2,382.6 578.2,381.8 581.1,381.0 584.1,380.2 587.1,379.4 590.2,378.5 593.2,377.7 596.2,376.9 599.3,376.1 602.4,375.3 605.5,374.5 608.6,373.6 611.7,372.8 614.8,372.0 617.9,371.1 621.0,370.3 624.2,369.4 627.3,368.6 630.5,367.8 633.7,366.9 636.8,366.1 640.0,365.2 643.2,364.4 646.3,363.5 649.5,362.7 652.7,361.8 655.9,361.0 659.0,360.1 662.2,359.3 665.4,358.4 668.6,357.6 671.7,356.7 674.9,355.9 678.1,355.0 681.2,354.2 684.4,353.3 687.5,352.5 690.6,351.7 693.8,350.8 696.9,350.0 700.0,349.2 703.1,348.3 706.2,347.5 709.3,346.7 712.3,345.9 715.4,345.0 718.4,344.2 721.5,343.4 724.5,342.6 727.5,341.8 730.5,341.0 733.4,340.2 736.4,339.4 739.3,338.6 742.4,337.8 745.7,336.9 749.1,336.0 751.3,335.4" stroke="#ffbfbf" stroke-width="4.2" fill="none"/>
<path d="M133.5,334.2 L136.4,335.4 139.4,336.7 142.3,337.9 145.3,339.2 148.4,340.5 151.5,341.7 154.6,343.0 157.7,344.4 160.9,345.7 163.7,346.8 166.6,348.0 169.5,349.2 172.5,350.4 175.5,351.7 178.7,352.9 181.8,354.2 184.6,355.3 187.5,356.5 190.5,357.7 193.6,358.9 196.7,360.1 199.6,361.2 202.4,362.3 205.4,363.5 208.4,364.6 211.4,365.7 214.2,366.8 217.1,367.9 220.0,369.0 223.1,370.1 226.1,371.3 229.0,372.4 231.9,373.4 234.7,374.5 237.6,375.5 240.5,376.6 243.5,377.7 246.5,378.9 249.5,379.9 252.3,381.0 255.3,382.1 258.2,383.2 261.2,384.3 264.2,385.4 267.2,386.5 270.1,387.5 272.9,388.5 275.8,389.6 278.7,390.6 281.6,391.7 284.5,392.8 287.4,393.8 290.4,394.9 293.3,395.9 296.2,397.0 299.2,398.0 302.1,399.1 305.0,400.2 307.9,401.2 310.9,402.2 313.8,403.3 316.7,404.3 319.5,405.4 322.4,406.4 325.3,407.4 328.1,408.4 331.1,409.5 334.1,410.5 337.1,411.6 340.0,412.6 342.9,413.6 345.8,414.6 348.7,415.7 351.8,416.7 354.7,417.7 357.6,418.8 360.6,419.8 363.7,420.8 366.6,421.8 369.5,422.8 372.6,423.9 375.6,424.9 378.6,425.9 381.5,426.9 384.4,427.9 387.4,428.9 390.5,429.9 393.6,430.9 396.5,431.9 399.4,432.9 402.3,433.8 405.4,434.9 408.6,435.9 411.7,436.9 414.7,437.8 417.7,438.8 420.6,439.7 423.6,440.6 426.5,441.5 429.7,442.5 433.0,443.5 436.2,444.5 439.4,445.4 442.6,446.4 445.9,447.3 449.1,448.2 452.3,449.1 455.6,450.0 458.8,450.9 462.0,451.7 464.9,452.5 467.8,453.2 470.8,454.0 473.8,454.8 477.1,455.6 480.3,456.3 483.5,457.1 486.7,457.8 489.8,458.4 492.9,459.1 496.0,459.8 499.1,460.4 502.2,461.0 505.2,461.6 508.3,462.2 511.4,462.7 514.5,463.3 517.5,463.9 520.7,464.4 523.8,465.0 527.0,465.6 530.2,466.1 533.5,466.7 536.8,467.3 540.0,467.9 542.9,468.4 546.0,469.0 549.1,469.5 552.2,470.1 555.4,470.7 558.6,471.3 561.9,471.9 565.1,472.5 568.1,473.1 571.0,473.7 574.0,474.3 577.0,474.8 580.0,475.4 583.1,476.0 586.1,476.6 589.2,477.2 592.3,477.8 595.4,478.4 598.5,479.0 601.7,479.7 604.9,480.3 608.1,480.9 611.3,481.5 614.6,482.1 617.6,482.7 620.6,483.3 623.6,483.8 626.6,484.4 629.7,485.0 632.8,485.5 635.9,486.1 639.1,486.7 642.2,487.2 645.4,487.8 648.4,488.3 651.4,488.8 654.4,489.4 657.4,489.9 660.5,490.4 663.6,490.9 666.7,491.4 669.8,491.9 673.0,492.4 676.2,492.9 679.5,493.4 682.6,493.9 685.7,494.4 688.7,494.8 691.8,495.3 694.8,495.7 697.8,496.1 700.8,496.5 703.9,497.0 707.0,497.4 710.0,497.8 713.1,498.3 716.1,498.7 719.2,499.1 722.3,499.5 725.5,499.9 728.7,500.4 731.8,500.8 734.8,501.2 737.8,501.6 740.8,502.0 743.9,502.4 747.0,502.8 750.0,503.2 753.1,503.6 756.1,504.0 759.2,504.4 762.3,504.8 765.3,505.2 768.3,505.5 771.4,505.9 774.4,506.3 777.4,506.7 780.4,507.1 783.6,507.5 786.7,507.9 789.8,508.3 792.8,508.7 795.9,509.1 799.1,509.5" stroke="#dfa3ff" stroke-width="3.8" fill="none"/>
<path d="M133.5,491.3 L136.4,490.1 139.4,488.8 142.3,487.6 145.3,486.3 148.4,485.1 151.4,483.8 154.6,482.5 157.7,481.2 160.9,479.9 163.7,478.7 166.6,477.5 169.5,476.3 172.5,475.1 175.5,473.9 178.7,472.6 181.8,471.4 184.6,470.2 187.5,469.1 190.5,467.9 193.6,466.7 196.7,465.5 199.6,464.4 202.4,463.2 205.4,462.1 208.4,460.9 211.4,459.8 214.2,458.7 217.1,457.6 220.0,456.5 223.1,455.3 226.1,454.2 229.0,453.1 231.9,452.0 234.7,450.9 237.6,449.8 240.5,448.7 243.5,447.6 246.5,446.4 249.5,445.3 252.3,444.2 255.3,443.1 258.2,442.0 261.2,440.9 264.2,439.7 267.2,438.6 270.1,437.5 272.9,436.5 275.8,435.4 278.7,434.3 281.6,433.2 284.5,432.1 287.4,431.0 290.4,430.0 293.3,428.9 296.2,427.8 299.2,426.7 302.1,425.6 305.0,424.5 307.9,423.4 310.9,422.4 313.8,421.3 316.7,420.3 319.5,419.2 322.4,418.2 325.3,417.1 328.1,416.1 331.1,415.0 334.1,413.9 337.1,412.9 340.0,411.8 342.9,410.8 345.8,409.8 348.7,408.8 351.8,407.7 354.7,406.7 357.6,405.7 360.6,404.7 363.7,403.6 366.6,402.6 369.5,401.7 372.6,400.7 375.6,399.7 378.6,398.7 381.5,397.8 384.4,396.9 387.4,395.9 390.5,395.0 393.6,394.1 396.5,393.2 399.6,392.3 402.8,391.4 406.0,390.5 409.1,389.6 412.2,388.8 415.2,388.0 418.2,387.2 421.1,386.4 424.2,385.6 427.5,384.7 430.8,383.9 434.0,383.1 437.3,382.3 440.5,381.5 443.7,380.7 446.9,379.9 450.2,379.1 453.4,378.3 456.6,377.5 459.9,376.7 463.2,375.9 466.3,375.1 469.3,374.4 472.2,373.6 475.5,372.8 478.7,372.0 481.9,371.2 485.1,370.4 488.3,369.6 491.4,368.8 494.5,368.1 497.6,367.3 500.6,366.6 503.7,365.8 506.8,365.1 509.8,364.4 512.9,363.6 516.0,362.9 519.1,362.2 522.2,361.5 525.4,360.8 528.6,360.0 531.8,359.3 535.1,358.6 538.4,357.9 541.5,357.2 544.5,356.6 547.5,356.0 550.6,355.3 553.8,354.7 557.0,354.0 560.3,353.4 563.6,352.7 566.6,352.1 569.5,351.6 572.5,351.0 575.5,350.4 578.5,349.8 581.5,349.2 584.6,348.7 587.6,348.1 590.7,347.5 593.8,346.9 597.0,346.4 600.1,345.8 603.3,345.2 606.5,344.6 609.7,344.1 612.9,343.5 616.1,342.9 619.1,342.4 622.1,341.9 625.1,341.4 628.2,340.8 631.2,340.3 634.3,339.8 637.5,339.3 640.6,338.7 643.8,338.2 647.0,337.7 649.9,337.2 652.9,336.7 655.9,336.3 659.0,335.8 662.0,335.3 665.1,334.8 668.3,334.3 671.4,333.8 674.6,333.3 677.8,332.8 681.0,332.3 684.1,331.9 687.2,331.4 690.3,331.0 693.3,330.5 696.3,330.1 699.3,329.7 702.4,329.2 705.5,328.8 708.5,328.4 711.5,327.9 714.6,327.5 717.7,327.1 720.8,326.6 723.8,326.2 726.8,325.8 729.8,325.4 732.8,325.0 735.8,324.6 738.8,324.2 741.9,323.8 744.9,323.4 748.0,322.9 749.5,322.7" stroke="#e8b8ff" stroke-width="3.8" fill="none"/>
<path d="M233.6,132.0 L236.7,132.0 239.8,132.0 243.0,132.0 246.2,132.0 249.5,132.0 252.9,132.0 256.2,132.0 259.7,132.0 263.1,132.0 266.7,132.0 270.1,132.0 273.2,132.0 276.2,132.0 279.3,132.0 282.4,132.0 285.5,132.0 288.6,132.0 291.8,132.0 295.0,132.0 298.3,132.0 301.5,132.0 304.8,132.0 308.1,132.0 311.5,132.0 314.8,132.0 318.2,132.0 321.6,132.0 325.0,132.0 328.5,132.0 331.9,132.0 335.3,132.0 338.3,132.0 341.4,132.0 344.4,132.0 347.4,132.0 350.5,132.0 353.6,132.0 356.7,132.0 359.7,132.0 362.9,132.0 366.0,132.0 369.1,132.0 372.2,132.0 375.4,132.0 378.5,132.0 381.7,132.0 384.9,132.0 388.1,132.0 391.3,132.0 394.5,132.0 397.7,132.0 400.9,132.0 404.1,132.0 407.3,132.0 410.6,132.0 413.8,132.0 417.0,132.0 420.3,132.0 423.6,132.0 426.8,132.0 430.1,132.0 433.3,132.0 436.6,132.0 439.9,132.0 443.2,132.0 446.4,132.0 449.7,132.0 453.0,132.0 456.3,132.0 459.6,132.0 462.9,132.0 466.1,132.0 469.4,132.0 472.7,132.0 476.0,132.0 479.3,132.0 482.5,132.0 485.8,132.0 489.1,132.0 492.4,132.0 495.6,132.0 498.9,132.0 502.2,132.0 505.4,132.0 508.7,132.0 511.9,132.0 515.1,132.0 518.4,132.0 521.6,132.0 524.8,132.0 528.1,132.0 531.3,132.0 534.5,132.0 537.7,132.0 540.8,132.0 544.0,132.0 547.2,132.0 550.3,132.0 553.5,132.0 556.6,132.0 559.8,132.0 562.9,132.0 566.0,132.0 569.1,132.0 572.2,132.0 575.2,132.0 578.3,132.0 581.3,132.0 584.4,132.0 587.4,132.0 590.4,132.0 593.7,132.0 597.2,132.0 600.6,132.0 604.1,132.0 607.5,132.0 610.9,132.0 614.2,132.0 617.6,132.0 620.9,132.0 624.2,132.0 627.4,132.0 630.7,132.0 633.9,132.0 637.1,132.0 640.2,132.0 643.4,132.0 646.5,132.0 649.5,132.0 652.6,132.0 655.6,132.0 659.0,132.0 662.5,132.0 666.0,132.0 669.4,132.0 672.8,132.0 676.2,132.0 679.5,132.0 680.0,132.0" stroke="#cc70ff" stroke-width="4.0" fill="none"/>
<path d="M233.2,145.7 L236.8,146.6 240.4,147.6 243.4,148.4 246.4,149.2 249.4,150.0 252.4,150.8 255.5,151.6 258.7,152.5 261.9,153.3 265.1,154.2 268.3,155.1 271.6,155.9 274.9,156.8 278.3,157.7 281.7,158.6 285.2,159.6 288.3,160.4 291.2,161.2 294.1,162.0 297.1,162.8 300.1,163.6 303.1,164.4 306.1,165.2 309.2,166.0 312.3,166.8 315.4,167.6 318.5,168.5 321.6,169.3 324.8,170.2 328.0,171.0 331.2,171.9 334.4,172.7 337.6,173.6 340.9,174.5 344.1,175.4 347.4,176.2 350.7,177.1 354.1,178.0 357.4,178.9 360.8,179.8 364.1,180.7 367.2,181.5 370.1,182.3 373.0,183.1 376.0,183.9 378.9,184.7 381.9,185.5 384.8,186.3 387.8,187.0 390.8,187.8 393.8,188.6 396.8,189.5 399.8,190.3 402.8,191.1 405.9,191.9 408.9,192.7 411.9,193.5 415.0,194.3 418.1,195.1 421.1,196.0 424.2,196.8 427.3,197.6 430.4,198.4 433.4,199.3 436.5,200.1 439.6,200.9 442.8,201.8 445.9,202.6 449.0,203.4 452.1,204.3 455.2,205.1 458.4,205.9 461.5,206.8 464.7,207.6 467.8,208.5 470.9,209.3 474.1,210.1 477.3,211.0 480.4,211.8 483.6,212.7 486.7,213.5 489.9,214.4 493.1,215.2 496.2,216.1 499.4,216.9 502.6,217.8 505.7,218.6 508.9,219.5 512.1,220.3 515.2,221.2 518.4,222.0 521.6,222.9 524.8,223.7 527.9,224.6 531.1,225.4 534.3,226.3 537.4,227.1 540.6,227.9 543.8,228.8 546.9,229.6 550.1,230.5 553.2,231.3 556.4,232.2 559.5,233.0 562.7,233.9 565.8,234.7 569.0,235.5 572.1,236.4 575.2,237.2 578.3,238.1 581.5,238.9 584.6,239.7 587.7,240.6 590.8,241.4 593.9,242.2 597.0,243.1 600.1,243.9 603.2,244.7 606.2,245.5 609.3,246.3 612.4,247.2 615.4,248.0 618.5,248.8 621.5,249.6 624.6,250.4 627.6,251.2 630.6,252.0 633.6,252.8 636.6,253.7 639.6,254.5 642.6,255.3 645.5,256.0 648.5,256.8 651.5,257.6 654.4,258.4 657.3,259.2 660.2,260.0 663.2,260.8 666.5,261.6 669.8,262.5 673.2,263.4 676.5,264.3 679.8,265.2 683.1,266.1 686.4,267.0 689.7,267.9 692.9,268.7 696.1,269.6 699.3,270.4 702.5,271.3 705.7,272.2 708.9,273.0 712.0,273.8 715.1,274.7 718.2,275.5 721.3,276.3 724.3,277.1 727.3,277.9 730.3,278.7 733.3,279.5 736.3,280.3 739.2,281.1 742.1,281.9 745.5,282.8 748.9,283.7 751.1,284.3" stroke="#c455ff" stroke-width="4.2" fill="none"/>
<path d="M153.7,290.2 L156.9,289.3 160.0,288.5 163.3,287.6 166.5,286.7 169.9,285.8 173.2,284.9 176.6,284.0 180.0,283.1 183.5,282.2 186.4,281.4 189.3,280.6 192.2,279.8 195.2,279.0 198.2,278.2 201.2,277.4 204.3,276.6 207.3,275.8 210.4,275.0 213.5,274.1 216.7,273.3 219.8,272.5 223.0,271.6 226.2,270.7 229.4,269.9 232.6,269.0 235.9,268.2 239.1,267.3 242.4,266.4 245.7,265.5 249.0,264.6 252.3,263.7 255.7,262.8 259.1,261.9 262.4,261.0 265.3,260.3 268.3,259.5 271.2,258.7 274.1,257.9 277.1,257.1 280.0,256.3 283.0,255.5 286.0,254.7 289.0,253.9 292.0,253.1 295.0,252.3 298.0,251.5 301.0,250.7 304.1,249.9 307.1,249.1 310.1,248.3 313.2,247.4 316.3,246.6 319.3,245.8 322.4,245.0 325.5,244.1 328.6,243.3 331.7,242.5 334.8,241.7 337.9,240.8 341.0,240.0 344.1,239.2 347.2,238.3 350.4,237.5 353.5,236.6 356.6,235.8 359.8,235.0 362.9,234.1 366.1,233.3 369.2,232.4 372.4,231.6 375.5,230.7 378.7,229.9 381.8,229.0 385.0,228.2 388.2,227.3 391.3,226.5 394.5,225.7 397.7,224.8 400.8,224.0 404.0,223.1 407.2,222.3 410.4,221.4 413.5,220.6 416.7,219.7 419.9,218.9 423.0,218.0 426.2,217.2 429.4,216.3 432.5,215.5 435.7,214.6 438.9,213.8 442.0,212.9 445.2,212.1 448.4,211.2 451.5,210.4 454.7,209.5 457.8,208.7 461.0,207.8 464.1,207.0 467.2,206.2 470.4,205.3 473.5,204.5 476.6,203.6 479.8,202.8 482.9,202.0 486.0,201.1 489.1,200.3 492.2,199.5 495.3,198.6 498.4,197.8 501.5,197.0 504.5,196.2 507.6,195.3 510.7,194.5 513.7,193.7 516.8,192.9 519.8,192.1 522.8,191.3 525.9,190.5 528.9,189.7 531.9,188.8 534.9,188.0 537.9,187.2 540.8,186.4 543.8,185.6 546.8,184.9 549.7,184.1 552.6,183.3 555.6,182.5 558.5,181.7 561.5,180.9 564.9,180.0 568.2,179.1 571.6,178.2 574.9,177.3 578.2,176.4 581.5,175.6 584.8,174.7 588.0,173.8 591.3,172.9 594.5,172.1 597.7,171.2 600.9,170.4 604.1,169.5 607.2,168.7 610.3,167.8 613.4,167.0 616.5,166.2 619.6,165.3 622.6,164.5 625.6,163.7 628.6,162.9 631.6,162.1 634.5,161.3 637.5,160.6 640.5,159.8 643.9,158.8 647.3,157.9 650.7,157.0 654.0,156.1 657.3,155.2 660.6,154.4 663.8,153.5 667.0,152.6 670.2,151.8 673.3,151.0 676.3,150.1 679.4,149.3 680.4,149.1" stroke="#c455ff" stroke-width="4.5" fill="none"/>
<path d="M182.1,669.3 L182.1,666.2 182.1,663.0 182.1,659.7 182.1,656.2 182.1,652.7 182.1,649.1 182.1,645.4 182.1,642.3 182.1,639.2 182.1,636.1 182.1,632.9 182.1,629.7 182.1,626.4 182.1,623.1 182.1,619.7 182.1,616.2 182.1,612.8 182.1,609.2 182.1,605.8 182.1,602.8 182.1,599.7 182.1,596.7 182.1,593.6 182.1,590.4 182.1,587.3 182.1,584.1 182.1,580.9 182.1,577.7 182.1,574.4 182.1,571.1 182.1,567.8 182.1,564.5 182.1,561.1 182.1,557.7 182.1,554.3 182.1,550.9 182.1,547.5 182.1,544.0 182.1,540.6 182.1,537.6 182.1,534.6 182.1,531.5 182.1,528.5 182.1,525.4 182.1,522.4 182.1,519.3 182.1,516.2 182.1,513.1 182.1,510.0 182.1,506.9 182.1,503.7 182.1,500.6 182.1,497.4 182.1,494.3 182.1,491.1 182.1,487.9 182.1,484.7 182.1,481.5 182.1,478.3 182.1,475.1 182.1,471.9 182.1,468.6 182.1,465.4 182.1,462.2 182.1,458.9 182.1,455.7 182.1,452.4 182.1,449.2 182.1,445.9 182.1,442.6 182.1,439.4 182.1,436.1 182.1,432.8 182.1,429.5 182.1,426.3 182.1,423.0 182.1,419.7 182.1,416.4 182.1,413.1 182.2,409.8 182.2,406.6 182.2,403.3 182.2,400.0 182.2,396.7 182.2,393.4 182.2,390.2 182.2,386.9 182.2,383.6 182.2,380.4 182.2,377.1 182.2,373.8 182.2,370.6 182.2,367.3 182.2,364.1 182.2,360.8 182.2,357.6 182.2,354.4 182.2,351.2 182.2,347.9 182.2,344.7 182.2,341.5 182.2,338.3 182.2,335.2 182.2,332.0 182.2,328.8 182.2,325.7 182.2,322.5 182.2,319.4 182.2,316.2 182.2,313.1 182.2,310.0 182.2,306.9 182.2,303.8 182.2,300.8 182.2,297.7 182.2,294.7 182.2,291.6 182.2,288.6 182.2,285.6 182.2,282.3 182.2,278.8 182.2,275.4 182.2,271.9 182.2,268.5 182.2,265.1 182.2,261.8 182.2,258.4 182.2,255.1 182.2,251.8 182.2,248.6 182.2,245.3 182.2,242.1 182.2,238.9 182.2,235.8 182.2,232.7 182.2,229.6 182.2,226.5 182.2,223.4 182.2,220.4 182.2,217.0 182.2,213.5 182.2,210.0 182.2,206.6 182.2,203.2 182.2,199.9 182.2,196.6 182.2,193.3 182.2,190.1 182.2,187.0 182.2,183.9 182.2,180.9 182.2,177.2 182.2,173.6 182.2,170.0 182.2,167.7" stroke="#eec8ff" stroke-width="4.3" fill="none"/>
<path d="M360.3,53.7 L360.3,57.6 360.3,61.1 360.3,64.2 360.3,67.3 360.3,70.6 360.3,73.9 360.3,77.2 360.3,80.7 360.3,84.2 360.3,87.8 360.3,91.4 360.3,95.1 360.3,98.3 360.3,101.3 360.3,104.4 360.3,107.6 360.3,110.7 360.3,113.9 360.3,117.2 360.3,120.5 360.3,123.8 360.3,127.2 360.3,130.6 360.3,134.0 360.3,137.5 360.3,141.0 360.3,144.5 360.3,148.1 360.3,151.1 360.3,154.1 360.3,157.1 360.3,160.2 360.3,163.3 360.3,166.4 360.3,169.5 360.3,172.7 360.3,175.9 360.3,179.1 360.3,182.3 360.3,185.5 360.3,188.7 360.3,192.0 360.3,195.3 360.3,198.6 360.3,201.9 360.3,205.3 360.3,208.6 360.3,212.0 360.3,215.4 360.3,218.8 360.3,222.2 360.3,225.7 360.3,229.1 360.3,232.6 360.3,236.1 360.3,239.6 360.3,242.6 360.3,245.6 360.3,248.6 360.3,251.7 360.3,254.7 360.3,257.8 360.3,260.9 360.3,263.9 360.3,267.0 360.3,270.1 360.3,273.2 360.3,276.3 360.3,279.5 360.3,282.6 360.3,285.7 360.3,288.9 360.3,292.0 360.3,295.2 360.3,298.3 360.3,301.5 360.3,304.7 360.3,307.9 360.3,311.1 360.3,314.3 360.3,317.5 360.3,320.7 360.3,323.9 360.3,327.1 360.3,330.3 360.3,333.6 360.3,336.8 360.3,340.0 360.3,343.3 360.3,346.5 360.3,349.8 360.3,353.0 360.3,356.3 360.3,359.6 360.3,362.8 360.3,366.1 360.3,369.4 360.3,372.6 360.3,375.9 360.3,379.2 360.3,382.5 360.3,385.7 360.3,389.0 360.3,392.3 360.3,395.6 360.3,398.9 360.3,402.2 360.3,405.5 360.3,408.7 360.3,412.0 360.4,415.3 360.4,418.6 360.4,421.9 360.4,425.2 360.4,428.5 360.4,431.8 360.4,435.0 360.4,438.3 360.4,441.6 360.4,444.9 360.4,448.2 360.4,451.4 360.4,454.7 360.4,458.0 360.4,461.3 360.4,464.5 360.4,467.8 360.4,471.0 360.4,474.3 360.4,477.5 360.4,480.8 360.4,484.0 360.4,487.3 360.4,490.5 360.4,493.8 360.4,497.0 360.4,500.2 360.4,503.4 360.4,506.6 360.4,509.8 360.4,513.0 360.4,516.2 360.4,519.4 360.4,522.6 360.4,525.8 360.4,528.9 360.4,532.1 360.4,535.3 360.4,538.4 360.4,541.6 360.4,544.7 360.4,547.8 360.4,550.9 360.4,554.0 360.4,557.1 360.4,560.2 360.4,563.3 360.4,566.4 360.4,569.4 360.4,572.5 360.4,575.5 360.4,578.6 360.4,581.6 360.4,584.6 360.4,587.9 360.4,591.4 360.4,594.8 360.4,598.3 360.4,601.8 360.4,605.2 360.4,608.6 360.4,612.0 360.4,615.4 360.4,618.8 360.4,622.1 360.4,625.4 360.4,628.7 360.4,632.0 360.4,635.3 360.4,638.6 360.4,641.8 360.4,645.0 360.4,648.2 360.4,651.4 360.4,654.6 360.4,657.7 360.4,660.8 360.4,663.9 360.4,667.0 360.4,670.1 360.4,673.1 360.4,676.1 360.4,679.4 360.4,683.0 360.4,686.5 360.4,690.0 360.4,693.4 360.4,696.8 360.4,700.2 360.4,703.6 360.4,706.9 360.4,710.1 360.4,713.4 360.4,716.6 360.4,719.7 360.4,722.8 360.4,725.9 360.4,728.9 360.4,732.4 360.4,736.1 360.4,739.7 360.4,743.3 360.4,746.7 360.4,750.2 360.4,753.5 360.4,756.8 360.4,759.9 360.4,761.0" stroke="#eec8ff" stroke-width="4.2" fill="none"/>
<path d="M566.1,772.0 L566.1,768.1 566.1,764.6 566.1,761.5 566.1,758.4 566.1,755.1 566.1,751.8 566.1,748.5 566.1,745.0 566.1,741.5 566.1,737.9 566.1,734.3 566.1,730.6 566.1,727.4 566.1,724.4 566.1,721.3 566.1,718.1 566.1,715.0 566.1,711.8 566.1,708.5 566.1,705.2 566.1,701.9 566.1,698.5 566.1,695.1 566.1,691.7 566.1,688.2 566.1,684.7 566.1,681.2 566.1,677.6 566.1,674.6 566.1,671.6 566.1,668.6 566.1,665.5 566.1,662.4 566.1,659.3 566.1,656.2 566.1,653.0 566.1,649.8 566.1,646.6 566.1,643.4 566.1,640.2 566.1,637.0 566.1,633.7 566.1,630.4 566.1,627.1 566.1,623.8 566.1,620.4 566.1,617.1 566.1,613.7 566.1,610.3 566.1,606.9 566.1,603.5 566.1,600.0 566.1,596.6 566.1,593.1 566.1,589.6 566.1,586.1 566.1,583.1 566.1,580.1 566.1,577.1 566.1,574.0 566.1,571.0 566.1,567.9 566.1,564.8 566.1,561.8 566.1,558.7 566.1,555.6 566.1,552.5 566.1,549.4 566.1,546.2 566.1,543.1 566.1,540.0 566.1,536.8 566.1,533.7 566.1,530.5 566.1,527.4 566.1,524.2 566.1,521.0 566.1,517.8 566.1,514.6 566.1,511.4 566.1,508.2 566.1,505.0 566.1,501.8 566.1,498.6 566.1,495.4 566.1,492.1 566.1,488.9 566.1,485.7 566.1,482.4 566.1,479.2 566.1,475.9 566.1,472.7 566.1,469.4 566.1,466.1 566.1,462.9 566.1,459.6 566.1,456.3 566.1,453.1 566.1,449.8 566.1,446.5 566.1,443.2 566.1,440.0 566.1,436.7 566.1,433.4 566.1,430.1 566.1,426.8 566.1,423.5 566.1,420.2 566.1,417.0 566.1,413.7 566.0,410.4 566.0,407.1 566.0,403.8 566.0,400.5 566.0,397.2 566.0,393.9 566.0,390.7 566.0,387.4 566.0,384.1 566.0,380.8 566.0,377.5 566.0,374.3 566.0,371.0 566.0,367.7 566.0,364.4 566.0,361.2 566.0,357.9 566.0,354.7 566.0,351.4 566.0,348.2 566.0,344.9 566.0,341.7 566.0,338.4 566.0,335.2 566.0,331.9 566.0,328.7 566.0,325.5 566.0,322.3 566.0,319.1 566.0,315.9 566.0,312.7 566.0,309.5 566.0,306.3 566.0,303.1 566.0,299.9 566.0,296.8 566.0,293.6 566.0,290.4 566.0,287.3 566.0,284.1 566.0,281.0 566.0,277.9 566.0,274.8 566.0,271.7 566.0,268.6 566.0,265.5 566.0,262.4 566.0,259.3 566.0,256.3 566.0,253.2 566.0,250.2 566.0,247.1 566.0,244.1 566.0,241.1 566.0,237.8 566.0,234.3 566.0,230.9 566.0,227.4 566.0,223.9 566.0,220.5 566.0,217.1 566.0,213.7 566.0,210.3 566.0,206.9 566.0,203.6 566.0,200.3 566.0,197.0 566.0,193.7 566.0,190.4 566.0,187.1 566.0,183.9 566.0,180.7 566.0,177.5 566.0,174.3 566.0,171.1 566.0,168.0 566.0,164.9 566.0,161.8 566.0,158.7 566.0,155.6 566.0,152.6 566.0,149.6 566.0,146.3 566.0,142.7 566.0,139.2 566.0,135.7 566.0,132.3 566.0,128.9 566.0,125.5 566.0,122.1 566.0,118.8 566.0,115.6 566.0,112.3 566.0,109.1 566.0,106.0 566.0,102.9 566.0,99.8 566.0,96.8 566.0,93.3 566.0,89.6 566.0,86.0 566.0,82.4 566.0,79.0 566.0,75.5 566.0,72.2 566.0,68.9 566.0,65.8 566.0,64.7" stroke="#e9beff" stroke-width="4.0" fill="none"/>
<path d="M452,21 C460,21.5 468,23 475.5,27" stroke="#eec8ff" stroke-width="4" fill="none"/>
<path d="M476,38.2 C472,38.5 468,38.5 464,38.5" stroke="#eec8ff" stroke-width="4" fill="none"/>
<path d="M487,29.3 L464,29.3" stroke="#e6b4ff" stroke-width="4" fill="none"/>
<path d="M232.7,123.9 C243.7,124.4 257.1,126.0 257.1,131.9 C257.1,135.5 252.7,138.0 246.3,138.9" stroke="#cc70ff" stroke-width="4.6" fill="none"/>
<path d="M931.8,301.8 C942.8,302.3 956.2,303.9 956.2,309.8 C956.2,313.4 951.8,315.9 945.4,316.8" stroke="#bf36fb" stroke-width="4.1" fill="none"/>
<path d="M134.3,507.4 C145.3,507.9 158.8,509.5 158.8,515.4 C158.8,519.0 154.3,521.5 147.9,522.4" stroke="#e8b8ff" stroke-width="3.7" fill="none"/>
<path d="M217.8,685.6 C228.8,686.1 242.2,687.7 242.2,693.6 C242.2,697.2 237.8,699.7 231.4,700.6" stroke="#eec8ff" stroke-width="3.7" fill="none"/>
<path d="M779.8,685.6 C790.8,686.1 804.1,687.7 804.1,693.6 C804.1,697.2 799.8,699.7 793.4,700.6" stroke="#eec8ff" stroke-width="3.7" fill="none"/>
<path d="M602.0,788.4 C613.0,788.9 626.4,790.5 626.4,796.4 C626.4,800.0 622.0,802.5 615.6,803.4" stroke="#eec8ff" stroke-width="3.7" fill="none"/>
<polygon points="315.6,62.2 323.8,51.4 310.4,53.5" fill="#eec8ff" stroke="#eec8ff" stroke-width="1.6"/>
<polygon points="226.9,99.0 218.7,109.8 232.1,107.7" fill="#eec8ff" stroke="#eec8ff" stroke-width="1.6"/>
<polygon points="242.2,109.5 231.4,117.8 245.0,119.4" fill="#eec8ff" stroke="#eec8ff" stroke-width="1.6"/>
<polygon points="477.0,59.5 487.8,51.4 474.4,49.9" fill="#dfa3ff" stroke="#dfa3ff" stroke-width="1.6"/>
<polygon points="337.4,64.5 341.9,51.7 329.8,57.9" fill="#eec8ff" stroke="#eec8ff" stroke-width="1.6"/>
<polygon points="109.9,275.7 104.0,287.9 116.5,282.8" fill="#d68cff" stroke="#d68cff" stroke-width="1.6"/>
<polygon points="93.6,479.6 91.8,493.0 102.4,484.5" fill="#eec8ff" stroke="#eec8ff" stroke-width="1.6"/>
<polygon points="346.0,65.1 347.8,51.7 337.3,60.2" fill="#dfa3ff" stroke="#dfa3ff" stroke-width="1.6"/>
<polygon points="356.2,65.1 354.5,51.6 346.5,62.6" fill="#eec8ff" stroke="#eec8ff" stroke-width="1.6"/>
<polygon points="186.2,657.8 187.9,671.3 195.9,660.3" fill="#eec8ff" stroke="#eec8ff" stroke-width="1.6"/>
<polygon points="557.9,761.9 564.1,774.0 568.0,761.0" fill="#eec8ff" stroke="#eec8ff" stroke-width="1.6"/>
<polygon points="382.7,60.6 372.3,51.9 373.8,65.4" fill="#e8b8ff" stroke="#e8b8ff" stroke-width="1.6"/>
<polygon points="719.9,663.1 730.7,671.4 728.6,657.9" fill="#eec8ff" stroke="#eec8ff" stroke-width="1.6"/>
<polygon points="384.3,59.8 373.5,51.5 375.6,65.0" fill="#eec8ff" stroke="#eec8ff" stroke-width="1.6"/>
<polygon points="811.8,487.6 824.2,493.0 818.8,480.6" fill="#eec8ff" stroke="#eec8ff" stroke-width="1.6"/>
<polygon points="679.5,119.8 692.9,118.3 682.0,110.3" fill="#eec8ff" stroke="#eec8ff" stroke-width="1.6"/>
<polygon points="126.5,277.1 118.1,287.7 131.5,285.7" fill="#eec8ff" stroke="#eec8ff" stroke-width="1.6"/>
<polygon points="539.0,64.1 544.2,51.6 531.8,57.1" fill="#eec8ff" stroke="#eec8ff" stroke-width="1.6"/>
<polygon points="106.5,480.7 101.2,493.1 113.4,487.5" fill="#d68cff" stroke="#d68cff" stroke-width="1.6"/>
<polygon points="197.1,657.8 195.1,671.2 205.7,662.8" fill="#eec8ff" stroke="#eec8ff" stroke-width="1.6"/>
<polygon points="358.3,761.1 362.3,774.0 368.3,761.9" fill="#e6b4ff" stroke="#e6b4ff" stroke-width="1.6"/>
<polygon points="552.1,65.3 553.8,51.9 543.3,60.6" fill="#e6b4ff" stroke="#e6b4ff" stroke-width="1.6"/>
<polygon points="580.0,62.5 572.0,51.6 570.5,65.0" fill="#eec8ff" stroke="#eec8ff" stroke-width="1.6"/>
<polygon points="597.1,57.8 585.1,51.5 589.7,64.3" fill="#eec8ff" stroke="#eec8ff" stroke-width="1.6"/>
<polygon points="691.8,107.6 705.2,109.6 696.8,99.0" fill="#eec8ff" stroke="#eec8ff" stroke-width="1.6"/>
<polygon points="93.2,274.4 91.4,287.8 102.0,279.3" fill="#eec8ff" stroke="#eec8ff" stroke-width="1.6"/>
<polygon points="168.0,168.2 169.8,154.8 159.2,163.3" fill="#eec8ff" stroke="#eec8ff" stroke-width="1.6"/>
<polygon points="196.6,165.1 188.4,154.3 187.0,167.8" fill="#eec8ff" stroke="#eec8ff" stroke-width="1.6"/>
<polygon points="346.0,763.4 354.2,774.2 355.6,760.7" fill="#eec8ff" stroke="#eec8ff" stroke-width="1.6"/>
<polygon points="205.5,163.1 194.9,154.6 196.8,168.1" fill="#eec8ff" stroke="#eec8ff" stroke-width="1.6"/>
<polygon points="542.8,765.4 553.4,773.9 551.5,760.4" fill="#e3acff" stroke="#e3acff" stroke-width="1.6"/>
<polygon points="234.5,156.4 221.1,154.4 229.5,165.0" fill="#eec8ff" stroke="#eec8ff" stroke-width="1.6"/>
<polygon points="698.1,668.2 711.3,671.3 703.8,660.1" fill="#eec8ff" stroke="#eec8ff" stroke-width="1.6"/>
<polygon points="95.1,479.5 93.0,492.9 103.7,484.6" fill="#dfa3ff" stroke="#dfa3ff" stroke-width="1.6"/>
<polygon points="696.7,165.1 705.1,154.4 691.7,156.4" fill="#e8b8ff" stroke="#e8b8ff" stroke-width="1.6"/>
<polygon points="739.6,167.8 738.1,154.4 730.0,165.3" fill="#e8b8ff" stroke="#e8b8ff" stroke-width="1.6"/>
<polygon points="114.2,338.0 101.8,332.6 107.2,345.0" fill="#dfa3ff" stroke="#dfa3ff" stroke-width="1.6"/>
<polygon points="103.4,340.9 92.7,332.6 94.8,346.0" fill="#eec8ff" stroke="#eec8ff" stroke-width="1.6"/>
<polygon points="336.3,765.7 347.0,774.0 344.9,760.6" fill="#eec8ff" stroke="#eec8ff" stroke-width="1.6"/>
<polygon points="172.9,659.1 179.6,670.9 182.8,657.7" fill="#eec8ff" stroke="#eec8ff" stroke-width="1.6"/>
<polygon points="96.8,342.7 87.8,332.6 87.4,346.2" fill="#eec8ff" stroke="#eec8ff" stroke-width="1.6"/>
<polygon points="85.1,345.2 79.9,332.7 75.1,345.4" fill="#eec8ff" stroke="#eec8ff" stroke-width="1.6"/>
<polygon points="73.6,480.4 78.8,492.9 83.6,480.2" fill="#e8b8ff" stroke="#e8b8ff" stroke-width="1.6"/>
<polygon points="818.8,344.8 824.2,332.4 811.8,337.8" fill="#e8b8ff" stroke="#e8b8ff" stroke-width="1.6"/>
<polygon points="831.6,346.0 833.6,332.6 823.0,341.0" fill="#eec8ff" stroke="#eec8ff" stroke-width="1.6"/>
<polygon points="799.3,520.5 811.9,515.5 799.3,510.5" fill="#eec8ff" stroke="#eec8ff" stroke-width="1.6"/>
<polygon points="695.7,685.9 709.1,684.4 698.2,676.3" fill="#eec8ff" stroke="#eec8ff" stroke-width="1.6"/>
<polygon points="131.5,539.9 118.1,537.9 126.6,548.5" fill="#dfa3ff" stroke="#dfa3ff" stroke-width="1.6"/>
<polygon points="114.8,543.0 102.3,537.7 107.8,550.2" fill="#eec8ff" stroke="#eec8ff" stroke-width="1.6"/>
<polygon points="325.0,769.0 337.5,774.3 332.0,761.8" fill="#eec8ff" stroke="#eec8ff" stroke-width="1.6"/>
<polygon points="103.9,546.4 93.1,538.1 95.2,551.5" fill="#eec8ff" stroke="#eec8ff" stroke-width="1.6"/>
<polygon points="157.6,662.8 168.3,671.1 166.2,657.7" fill="#eec8ff" stroke="#eec8ff" stroke-width="1.6"/>
<polygon points="700.9,724.3 709.3,713.7 695.9,715.7" fill="#eec8ff" stroke="#eec8ff" stroke-width="1.6"/>
<polygon points="407.7,790.4 395.2,795.6 407.9,800.6" fill="#e8bcff" stroke="#e8bcff" stroke-width="1.6"/>
<polygon points="518.8,802.6 531.3,797.4 518.6,792.4" fill="#eec8ff" stroke="#eec8ff" stroke-width="1.6"/>
<polygon points="448.9,379.3 456.9,390.2 458.4,376.7" fill="#b3bbff" stroke="#b3bbff" stroke-width="1.6"/>
<polygon points="467.4,376.7 468.9,390.2 477.0,379.3" fill="#9ba6fa" stroke="#9ba6fa" stroke-width="1.6"/>
<polygon points="427.9,384.6 440.3,390.0 434.9,377.6" fill="#b3bbff" stroke="#b3bbff" stroke-width="1.6"/>
<polygon points="415.0,405.0 428.5,403.4 417.6,395.3" fill="#9ba6fa" stroke="#9ba6fa" stroke-width="1.6"/>
<polygon points="417.6,429.9 428.5,421.8 415.0,420.3" fill="#a6b0fb" stroke="#a6b0fb" stroke-width="1.6"/>
<polygon points="435.3,447.2 440.8,434.8 428.4,440.2" fill="#b3bbff" stroke="#b3bbff" stroke-width="1.6"/>
<polygon points="458.4,448.5 456.9,435.1 448.9,446.0" fill="#b3bbff" stroke="#b3bbff" stroke-width="1.6"/>
<polygon points="477.0,445.9 468.9,435.1 467.4,448.5" fill="#6676ff" stroke="#6676ff" stroke-width="1.6"/>
<polygon points="497.5,440.2 485.1,434.8 490.5,447.2" fill="#b3bbff" stroke="#b3bbff" stroke-width="1.6"/>
<polygon points="510.8,420.3 497.3,421.8 508.2,429.9" fill="#b3bbff" stroke="#b3bbff" stroke-width="1.6"/>
<polygon points="716.1,167.0 721.5,154.6 709.0,159.9" fill="#ffbfbf" stroke="#ffbfbf" stroke-width="1.6"/>
<polygon points="752.6,340.3 763.5,332.2 750.0,330.6" fill="#ffbfbf" stroke="#ffbfbf" stroke-width="1.6"/>
<polygon points="798.6,514.4 811.7,511.1 799.9,504.6" fill="#dfa3ff" stroke="#dfa3ff" stroke-width="1.6"/>
<polygon points="750.7,327.6 762.5,321.0 749.3,317.8" fill="#e8b8ff" stroke="#e8b8ff" stroke-width="1.6"/>
<polygon points="680.2,137.0 692.8,132.0 680.2,127.0" fill="#cc70ff" stroke="#cc70ff" stroke-width="1.6"/>
<polygon points="750.1,289.3 763.6,287.7 752.7,279.5" fill="#c455ff" stroke="#c455ff" stroke-width="1.6"/>
<polygon points="681.9,153.9 692.8,145.7 679.3,144.1" fill="#c455ff" stroke="#c455ff" stroke-width="1.6"/>
<polygon points="187.2,167.2 182.2,154.6 177.1,167.2" fill="#eec8ff" stroke="#eec8ff" stroke-width="1.6"/>
<polygon points="355.4,761.1 360.4,773.7 365.4,761.1" fill="#eec8ff" stroke="#eec8ff" stroke-width="1.6"/>
<polygon points="571.0,64.6 566.0,52.0 561.0,64.6" fill="#e9beff" stroke="#e9beff" stroke-width="1.6"/>
<polygon points="474.0,30.9 487.4,29.1 476.4,21.2" fill="#eec8ff" stroke="#eec8ff" stroke-width="1.6"/>
<polygon points="463.8,24.3 451.2,29.3 463.8,34.3" fill="#e3adff" stroke="#e3adff" stroke-width="1.6"/>
<polygon points="464.8,34.0 451.8,37.7 463.8,43.9" fill="#eec8ff" stroke="#eec8ff" stroke-width="1.6"/>
<polygon points="244.2,134.1 232.5,140.9 245.7,144.1" fill="#cc70ff" stroke="#cc70ff" stroke-width="1.6"/>
<polygon points="943.3,312.0 931.6,318.8 944.8,322.0" fill="#bf36fb" stroke="#bf36fb" stroke-width="1.6"/>
<polygon points="145.9,517.7 134.1,524.4 147.3,527.5" fill="#e8b8ff" stroke="#e8b8ff" stroke-width="1.6"/>
<polygon points="229.4,695.9 217.6,702.6 230.8,705.7" fill="#eec8ff" stroke="#eec8ff" stroke-width="1.6"/>
<polygon points="791.3,695.9 779.5,702.6 792.7,705.7" fill="#eec8ff" stroke="#eec8ff" stroke-width="1.6"/>
<polygon points="613.6,798.7 601.8,805.4 615.0,808.5" fill="#eec8ff" stroke="#eec8ff" stroke-width="1.6"/>
</g>
<g>
<rect x="269.4" y="6.6" width="181.8" height="45.2" rx="13.5" ry="13.5" fill="#7080ff"/>
<text x="360.3" y="33.0" fill="#fff">ZNF711_TFAP2A_TFAP2D</text>
<rect x="488.0" y="6.6" width="156.0" height="45.2" rx="13.5" ry="13.5" fill="#5b69ff"/>
<text x="566.0" y="33.0" fill="#fff">MAZ_ZNF281_GTF2F1</text>
<rect x="132.7" y="109.4" width="99.0" height="45.2" rx="13.5" ry="13.5" fill="#7080ff"/>
<text x="182.2" y="135.8" fill="#fff">PATZ1_KLF4</text>
<rect x="692.7" y="109.4" width="102.7" height="45.2" rx="13.5" ry="13.5" fill="#8792ff"/>
<text x="744.0" y="135.8" fill="#000">EPAS1_BCL3</text>
<rect x="6.9" y="287.6" width="144.8" height="45.0" rx="13.5" ry="13.5" fill="#7886ff"/>
<text x="79.3" y="313.9" fill="#000">WT1_MTF1_ZBTB7B</text>
<rect x="762.6" y="287.3" width="168.2" height="45.2" rx="13.5" ry="13.5" fill="#3846f8"/>
<text x="846.7" y="313.7" fill="#fff">IRF2_STAT2_IRF8_IRF1</text>
<rect x="428.2" y="390.1" width="69.4" height="45.0" rx="13.5" ry="13.5" fill="#ff9e9e"/>
<text x="462.9" y="416.4" fill="#000">GLIS2</text>
<rect x="25.3" y="492.9" width="108.0" height="45.2" rx="13.5" ry="13.5" fill="#7a86fc"/>
<text x="79.3" y="519.3" fill="#000">RCOR1_MTA3</text>
<rect x="812.0" y="492.9" width="69.5" height="45.2" rx="13.5" ry="13.5" fill="#a8b0ff"/>
<text x="846.7" y="519.3" fill="#000">KLF15</text>
<rect x="147.4" y="671.2" width="69.4" height="45.0" rx="13.5" ry="13.5" fill="#98a0ff"/>
<text x="182.1" y="697.5" fill="#000">E2F6</text>
<rect x="709.0" y="671.2" width="69.7" height="45.0" rx="13.5" ry="13.5" fill="#9098ff"/>
<text x="743.9" y="697.5" fill="#000">ZNF263</text>
<rect x="325.4" y="773.9" width="70.0" height="45.2" rx="13.5" ry="13.5" fill="#98a0ff"/>
<text x="360.4" y="800.3" fill="#000">GTF2I</text>
<rect x="531.2" y="773.9" width="69.8" height="45.2" rx="13.5" ry="13.5" fill="#8791ff"/>
<text x="566.1" y="800.3" fill="#000">SP3</text>
</g>
</svg>
</body></html>
